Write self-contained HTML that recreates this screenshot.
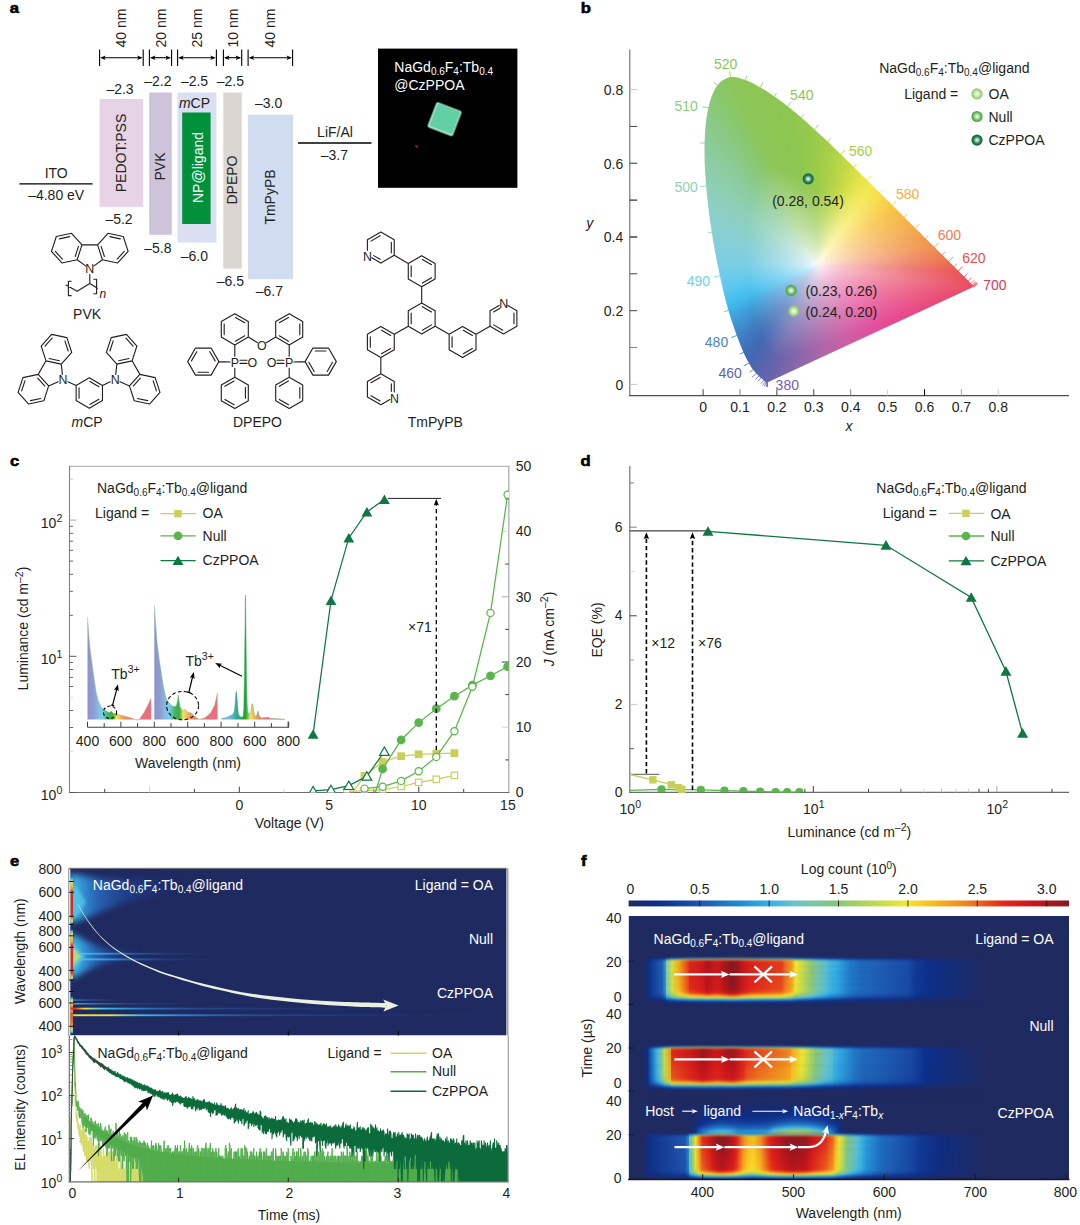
<!DOCTYPE html>
<html><head><meta charset="utf-8"><title>figure</title><style>
html,body{margin:0;padding:0;background:#fff}
body{width:1080px;height:1225px;position:relative;overflow:hidden;font-family:"Liberation Sans",sans-serif}
svg{position:absolute;left:0;top:0}
svg text{font-family:"Liberation Sans",sans-serif;font-size:14px;fill:#231F20}
</style></head><body>
<div style="position:absolute;left:696px;top:70px;width:284px;height:324px;background:conic-gradient(from 0deg at 121.8px 194.4px, #98CA4B -1.45deg, #ABD147 7.28deg, #C6DA45 16.77deg, #E4E449 26.15deg, #F4E74C 34.42deg, #F8DA47 42.99deg, #F8C742 51.44deg, #F4A846 69.58deg, #F08D49 81.58deg, #EC6C49 88.65deg, #E9514E 92.61deg, #E84755 96.25deg, #E8455B 98.09deg, #E8436C 104.38deg, #E74587 118.4deg, #E34C99 135.93deg, #CD5FA5 157.97deg, #B166A8 175.33deg, #9067AB 189.58deg, #7565AC 198.7deg, #6A62AC 203.12deg, #6463AD 204.98deg, #5466AF 209.45deg, #4468B2 214.92deg, #3F6FB8 220.15deg, #3F80C3 226.64deg, #3E9CD8 236.37deg, #42BCEE 246.36deg, #58C7EE 254.47deg, #78CEE6 268.15deg, #88CFD4 286.83deg, #8ECFB9 305.07deg, #8BCC9C 316.96deg, #89C980 324.99deg, #8AC768 330.76deg, #8CC65A 335.01deg, #8CC654 341.97deg, #8DC751 349.25deg, #98CA4B 358.55deg, #ABD147 367.28deg);clip-path:polygon(71.3px 312.6px, 71.2px 312.6px, 71px 312.6px, 70.8px 312.6px, 70.3px 312.5px, 69.4px 311.9px, 67.8px 310.4px, 67.5px 310.2px, 67.3px 310px, 67.1px 309.8px, 66.8px 309.6px, 66.5px 309.3px, 66.2px 309.1px, 65.9px 308.8px, 65.6px 308.5px, 65.3px 308.2px, 64.9px 307.9px, 64.5px 307.5px, 64.1px 307.2px, 63.7px 306.8px, 63.3px 306.5px, 62.8px 306px, 62.3px 305.6px, 61.8px 305.1px, 61.3px 304.6px, 60.8px 304.1px, 60.2px 303.5px, 59.7px 302.8px, 59.1px 302.2px, 58.5px 301.5px, 57.8px 300.6px, 57.1px 299.7px, 56.3px 298.6px, 55.5px 297.5px, 54.7px 296.2px, 53.8px 294.7px, 52.9px 293.1px, 51.9px 291.3px, 50.9px 289.4px, 49.8px 287.3px, 48.7px 285px, 47.5px 282.4px, 46.3px 279.6px, 45px 276.5px, 43.7px 273.2px, 42.3px 269.5px, 40.8px 265.5px, 39.2px 261.2px, 37.6px 256.5px, 35.9px 251.6px, 34.2px 246.2px, 32.5px 240.4px, 30.7px 234.3px, 29px 227.7px, 27.3px 220.7px, 25.5px 213.3px, 23.9px 205.7px, 22.2px 197.6px, 20.5px 189.1px, 18.8px 180.3px, 17.2px 171.3px, 15.8px 162.3px, 14.4px 153.2px, 13.1px 143.8px, 12px 134.4px, 11px 125.1px, 10.1px 116px, 9.5px 107.1px, 8.9px 98.2px, 8.6px 89.5px, 8.5px 81.1px, 8.5px 73.1px, 8.9px 65.4px, 9.4px 57.9px, 10.1px 50.8px, 11.1px 44.1px, 12.2px 38px, 13.7px 32.4px, 15.3px 27.2px, 17.2px 22.6px, 19.3px 18.6px, 21.5px 15.2px, 23.8px 12.5px, 26.3px 10.4px, 29px 8.9px, 31.7px 7.8px, 34.5px 7.1px, 37.4px 6.9px, 40.3px 7.3px, 43.3px 8px, 46.3px 8.9px, 49.2px 9.9px, 52.2px 11.1px, 55.2px 12.5px, 58.3px 14.1px, 61.2px 15.8px, 64.2px 17.4px, 67.1px 19.1px, 69.9px 20.8px, 72.7px 22.6px, 75.5px 24.5px, 78.3px 26.4px, 81px 28.3px, 83.7px 30.3px, 86.4px 32.3px, 89.1px 34.3px, 91.8px 36.4px, 94.5px 38.6px, 97.2px 40.8px, 99.9px 43px, 102.5px 45.2px, 105.2px 47.5px, 107.8px 49.8px, 110.5px 52.1px, 113.1px 54.5px, 115.8px 56.9px, 118.4px 59.3px, 121px 61.7px, 123.7px 64.2px, 126.3px 66.6px, 128.9px 69.1px, 131.6px 71.6px, 134.2px 74.1px, 136.8px 76.6px, 139.5px 79.2px, 142.1px 81.7px, 144.8px 84.3px, 147.4px 86.8px, 150px 89.4px, 152.7px 92px, 155.3px 94.6px, 157.9px 97.1px, 160.5px 99.7px, 163.2px 102.3px, 165.8px 104.9px, 168.4px 107.4px, 171px 110px, 173.6px 112.6px, 176.1px 115.1px, 178.7px 117.7px, 181.2px 120.2px, 183.8px 122.7px, 186.3px 125.2px, 188.8px 127.7px, 191.3px 130.2px, 193.8px 132.6px, 196.2px 135.1px, 198.6px 137.5px, 201.1px 139.9px, 203.4px 142.3px, 205.8px 144.6px, 208.1px 147px, 210.4px 149.2px, 212.7px 151.5px, 215px 153.7px, 217.2px 155.9px, 219.3px 158.1px, 221.5px 160.2px, 223.6px 162.3px, 225.6px 164.3px, 227.6px 166.4px, 229.6px 168.3px, 231.5px 170.2px, 233.3px 172px, 235px 173.7px, 236.8px 175.5px, 238.5px 177.1px, 240.1px 178.8px, 241.7px 180.4px, 243.3px 181.9px, 244.8px 183.5px, 246.3px 184.9px, 247.7px 186.3px, 249px 187.6px, 250.3px 188.9px, 251.6px 190.1px, 252.8px 191.3px, 253.9px 192.5px, 255px 193.6px, 256.1px 194.6px, 257.1px 195.6px, 258.1px 196.6px, 259px 197.5px, 259.9px 198.4px, 260.7px 199.2px, 261.5px 200px, 262.3px 200.8px, 263px 201.5px, 263.7px 202.2px, 264.4px 202.9px, 265px 203.5px, 265.6px 204.1px, 266.2px 204.7px, 266.8px 205.3px, 267.3px 205.8px, 267.8px 206.3px, 268.3px 206.8px, 268.8px 207.3px, 269.3px 207.7px, 269.7px 208.2px, 270.1px 208.6px, 270.6px 209px, 271px 209.4px, 271.4px 209.8px, 271.7px 210.2px, 272.1px 210.6px, 272.4px 210.9px, 275px 213.4px, 276.5px 214.9px, 277.2px 215.6px, 277.7px 216.2px, 278.1px 216.5px, 278.2px 216.6px)"></div>
<svg width="1080" height="1225" viewBox="0 0 1080 1225">
<defs><filter color-interpolation-filters="sRGB" id="bl07" x="-20%" y="-20%" width="140%" height="140%"><feGaussianBlur stdDeviation="0.7"/></filter><path id="cs" d="M-40.4 94.5L-43.2 92.8L-47.2 89.3L-49.3 87.2L-50.4 85.9L-51.8 84.2L-53.1 81.6L-54.7 78.3L-56.4 74.3L-58.4 69.2L-60.7 63L-63.2 55.5L-65.1 45.7L-67 34.5L-68.8 21.9L-70.5 8.1L-71 -6.7L-71 -21.5L-70.5 -35.6L-69.2 -48.6L-68.1 -60.6L-66.3 -71L-63.6 -79.5L-60.3 -86L-57.3 -92L-53.7 -95.9L-49.7 -97.5L-45.4 -97.4L-41.8 -97.6L-38.1 -96.8L-34.3 -95.5L-30.5 -93.8L-26.9 -91.9L-23.3 -89.9L-19.7 -87.7L-16.2 -85.3L-12.6 -82.8L-9.1 -80.1L-5.5 -77.2L-1.9 -74.3L1.9 -75.2L6 -75.6L10.6 -75.5L15.6 -75L21.1 -74L28.2 -76.1L36.7 -78.1L46.1 -79.2L55.6 -78L62 -71.7L68.3 -65.4L74.4 -59.3L80.6 -53.4L87.1 -47.8L93.5 -42.4L99.7 -37.1L105.8 -32L111.7 -27.1L117.2 -22.5L122.5 -18.1L126.9 -13.9L130.9 -10L134.6 -6.4L137.9 -3.2L141 -0.3L143.7 2.3L146.1 4.7L148.3 6.7L155.2 13.1L163.2 20.3L168.9 24L150.3 30.9L132.2 37.4L114.6 43.8L97.7 49.8L81 55.4L64.8 60.6L49.4 65.5L34.7 70.1L20.8 74.6L7.5 79.1L-5.2 83.3L-17.5 87.3L-29.2 91Z"/><clipPath id="cieclip"><path d="M767.3 382.6L767.2 382.6L767 382.6L766.8 382.6L766.3 382.5L765.4 381.9L763.8 380.4L763.5 380.2L763.3 380L763.1 379.8L762.8 379.6L762.5 379.3L762.2 379.1L761.9 378.8L761.6 378.5L761.3 378.2L760.9 377.9L760.5 377.5L760.1 377.2L759.7 376.8L759.3 376.5L758.8 376L758.3 375.6L757.8 375.1L757.3 374.6L756.8 374.1L756.2 373.5L755.7 372.8L755.1 372.2L754.5 371.5L753.8 370.6L753.1 369.7L752.3 368.6L751.5 367.5L750.7 366.2L749.8 364.7L748.9 363.1L747.9 361.3L746.9 359.4L745.8 357.3L744.7 355L743.5 352.4L742.3 349.6L741 346.5L739.7 343.2L738.3 339.5L736.8 335.5L735.2 331.2L733.6 326.5L731.9 321.6L730.2 316.2L728.5 310.4L726.7 304.3L725 297.7L723.3 290.7L721.5 283.3L719.9 275.7L718.2 267.6L716.5 259.1L714.8 250.3L713.2 241.3L711.8 232.3L710.4 223.2L709.1 213.8L708 204.4L707 195.1L706.1 186L705.5 177.1L704.9 168.2L704.6 159.5L704.5 151.1L704.5 143.1L704.9 135.4L705.4 127.9L706.1 120.8L707.1 114.1L708.2 108L709.7 102.4L711.3 97.2L713.2 92.6L715.3 88.6L717.5 85.2L719.8 82.5L722.3 80.4L725 78.9L727.7 77.8L730.5 77.1L733.4 76.9L736.3 77.3L739.3 78L742.3 78.9L745.2 79.9L748.2 81.1L751.2 82.5L754.3 84.1L757.2 85.8L760.2 87.4L763.1 89.1L765.9 90.8L768.7 92.6L771.5 94.5L774.3 96.4L777 98.3L779.7 100.3L782.4 102.3L785.1 104.3L787.8 106.4L790.5 108.6L793.2 110.8L795.9 113L798.5 115.2L801.2 117.5L803.8 119.8L806.5 122.1L809.1 124.5L811.8 126.9L814.4 129.3L817 131.7L819.7 134.2L822.3 136.6L824.9 139.1L827.6 141.6L830.2 144.1L832.8 146.6L835.5 149.2L838.1 151.7L840.8 154.3L843.4 156.8L846 159.4L848.7 162L851.3 164.6L853.9 167.1L856.5 169.7L859.2 172.3L861.8 174.9L864.4 177.4L867 180L869.6 182.6L872.1 185.1L874.7 187.7L877.2 190.2L879.8 192.7L882.3 195.2L884.8 197.7L887.3 200.2L889.8 202.6L892.2 205.1L894.6 207.5L897.1 209.9L899.4 212.3L901.8 214.6L904.1 217L906.4 219.2L908.7 221.5L911 223.7L913.2 225.9L915.3 228.1L917.5 230.2L919.6 232.3L921.6 234.3L923.6 236.4L925.6 238.3L927.5 240.2L929.3 242L931 243.7L932.8 245.5L934.5 247.1L936.1 248.8L937.7 250.4L939.3 251.9L940.8 253.5L942.3 254.9L943.7 256.3L945 257.6L946.3 258.9L947.6 260.1L948.8 261.3L949.9 262.5L951 263.6L952.1 264.6L953.1 265.6L954.1 266.6L955 267.5L955.9 268.4L956.7 269.2L957.5 270L958.3 270.8L959 271.5L959.7 272.2L960.4 272.9L961 273.5L961.6 274.1L962.2 274.7L962.8 275.3L963.3 275.8L963.8 276.3L964.3 276.8L964.8 277.3L965.3 277.7L965.7 278.2L966.1 278.6L966.6 279L967 279.4L967.4 279.8L967.7 280.2L968.1 280.6L968.4 280.9L971 283.4L972.5 284.9L973.2 285.6L973.7 286.2L974.1 286.5L974.2 286.6Z"/></clipPath><filter color-interpolation-filters="sRGB" id="cieblur" x="-10%" y="-10%" width="120%" height="120%"><feGaussianBlur stdDeviation="3"/></filter><radialGradient id="mCz"><stop offset="0" stop-color="#CFE3D4"/><stop offset="0.18" stop-color="#CFE3D4"/><stop offset="0.6" stop-color="#2E8558"/><stop offset="0.88" stop-color="#0B6B3A"/><stop offset="1" stop-color="#0B6B3A"/></radialGradient><radialGradient id="mNu"><stop offset="0" stop-color="#DFF0D8"/><stop offset="0.18" stop-color="#DFF0D8"/><stop offset="0.6" stop-color="#7CC26C"/><stop offset="0.88" stop-color="#4CA64B"/><stop offset="1" stop-color="#4CA64B"/></radialGradient><radialGradient id="mOA"><stop offset="0" stop-color="#EEF7E2"/><stop offset="0.18" stop-color="#EEF7E2"/><stop offset="0.6" stop-color="#B9DC9E"/><stop offset="0.88" stop-color="#92C96E"/><stop offset="1" stop-color="#92C96E"/></radialGradient>
<clipPath id="cclip"><rect x="69.5" y="466.3" width="439.3" height="326.2"/></clipPath><linearGradient id="sp0" gradientUnits="userSpaceOnUse" x1="87.5" y1="0" x2="154.3" y2="0"><stop offset="0" stop-color="#8C93C9"/><stop offset="0.09" stop-color="#8E9DD1"/><stop offset="0.16" stop-color="#88B9E4"/><stop offset="0.22" stop-color="#7CCFEA"/><stop offset="0.26" stop-color="#62C2B2"/><stop offset="0.3" stop-color="#4BB56C"/><stop offset="0.37" stop-color="#3AAB47"/><stop offset="0.41" stop-color="#9ACB4E"/><stop offset="0.43" stop-color="#F1EA5D"/><stop offset="0.47" stop-color="#F7C55E"/><stop offset="0.53" stop-color="#F39C5F"/><stop offset="0.6" stop-color="#F0806E"/><stop offset="0.7" stop-color="#EE6F80"/><stop offset="1" stop-color="#EE6C80"/></linearGradient><linearGradient id="sp1" gradientUnits="userSpaceOnUse" x1="154.3" y1="0" x2="221.1" y2="0"><stop offset="0" stop-color="#8C93C9"/><stop offset="0.09" stop-color="#8E9DD1"/><stop offset="0.16" stop-color="#88B9E4"/><stop offset="0.22" stop-color="#7CCFEA"/><stop offset="0.26" stop-color="#62C2B2"/><stop offset="0.3" stop-color="#4BB56C"/><stop offset="0.37" stop-color="#3AAB47"/><stop offset="0.41" stop-color="#9ACB4E"/><stop offset="0.43" stop-color="#F1EA5D"/><stop offset="0.47" stop-color="#F7C55E"/><stop offset="0.53" stop-color="#F39C5F"/><stop offset="0.6" stop-color="#F0806E"/><stop offset="0.7" stop-color="#EE6F80"/><stop offset="1" stop-color="#EE6C80"/></linearGradient><linearGradient id="sp2" gradientUnits="userSpaceOnUse" x1="221.3" y1="0" x2="288.1" y2="0"><stop offset="0" stop-color="#8C93C9"/><stop offset="0.09" stop-color="#8E9DD1"/><stop offset="0.16" stop-color="#88B9E4"/><stop offset="0.22" stop-color="#7CCFEA"/><stop offset="0.26" stop-color="#62C2B2"/><stop offset="0.3" stop-color="#4BB56C"/><stop offset="0.37" stop-color="#3AAB47"/><stop offset="0.41" stop-color="#9ACB4E"/><stop offset="0.43" stop-color="#F1EA5D"/><stop offset="0.47" stop-color="#F7C55E"/><stop offset="0.53" stop-color="#F39C5F"/><stop offset="0.6" stop-color="#F0806E"/><stop offset="0.7" stop-color="#EE6F80"/><stop offset="1" stop-color="#EE6C80"/></linearGradient><linearGradient id="sp3" gradientUnits="userSpaceOnUse" x1="221.3" y1="0" x2="288.1" y2="0"><stop offset="0" stop-color="#86B4E0"/><stop offset="0.12" stop-color="#7DB9E2"/><stop offset="0.18" stop-color="#55B0C8"/><stop offset="0.22" stop-color="#3AA99F"/><stop offset="0.25" stop-color="#36A882"/><stop offset="0.31" stop-color="#2BA653"/><stop offset="0.36" stop-color="#1BA23A"/><stop offset="0.4" stop-color="#7EC24A"/><stop offset="0.43" stop-color="#EFE85A"/><stop offset="0.47" stop-color="#F6C45C"/><stop offset="0.53" stop-color="#F1985D"/><stop offset="0.6" stop-color="#F0806E"/><stop offset="0.7" stop-color="#EE6F80"/><stop offset="1" stop-color="#EE6C80"/></linearGradient>
<clipPath id="dclip"><rect x="600" y="400" width="480" height="392.2"/></clipPath>
<filter color-interpolation-filters="sRGB" id="eb3" filterUnits="userSpaceOnUse" x="55" y="860" width="465" height="185"><feGaussianBlur stdDeviation="3"/></filter><filter color-interpolation-filters="sRGB" id="eb15" filterUnits="userSpaceOnUse" x="55" y="860" width="465" height="185"><feGaussianBlur stdDeviation="1.5"/></filter><filter color-interpolation-filters="sRGB" id="eb1" filterUnits="userSpaceOnUse" x="55" y="860" width="465" height="185"><feGaussianBlur stdDeviation="1"/></filter><filter color-interpolation-filters="sRGB" id="eb05" filterUnits="userSpaceOnUse" x="55" y="860" width="465" height="185"><feGaussianBlur stdDeviation="0.55"/></filter><clipPath id="eclip"><rect x="69.3" y="868.3" width="437.3" height="167.20000000000005"/></clipPath><linearGradient id="eg1" gradientUnits="userSpaceOnUse" x1="72" y1="0" x2="185" y2="0"><stop offset="0" stop-color="#45C6EE" stop-opacity="0.95"/><stop offset="0.07" stop-color="#38A6E4" stop-opacity="0.9"/><stop offset="0.21" stop-color="#2C78CE" stop-opacity="0.78"/><stop offset="0.47" stop-color="#2355B6" stop-opacity="0.5"/><stop offset="1" stop-color="#1F3A90" stop-opacity="0"/></linearGradient><linearGradient id="eg2" gradientUnits="userSpaceOnUse" x1="72" y1="0" x2="140" y2="0"><stop offset="0" stop-color="#45C6EE" stop-opacity="0.95"/><stop offset="0.15" stop-color="#35A6E4" stop-opacity="0.9"/><stop offset="0.38" stop-color="#2873CC" stop-opacity="0.7"/><stop offset="0.68" stop-color="#2251B2" stop-opacity="0.4"/><stop offset="1" stop-color="#1F3A90" stop-opacity="0"/></linearGradient><linearGradient id="es1" gradientUnits="userSpaceOnUse" x1="80" y1="0" x2="225" y2="0"><stop offset="0" stop-color="#4CC4EC" stop-opacity="0.9"/><stop offset="0.21" stop-color="#36A4E2" stop-opacity="0.8"/><stop offset="0.41" stop-color="#2B7ACE" stop-opacity="0.55"/><stop offset="0.66" stop-color="#2453B4" stop-opacity="0.3"/><stop offset="1" stop-color="#203C94" stop-opacity="0"/></linearGradient><linearGradient id="el1" gradientUnits="userSpaceOnUse" x1="72" y1="0" x2="508" y2="0"><stop offset="0" stop-color="#DD2A1E"/><stop offset="0.01" stop-color="#E8431E"/><stop offset="0.02" stop-color="#F2A524"/><stop offset="0.03" stop-color="#E6E24A"/><stop offset="0.05" stop-color="#86D29E"/><stop offset="0.08" stop-color="#41B8E8"/><stop offset="0.16" stop-color="#2F8AD6" stop-opacity="0.85"/><stop offset="0.29" stop-color="#2860BC" stop-opacity="0.55"/><stop offset="0.52" stop-color="#2248A4" stop-opacity="0.3"/><stop offset="0.75" stop-color="#21409A" stop-opacity="0.12"/><stop offset="1" stop-color="#21398C" stop-opacity="0.04"/></linearGradient><linearGradient id="el2" gradientUnits="userSpaceOnUse" x1="72" y1="0" x2="508" y2="0"><stop offset="0" stop-color="#F0B030"/><stop offset="0.01" stop-color="#E8E24C"/><stop offset="0.09" stop-color="#E2E250"/><stop offset="0.12" stop-color="#8AD2A0"/><stop offset="0.16" stop-color="#41B8E8"/><stop offset="0.27" stop-color="#2F8AD6" stop-opacity="0.85"/><stop offset="0.43" stop-color="#2860BC" stop-opacity="0.55"/><stop offset="0.66" stop-color="#2248A4" stop-opacity="0.3"/><stop offset="0.84" stop-color="#21409A" stop-opacity="0.12"/><stop offset="1" stop-color="#21398C" stop-opacity="0.05"/></linearGradient><linearGradient id="el3" gradientUnits="userSpaceOnUse" x1="72" y1="0" x2="220" y2="0"><stop offset="0" stop-color="#55C8EC" stop-opacity="0.85"/><stop offset="0.14" stop-color="#3DACE4" stop-opacity="0.6"/><stop offset="0.39" stop-color="#2B7ACE" stop-opacity="0.3"/><stop offset="1" stop-color="#203C94" stop-opacity="0"/></linearGradient><linearGradient id="el4" gradientUnits="userSpaceOnUse" x1="72" y1="0" x2="130" y2="0"><stop offset="0" stop-color="#45BCE8" stop-opacity="0.7"/><stop offset="0.28" stop-color="#3596DA" stop-opacity="0.4"/><stop offset="1" stop-color="#203C94" stop-opacity="0"/></linearGradient><linearGradient id="ev1" gradientUnits="userSpaceOnUse" x1="0" y1="877" x2="0" y2="924"><stop offset="0" stop-color="#2E9ADF" stop-opacity="0"/><stop offset="0.05" stop-color="#45C6EE"/><stop offset="0.11" stop-color="#E8E24C"/><stop offset="0.23" stop-color="#F2A524"/><stop offset="0.34" stop-color="#DD2A1E"/><stop offset="0.81" stop-color="#DD2A1E"/><stop offset="0.89" stop-color="#F2A524"/><stop offset="0.94" stop-color="#E8E24C"/><stop offset="0.97" stop-color="#45C6EE"/><stop offset="1" stop-color="#2E9ADF" stop-opacity="0"/></linearGradient><linearGradient id="ev2" gradientUnits="userSpaceOnUse" x1="0" y1="929" x2="0" y2="980"><stop offset="0" stop-color="#2E9ADF" stop-opacity="0"/><stop offset="0.05" stop-color="#45C6EE"/><stop offset="0.11" stop-color="#E8E24C"/><stop offset="0.25" stop-color="#F2A524"/><stop offset="0.33" stop-color="#DD2A1E"/><stop offset="0.86" stop-color="#DD2A1E"/><stop offset="0.92" stop-color="#F2A524"/><stop offset="0.96" stop-color="#E8E24C"/><stop offset="0.98" stop-color="#45C6EE"/><stop offset="1" stop-color="#2E9ADF" stop-opacity="0"/></linearGradient><linearGradient id="ev3" gradientUnits="userSpaceOnUse" x1="0" y1="996" x2="0" y2="1034"><stop offset="0" stop-color="#2E9ADF" stop-opacity="0"/><stop offset="0.07" stop-color="#45C6EE"/><stop offset="0.13" stop-color="#E8E24C"/><stop offset="0.26" stop-color="#F2A524"/><stop offset="0.33" stop-color="#DD2A1E"/><stop offset="0.39" stop-color="#F2A524"/><stop offset="0.47" stop-color="#E4501E"/><stop offset="0.68" stop-color="#E8711E"/><stop offset="0.82" stop-color="#F2A524"/><stop offset="0.89" stop-color="#E8E24C"/><stop offset="0.95" stop-color="#45C6EE"/><stop offset="1" stop-color="#2E9ADF" stop-opacity="0"/></linearGradient><clipPath id="e2clip"><rect x="69.89999999999999" y="1035.5" width="438.4" height="146.29999999999995"/></clipPath>
<filter color-interpolation-filters="sRGB" id="fb25" filterUnits="userSpaceOnUse" x="610" y="905" width="470" height="285"><feGaussianBlur stdDeviation="2.5"/></filter><filter color-interpolation-filters="sRGB" id="fb15" filterUnits="userSpaceOnUse" x="610" y="905" width="470" height="285"><feGaussianBlur stdDeviation="1.5"/></filter><filter color-interpolation-filters="sRGB" id="fb1" filterUnits="userSpaceOnUse" x="610" y="905" width="470" height="285"><feGaussianBlur stdDeviation="1.0"/></filter><filter color-interpolation-filters="sRGB" id="fb06" filterUnits="userSpaceOnUse" x="610" y="905" width="470" height="285"><feGaussianBlur stdDeviation="0.6"/></filter><filter color-interpolation-filters="sRGB" id="fb4" filterUnits="userSpaceOnUse" x="610" y="905" width="470" height="285"><feGaussianBlur stdDeviation="4.5"/></filter><filter color-interpolation-filters="sRGB" id="fvb" filterUnits="userSpaceOnUse" x="610" y="905" width="470" height="285"><feGaussianBlur stdDeviation="0 0.9"/></filter><clipPath id="fclip"><rect x="628.6" y="916" width="440.4" height="263.5999999999999"/></clipPath><linearGradient id="fcb" x1="0" y1="0" x2="1" y2="0"><stop offset="0" stop-color="#1F2A60"/><stop offset="0.03" stop-color="#162B78"/><stop offset="0.07" stop-color="#0B2F8C"/><stop offset="0.16" stop-color="#1F55AE"/><stop offset="0.25" stop-color="#1F8AD2"/><stop offset="0.32" stop-color="#35B0E6"/><stop offset="0.38" stop-color="#6CC5C6"/><stop offset="0.47" stop-color="#86C67A"/><stop offset="0.57" stop-color="#C5DB48"/><stop offset="0.63" stop-color="#F3E733"/><stop offset="0.69" stop-color="#F8BC1E"/><stop offset="0.76" stop-color="#F08A1E"/><stop offset="0.79" stop-color="#EC6A1E"/><stop offset="0.85" stop-color="#E3281B"/><stop offset="0.91" stop-color="#CE1719"/><stop offset="0.95" stop-color="#B5151B"/><stop offset="0.99" stop-color="#8C191E"/></linearGradient><linearGradient id="r0" gradientUnits="userSpaceOnUse" x1="645" x2="987"><stop offset="0" stop-color="#1F2A60"/><stop offset="0.01" stop-color="#1D2A66"/><stop offset="0.05" stop-color="#192B71"/><stop offset="0.06" stop-color="#152B7A"/><stop offset="0.06" stop-color="#112D81"/><stop offset="0.08" stop-color="#0C318E"/><stop offset="0.1" stop-color="#103894"/><stop offset="0.13" stop-color="#133F9A"/><stop offset="0.13" stop-color="#14409B"/><stop offset="0.17" stop-color="#15439E"/><stop offset="0.18" stop-color="#16459F"/><stop offset="0.21" stop-color="#15439E"/><stop offset="0.22" stop-color="#16439E"/><stop offset="0.23" stop-color="#1645A0"/><stop offset="0.25" stop-color="#1847A2"/><stop offset="0.26" stop-color="#1847A2"/><stop offset="0.27" stop-color="#1746A1"/><stop offset="0.29" stop-color="#15439E"/><stop offset="0.31" stop-color="#14409C"/><stop offset="0.32" stop-color="#14409B"/><stop offset="0.4" stop-color="#133E99"/><stop offset="0.41" stop-color="#123C97"/><stop offset="0.43" stop-color="#103995"/><stop offset="0.44" stop-color="#0D3390"/><stop offset="0.46" stop-color="#0C308D"/><stop offset="0.49" stop-color="#0E2E87"/><stop offset="0.5" stop-color="#0F2D84"/><stop offset="0.53" stop-color="#122C7F"/><stop offset="0.54" stop-color="#132C7D"/><stop offset="0.56" stop-color="#142C7C"/><stop offset="0.6" stop-color="#172B76"/><stop offset="0.63" stop-color="#182B73"/><stop offset="0.65" stop-color="#182B72"/><stop offset="0.77" stop-color="#1A2B6D"/><stop offset="0.79" stop-color="#1C2A69"/><stop offset="0.83" stop-color="#1D2A66"/><stop offset="1" stop-color="#1F2A60"/></linearGradient><linearGradient id="r1" gradientUnits="userSpaceOnUse" x1="645" x2="987"><stop offset="0" stop-color="#1F2A60"/><stop offset="0.01" stop-color="#182B73"/><stop offset="0.05" stop-color="#0C2F8A"/><stop offset="0.06" stop-color="#133E9A"/><stop offset="0.06" stop-color="#1D51AA"/><stop offset="0.08" stop-color="#1F7AC7"/><stop offset="0.1" stop-color="#2696D8"/><stop offset="0.13" stop-color="#38B1E4"/><stop offset="0.13" stop-color="#3EB3E1"/><stop offset="0.17" stop-color="#4FBAD7"/><stop offset="0.18" stop-color="#5CBFD0"/><stop offset="0.21" stop-color="#4EBAD7"/><stop offset="0.22" stop-color="#53BBD5"/><stop offset="0.23" stop-color="#5CBFCF"/><stop offset="0.25" stop-color="#6CC5C6"/><stop offset="0.26" stop-color="#6CC5C6"/><stop offset="0.27" stop-color="#64C2CB"/><stop offset="0.29" stop-color="#4FBAD7"/><stop offset="0.31" stop-color="#41B5DF"/><stop offset="0.32" stop-color="#3FB4E0"/><stop offset="0.4" stop-color="#34AFE5"/><stop offset="0.41" stop-color="#2FA5E0"/><stop offset="0.43" stop-color="#2798DA"/><stop offset="0.44" stop-color="#1F82CC"/><stop offset="0.46" stop-color="#1F75C4"/><stop offset="0.49" stop-color="#1F61B6"/><stop offset="0.5" stop-color="#1F57B0"/><stop offset="0.53" stop-color="#1A4BA5"/><stop offset="0.54" stop-color="#1847A2"/><stop offset="0.56" stop-color="#16439E"/><stop offset="0.6" stop-color="#0F3692"/><stop offset="0.63" stop-color="#0C318E"/><stop offset="0.65" stop-color="#0B308D"/><stop offset="0.77" stop-color="#102D82"/><stop offset="0.79" stop-color="#152B7A"/><stop offset="0.83" stop-color="#182B73"/><stop offset="1" stop-color="#1F2A60"/></linearGradient><linearGradient id="r2" gradientUnits="userSpaceOnUse" x1="645" x2="987"><stop offset="0" stop-color="#1F2A60"/><stop offset="0.01" stop-color="#132C7D"/><stop offset="0.05" stop-color="#14419C"/><stop offset="0.06" stop-color="#1F5FB5"/><stop offset="0.06" stop-color="#1F87D0"/><stop offset="0.08" stop-color="#68C3C9"/><stop offset="0.1" stop-color="#81C68A"/><stop offset="0.13" stop-color="#ADD35B"/><stop offset="0.13" stop-color="#B5D655"/><stop offset="0.17" stop-color="#CBDD45"/><stop offset="0.18" stop-color="#DCE13D"/><stop offset="0.21" stop-color="#CADC46"/><stop offset="0.22" stop-color="#D0DE43"/><stop offset="0.23" stop-color="#DDE13D"/><stop offset="0.25" stop-color="#F3E733"/><stop offset="0.26" stop-color="#F3E733"/><stop offset="0.27" stop-color="#E8E438"/><stop offset="0.29" stop-color="#CADC46"/><stop offset="0.31" stop-color="#B9D752"/><stop offset="0.32" stop-color="#B6D654"/><stop offset="0.4" stop-color="#A7D160"/><stop offset="0.41" stop-color="#95CB6E"/><stop offset="0.43" stop-color="#82C684"/><stop offset="0.44" stop-color="#71C5B8"/><stop offset="0.46" stop-color="#5BBFD0"/><stop offset="0.49" stop-color="#2FA6E0"/><stop offset="0.5" stop-color="#2595D8"/><stop offset="0.53" stop-color="#1F7BC8"/><stop offset="0.54" stop-color="#1F72C2"/><stop offset="0.56" stop-color="#1F69BC"/><stop offset="0.6" stop-color="#1B4EA8"/><stop offset="0.63" stop-color="#1746A0"/><stop offset="0.65" stop-color="#16449F"/><stop offset="0.77" stop-color="#0E3592"/><stop offset="0.79" stop-color="#0E2E87"/><stop offset="0.83" stop-color="#132C7D"/><stop offset="1" stop-color="#1F2A60"/></linearGradient><linearGradient id="r3" gradientUnits="userSpaceOnUse" x1="645" x2="987"><stop offset="0" stop-color="#1F2A60"/><stop offset="0.01" stop-color="#0E2E86"/><stop offset="0.05" stop-color="#1E54AD"/><stop offset="0.06" stop-color="#1F86CF"/><stop offset="0.06" stop-color="#4FBAD7"/><stop offset="0.08" stop-color="#A7D160"/><stop offset="0.1" stop-color="#F3E432"/><stop offset="0.13" stop-color="#F2951E"/><stop offset="0.13" stop-color="#F0871E"/><stop offset="0.17" stop-color="#EA581D"/><stop offset="0.18" stop-color="#E5351C"/><stop offset="0.21" stop-color="#EA5A1D"/><stop offset="0.22" stop-color="#E84E1D"/><stop offset="0.23" stop-color="#E5331C"/><stop offset="0.25" stop-color="#D81F1A"/><stop offset="0.26" stop-color="#D81F1A"/><stop offset="0.27" stop-color="#E0251B"/><stop offset="0.29" stop-color="#EA591D"/><stop offset="0.31" stop-color="#EE7E1E"/><stop offset="0.32" stop-color="#EF831E"/><stop offset="0.4" stop-color="#F39F1E"/><stop offset="0.41" stop-color="#F8BC1E"/><stop offset="0.43" stop-color="#F4DE2F"/><stop offset="0.44" stop-color="#BCD84F"/><stop offset="0.46" stop-color="#9ACD6A"/><stop offset="0.49" stop-color="#77C5A7"/><stop offset="0.5" stop-color="#6BC5C6"/><stop offset="0.53" stop-color="#36B0E6"/><stop offset="0.54" stop-color="#2DA2DF"/><stop offset="0.56" stop-color="#2595D8"/><stop offset="0.6" stop-color="#1F6CBE"/><stop offset="0.63" stop-color="#1F5DB3"/><stop offset="0.65" stop-color="#1F5AB1"/><stop offset="0.77" stop-color="#16449F"/><stop offset="0.79" stop-color="#0E3591"/><stop offset="0.83" stop-color="#0E2E86"/><stop offset="1" stop-color="#1F2A60"/></linearGradient><linearGradient id="r4" gradientUnits="userSpaceOnUse" x1="645" x2="987"><stop offset="0" stop-color="#1F2A60"/><stop offset="0.01" stop-color="#0C2F8A"/><stop offset="0.05" stop-color="#1F5FB5"/><stop offset="0.06" stop-color="#299BDB"/><stop offset="0.06" stop-color="#70C5BA"/><stop offset="0.08" stop-color="#DAE03F"/><stop offset="0.1" stop-color="#F4A41E"/><stop offset="0.13" stop-color="#E42C1B"/><stop offset="0.13" stop-color="#DE241B"/><stop offset="0.17" stop-color="#CB1719"/><stop offset="0.18" stop-color="#AC161C"/><stop offset="0.21" stop-color="#CC1719"/><stop offset="0.22" stop-color="#C3161A"/><stop offset="0.23" stop-color="#AA161C"/><stop offset="0.25" stop-color="#8C191E"/><stop offset="0.26" stop-color="#8C191E"/><stop offset="0.27" stop-color="#96181D"/><stop offset="0.29" stop-color="#CC1719"/><stop offset="0.31" stop-color="#DB211A"/><stop offset="0.32" stop-color="#DD231A"/><stop offset="0.4" stop-color="#E63B1C"/><stop offset="0.41" stop-color="#EC681E"/><stop offset="0.43" stop-color="#F39C1E"/><stop offset="0.44" stop-color="#F3E632"/><stop offset="0.46" stop-color="#C9DC46"/><stop offset="0.49" stop-color="#88C779"/><stop offset="0.5" stop-color="#7AC69C"/><stop offset="0.53" stop-color="#5CBFCF"/><stop offset="0.54" stop-color="#45B6DD"/><stop offset="0.56" stop-color="#33ACE4"/><stop offset="0.6" stop-color="#1F7CC8"/><stop offset="0.63" stop-color="#1F6ABC"/><stop offset="0.65" stop-color="#1F67BA"/><stop offset="0.77" stop-color="#1A4BA5"/><stop offset="0.79" stop-color="#113A96"/><stop offset="0.83" stop-color="#0C2F8B"/><stop offset="1" stop-color="#1F2A60"/></linearGradient><linearGradient id="r5" gradientUnits="userSpaceOnUse" x1="645" x2="987"><stop offset="0" stop-color="#1F2A60"/><stop offset="0.01" stop-color="#0C2F8A"/><stop offset="0.05" stop-color="#1F5FB5"/><stop offset="0.06" stop-color="#289ADA"/><stop offset="0.06" stop-color="#70C5BC"/><stop offset="0.08" stop-color="#D8E040"/><stop offset="0.1" stop-color="#F5A71E"/><stop offset="0.13" stop-color="#E4311B"/><stop offset="0.13" stop-color="#DF251B"/><stop offset="0.17" stop-color="#CE1719"/><stop offset="0.18" stop-color="#B0151B"/><stop offset="0.21" stop-color="#CF1819"/><stop offset="0.22" stop-color="#C6161A"/><stop offset="0.23" stop-color="#AE161B"/><stop offset="0.25" stop-color="#8C191E"/><stop offset="0.26" stop-color="#8C191E"/><stop offset="0.27" stop-color="#9B181D"/><stop offset="0.29" stop-color="#CF1819"/><stop offset="0.31" stop-color="#DC221A"/><stop offset="0.32" stop-color="#DE241B"/><stop offset="0.4" stop-color="#E63F1C"/><stop offset="0.41" stop-color="#EC6C1E"/><stop offset="0.43" stop-color="#F39F1E"/><stop offset="0.44" stop-color="#F2E733"/><stop offset="0.46" stop-color="#C7DC47"/><stop offset="0.49" stop-color="#86C67A"/><stop offset="0.5" stop-color="#7AC69E"/><stop offset="0.53" stop-color="#5BBED0"/><stop offset="0.54" stop-color="#44B6DE"/><stop offset="0.56" stop-color="#32ABE3"/><stop offset="0.6" stop-color="#1F7BC8"/><stop offset="0.63" stop-color="#1F6ABC"/><stop offset="0.65" stop-color="#1F66BA"/><stop offset="0.77" stop-color="#1A4BA5"/><stop offset="0.79" stop-color="#113A95"/><stop offset="0.83" stop-color="#0C2F8A"/><stop offset="1" stop-color="#1F2A60"/></linearGradient><linearGradient id="r6" gradientUnits="userSpaceOnUse" x1="645" x2="987"><stop offset="0" stop-color="#1F2A60"/><stop offset="0.01" stop-color="#0C2F8A"/><stop offset="0.05" stop-color="#1F5EB4"/><stop offset="0.06" stop-color="#2899DA"/><stop offset="0.06" stop-color="#6FC5BD"/><stop offset="0.08" stop-color="#D5DF41"/><stop offset="0.1" stop-color="#F5AA1E"/><stop offset="0.13" stop-color="#E5351C"/><stop offset="0.13" stop-color="#E1261B"/><stop offset="0.17" stop-color="#D01819"/><stop offset="0.18" stop-color="#B4151B"/><stop offset="0.21" stop-color="#D01919"/><stop offset="0.22" stop-color="#CA1719"/><stop offset="0.23" stop-color="#B3151B"/><stop offset="0.25" stop-color="#8C191E"/><stop offset="0.26" stop-color="#8C191E"/><stop offset="0.27" stop-color="#9F171D"/><stop offset="0.29" stop-color="#D01919"/><stop offset="0.31" stop-color="#DE241A"/><stop offset="0.32" stop-color="#E0251B"/><stop offset="0.4" stop-color="#E7441C"/><stop offset="0.41" stop-color="#ED701E"/><stop offset="0.43" stop-color="#F4A21E"/><stop offset="0.44" stop-color="#F0E635"/><stop offset="0.46" stop-color="#C5DB48"/><stop offset="0.49" stop-color="#85C67C"/><stop offset="0.5" stop-color="#79C6A0"/><stop offset="0.53" stop-color="#59BED1"/><stop offset="0.54" stop-color="#42B5DE"/><stop offset="0.56" stop-color="#31AAE3"/><stop offset="0.6" stop-color="#1F7BC8"/><stop offset="0.63" stop-color="#1F69BC"/><stop offset="0.65" stop-color="#1F66B9"/><stop offset="0.77" stop-color="#194AA5"/><stop offset="0.79" stop-color="#103995"/><stop offset="0.83" stop-color="#0C2F8A"/><stop offset="1" stop-color="#1F2A60"/></linearGradient><linearGradient id="r7" gradientUnits="userSpaceOnUse" x1="645" x2="987"><stop offset="0" stop-color="#1F2A60"/><stop offset="0.01" stop-color="#0C2E89"/><stop offset="0.05" stop-color="#1F5EB4"/><stop offset="0.06" stop-color="#2798D9"/><stop offset="0.06" stop-color="#6EC5BF"/><stop offset="0.08" stop-color="#D3DF42"/><stop offset="0.1" stop-color="#F6AD1E"/><stop offset="0.13" stop-color="#E53A1C"/><stop offset="0.13" stop-color="#E2271B"/><stop offset="0.17" stop-color="#D11A19"/><stop offset="0.18" stop-color="#B8151B"/><stop offset="0.21" stop-color="#D21A19"/><stop offset="0.22" stop-color="#CE1719"/><stop offset="0.23" stop-color="#B7151B"/><stop offset="0.25" stop-color="#8E191E"/><stop offset="0.26" stop-color="#8E191E"/><stop offset="0.27" stop-color="#A3171C"/><stop offset="0.29" stop-color="#D21A19"/><stop offset="0.31" stop-color="#DF251B"/><stop offset="0.32" stop-color="#E1261B"/><stop offset="0.4" stop-color="#E7481C"/><stop offset="0.41" stop-color="#ED741E"/><stop offset="0.43" stop-color="#F4A51E"/><stop offset="0.44" stop-color="#EDE636"/><stop offset="0.46" stop-color="#C3DA49"/><stop offset="0.49" stop-color="#85C67E"/><stop offset="0.5" stop-color="#79C5A1"/><stop offset="0.53" stop-color="#57BDD2"/><stop offset="0.54" stop-color="#41B4DF"/><stop offset="0.56" stop-color="#31A9E2"/><stop offset="0.6" stop-color="#1F7AC7"/><stop offset="0.63" stop-color="#1F69BB"/><stop offset="0.65" stop-color="#1F65B9"/><stop offset="0.77" stop-color="#194AA4"/><stop offset="0.79" stop-color="#103995"/><stop offset="0.83" stop-color="#0C2F8A"/><stop offset="1" stop-color="#1F2A60"/></linearGradient><linearGradient id="r8" gradientUnits="userSpaceOnUse" x1="645" x2="987"><stop offset="0" stop-color="#1F2A60"/><stop offset="0.01" stop-color="#0C2E89"/><stop offset="0.05" stop-color="#1F5DB4"/><stop offset="0.06" stop-color="#2797D9"/><stop offset="0.06" stop-color="#6EC5C0"/><stop offset="0.08" stop-color="#D1DE43"/><stop offset="0.1" stop-color="#F6B01E"/><stop offset="0.13" stop-color="#E63E1C"/><stop offset="0.13" stop-color="#E32A1B"/><stop offset="0.17" stop-color="#D31B19"/><stop offset="0.18" stop-color="#BC161A"/><stop offset="0.21" stop-color="#D31B1A"/><stop offset="0.22" stop-color="#CF1819"/><stop offset="0.23" stop-color="#BA151B"/><stop offset="0.25" stop-color="#92181E"/><stop offset="0.26" stop-color="#92181E"/><stop offset="0.27" stop-color="#A7161C"/><stop offset="0.29" stop-color="#D31B1A"/><stop offset="0.31" stop-color="#E1261B"/><stop offset="0.32" stop-color="#E2281B"/><stop offset="0.4" stop-color="#E84C1D"/><stop offset="0.41" stop-color="#EE781E"/><stop offset="0.43" stop-color="#F5A81E"/><stop offset="0.44" stop-color="#EBE537"/><stop offset="0.46" stop-color="#C1DA4B"/><stop offset="0.49" stop-color="#84C680"/><stop offset="0.5" stop-color="#78C5A3"/><stop offset="0.53" stop-color="#56BDD3"/><stop offset="0.54" stop-color="#3FB4E0"/><stop offset="0.56" stop-color="#30A8E2"/><stop offset="0.6" stop-color="#1F79C7"/><stop offset="0.63" stop-color="#1F68BB"/><stop offset="0.65" stop-color="#1F65B9"/><stop offset="0.77" stop-color="#194AA4"/><stop offset="0.79" stop-color="#103995"/><stop offset="0.83" stop-color="#0C2F8A"/><stop offset="1" stop-color="#1F2A60"/></linearGradient><linearGradient id="r9" gradientUnits="userSpaceOnUse" x1="645" x2="987"><stop offset="0" stop-color="#1F2A60"/><stop offset="0.01" stop-color="#0D2E89"/><stop offset="0.05" stop-color="#1F5CB3"/><stop offset="0.06" stop-color="#2696D8"/><stop offset="0.06" stop-color="#6DC5C3"/><stop offset="0.08" stop-color="#CDDD44"/><stop offset="0.1" stop-color="#F7B51E"/><stop offset="0.13" stop-color="#E7461C"/><stop offset="0.13" stop-color="#E4331B"/><stop offset="0.17" stop-color="#D61D1A"/><stop offset="0.18" stop-color="#C3161A"/><stop offset="0.21" stop-color="#D61E1A"/><stop offset="0.22" stop-color="#D21A19"/><stop offset="0.23" stop-color="#C2161A"/><stop offset="0.25" stop-color="#9A181D"/><stop offset="0.26" stop-color="#9A181D"/><stop offset="0.27" stop-color="#AF161B"/><stop offset="0.29" stop-color="#D61E1A"/><stop offset="0.31" stop-color="#E3291B"/><stop offset="0.32" stop-color="#E42F1B"/><stop offset="0.4" stop-color="#E9551D"/><stop offset="0.41" stop-color="#EF801E"/><stop offset="0.43" stop-color="#F6AD1E"/><stop offset="0.44" stop-color="#E7E439"/><stop offset="0.46" stop-color="#BED94E"/><stop offset="0.49" stop-color="#83C683"/><stop offset="0.5" stop-color="#77C5A6"/><stop offset="0.53" stop-color="#53BBD5"/><stop offset="0.54" stop-color="#3CB3E2"/><stop offset="0.56" stop-color="#2FA6E1"/><stop offset="0.6" stop-color="#1F78C6"/><stop offset="0.63" stop-color="#1F67BA"/><stop offset="0.65" stop-color="#1F64B8"/><stop offset="0.77" stop-color="#1949A4"/><stop offset="0.79" stop-color="#103995"/><stop offset="0.83" stop-color="#0C2E89"/><stop offset="1" stop-color="#1F2A60"/></linearGradient><linearGradient id="r10" gradientUnits="userSpaceOnUse" x1="645" x2="987"><stop offset="0" stop-color="#1F2A60"/><stop offset="0.01" stop-color="#0D2E88"/><stop offset="0.05" stop-color="#1F5BB2"/><stop offset="0.06" stop-color="#2493D7"/><stop offset="0.06" stop-color="#6AC4C7"/><stop offset="0.08" stop-color="#C7DC47"/><stop offset="0.1" stop-color="#F8BD1E"/><stop offset="0.13" stop-color="#E9521D"/><stop offset="0.13" stop-color="#E63F1C"/><stop offset="0.17" stop-color="#DA211A"/><stop offset="0.18" stop-color="#CE1719"/><stop offset="0.21" stop-color="#DB211A"/><stop offset="0.22" stop-color="#D61E1A"/><stop offset="0.23" stop-color="#CC1719"/><stop offset="0.25" stop-color="#A6161C"/><stop offset="0.26" stop-color="#A6161C"/><stop offset="0.27" stop-color="#BA151B"/><stop offset="0.29" stop-color="#DA211A"/><stop offset="0.31" stop-color="#E5351C"/><stop offset="0.32" stop-color="#E63B1C"/><stop offset="0.4" stop-color="#EB611E"/><stop offset="0.41" stop-color="#F08A1E"/><stop offset="0.43" stop-color="#F7B51E"/><stop offset="0.44" stop-color="#E0E23B"/><stop offset="0.46" stop-color="#B8D752"/><stop offset="0.49" stop-color="#81C688"/><stop offset="0.5" stop-color="#75C5AB"/><stop offset="0.53" stop-color="#4FBAD7"/><stop offset="0.54" stop-color="#38B1E4"/><stop offset="0.56" stop-color="#2EA4E0"/><stop offset="0.6" stop-color="#1F76C5"/><stop offset="0.63" stop-color="#1F66B9"/><stop offset="0.65" stop-color="#1F62B7"/><stop offset="0.77" stop-color="#1848A3"/><stop offset="0.79" stop-color="#103894"/><stop offset="0.83" stop-color="#0D2E89"/><stop offset="1" stop-color="#1F2A60"/></linearGradient><linearGradient id="r11" gradientUnits="userSpaceOnUse" x1="645" x2="987"><stop offset="0" stop-color="#1F2A60"/><stop offset="0.01" stop-color="#0D2E88"/><stop offset="0.05" stop-color="#1F5AB1"/><stop offset="0.06" stop-color="#2391D6"/><stop offset="0.06" stop-color="#65C2CA"/><stop offset="0.08" stop-color="#C1DA4B"/><stop offset="0.1" stop-color="#F7C422"/><stop offset="0.13" stop-color="#EA5F1D"/><stop offset="0.13" stop-color="#E84C1D"/><stop offset="0.17" stop-color="#DE241B"/><stop offset="0.18" stop-color="#D21A19"/><stop offset="0.21" stop-color="#DF241B"/><stop offset="0.22" stop-color="#DB211A"/><stop offset="0.23" stop-color="#D21A19"/><stop offset="0.25" stop-color="#B2151B"/><stop offset="0.26" stop-color="#B2151B"/><stop offset="0.27" stop-color="#C5161A"/><stop offset="0.29" stop-color="#DF241B"/><stop offset="0.31" stop-color="#E7421C"/><stop offset="0.32" stop-color="#E7481C"/><stop offset="0.4" stop-color="#EC6C1E"/><stop offset="0.41" stop-color="#F1931E"/><stop offset="0.43" stop-color="#F8BD1E"/><stop offset="0.44" stop-color="#DAE13E"/><stop offset="0.46" stop-color="#B3D556"/><stop offset="0.49" stop-color="#7FC68E"/><stop offset="0.5" stop-color="#74C5B0"/><stop offset="0.53" stop-color="#4AB8DA"/><stop offset="0.54" stop-color="#35B0E6"/><stop offset="0.56" stop-color="#2CA1DE"/><stop offset="0.6" stop-color="#1F75C3"/><stop offset="0.63" stop-color="#1F64B8"/><stop offset="0.65" stop-color="#1F61B6"/><stop offset="0.77" stop-color="#1848A2"/><stop offset="0.79" stop-color="#0F3794"/><stop offset="0.83" stop-color="#0D2E89"/><stop offset="1" stop-color="#1F2A60"/></linearGradient><linearGradient id="r12" gradientUnits="userSpaceOnUse" x1="645" x2="987"><stop offset="0" stop-color="#1F2A60"/><stop offset="0.01" stop-color="#0E2E87"/><stop offset="0.05" stop-color="#1F57B0"/><stop offset="0.06" stop-color="#218DD4"/><stop offset="0.06" stop-color="#5EBFCE"/><stop offset="0.08" stop-color="#B8D752"/><stop offset="0.1" stop-color="#F6CF27"/><stop offset="0.13" stop-color="#ED731E"/><stop offset="0.13" stop-color="#EB601E"/><stop offset="0.17" stop-color="#E42E1B"/><stop offset="0.18" stop-color="#D9201A"/><stop offset="0.21" stop-color="#E4301B"/><stop offset="0.22" stop-color="#E2271B"/><stop offset="0.23" stop-color="#D9201A"/><stop offset="0.25" stop-color="#C5161A"/><stop offset="0.26" stop-color="#C5161A"/><stop offset="0.27" stop-color="#D21A19"/><stop offset="0.29" stop-color="#E4301B"/><stop offset="0.31" stop-color="#E9571D"/><stop offset="0.32" stop-color="#EA5D1D"/><stop offset="0.4" stop-color="#EF801E"/><stop offset="0.41" stop-color="#F4A11E"/><stop offset="0.43" stop-color="#F7C824"/><stop offset="0.44" stop-color="#D0DE43"/><stop offset="0.46" stop-color="#AAD25D"/><stop offset="0.49" stop-color="#7CC696"/><stop offset="0.5" stop-color="#71C5B8"/><stop offset="0.53" stop-color="#43B5DE"/><stop offset="0.54" stop-color="#32ABE3"/><stop offset="0.56" stop-color="#2A9DDC"/><stop offset="0.6" stop-color="#1F72C1"/><stop offset="0.63" stop-color="#1F61B6"/><stop offset="0.65" stop-color="#1F5EB4"/><stop offset="0.77" stop-color="#1746A1"/><stop offset="0.79" stop-color="#0F3793"/><stop offset="0.83" stop-color="#0D2E88"/><stop offset="1" stop-color="#1F2A60"/></linearGradient><linearGradient id="r13" gradientUnits="userSpaceOnUse" x1="645" x2="987"><stop offset="0" stop-color="#1F2A60"/><stop offset="0.01" stop-color="#0F2E85"/><stop offset="0.05" stop-color="#1E52AC"/><stop offset="0.06" stop-color="#1F84CE"/><stop offset="0.06" stop-color="#49B8DA"/><stop offset="0.08" stop-color="#A0CF65"/><stop offset="0.1" stop-color="#EDE536"/><stop offset="0.13" stop-color="#F4A01E"/><stop offset="0.13" stop-color="#F1931E"/><stop offset="0.17" stop-color="#EC681E"/><stop offset="0.18" stop-color="#E7461C"/><stop offset="0.21" stop-color="#EC6A1E"/><stop offset="0.22" stop-color="#EA5F1D"/><stop offset="0.23" stop-color="#E7441C"/><stop offset="0.25" stop-color="#DE241B"/><stop offset="0.26" stop-color="#DE241B"/><stop offset="0.27" stop-color="#E4301B"/><stop offset="0.29" stop-color="#EC6A1E"/><stop offset="0.31" stop-color="#F08C1E"/><stop offset="0.32" stop-color="#F1901E"/><stop offset="0.4" stop-color="#F5AA1E"/><stop offset="0.41" stop-color="#F7C523"/><stop offset="0.43" stop-color="#F3E633"/><stop offset="0.44" stop-color="#B5D654"/><stop offset="0.46" stop-color="#93CA6F"/><stop offset="0.49" stop-color="#74C5AD"/><stop offset="0.5" stop-color="#65C2CA"/><stop offset="0.53" stop-color="#33ADE4"/><stop offset="0.54" stop-color="#2B9FDD"/><stop offset="0.56" stop-color="#2492D6"/><stop offset="0.6" stop-color="#1F6ABC"/><stop offset="0.63" stop-color="#1F5BB2"/><stop offset="0.65" stop-color="#1F58B0"/><stop offset="0.77" stop-color="#15439E"/><stop offset="0.79" stop-color="#0E3491"/><stop offset="0.83" stop-color="#0F2E86"/><stop offset="1" stop-color="#1F2A60"/></linearGradient><linearGradient id="r14" gradientUnits="userSpaceOnUse" x1="645" x2="987"><stop offset="0" stop-color="#1F2A60"/><stop offset="0.01" stop-color="#102D83"/><stop offset="0.05" stop-color="#1B4EA8"/><stop offset="0.06" stop-color="#1F7AC7"/><stop offset="0.06" stop-color="#35B0E6"/><stop offset="0.08" stop-color="#89C778"/><stop offset="0.1" stop-color="#CDDD44"/><stop offset="0.13" stop-color="#F7C723"/><stop offset="0.13" stop-color="#F8BC1E"/><stop offset="0.17" stop-color="#F39B1E"/><stop offset="0.18" stop-color="#EF821E"/><stop offset="0.21" stop-color="#F39D1E"/><stop offset="0.22" stop-color="#F2951E"/><stop offset="0.23" stop-color="#EF801E"/><stop offset="0.25" stop-color="#EA581D"/><stop offset="0.26" stop-color="#EA581D"/><stop offset="0.27" stop-color="#EC6D1E"/><stop offset="0.29" stop-color="#F39D1E"/><stop offset="0.31" stop-color="#F7B61E"/><stop offset="0.32" stop-color="#F8BA1E"/><stop offset="0.4" stop-color="#F6CE27"/><stop offset="0.41" stop-color="#F3E632"/><stop offset="0.43" stop-color="#D3DF41"/><stop offset="0.44" stop-color="#9CCD69"/><stop offset="0.46" stop-color="#82C685"/><stop offset="0.49" stop-color="#6DC5C4"/><stop offset="0.5" stop-color="#4EBAD7"/><stop offset="0.53" stop-color="#2CA0DD"/><stop offset="0.54" stop-color="#2493D7"/><stop offset="0.56" stop-color="#1F87D0"/><stop offset="0.6" stop-color="#1F62B7"/><stop offset="0.63" stop-color="#1F54AE"/><stop offset="0.65" stop-color="#1E52AC"/><stop offset="0.77" stop-color="#143F9B"/><stop offset="0.79" stop-color="#0C328E"/><stop offset="0.83" stop-color="#102D83"/><stop offset="1" stop-color="#1F2A60"/></linearGradient><linearGradient id="r15" gradientUnits="userSpaceOnUse" x1="645" x2="987"><stop offset="0" stop-color="#1F2A60"/><stop offset="0.01" stop-color="#112D81"/><stop offset="0.05" stop-color="#1949A3"/><stop offset="0.06" stop-color="#1F71C1"/><stop offset="0.06" stop-color="#2CA1DE"/><stop offset="0.08" stop-color="#7DC694"/><stop offset="0.1" stop-color="#AFD459"/><stop offset="0.13" stop-color="#F0E634"/><stop offset="0.13" stop-color="#F4E030"/><stop offset="0.17" stop-color="#F7C623"/><stop offset="0.18" stop-color="#F6B11E"/><stop offset="0.21" stop-color="#F7C723"/><stop offset="0.22" stop-color="#F7C020"/><stop offset="0.23" stop-color="#F6B01E"/><stop offset="0.25" stop-color="#F2941E"/><stop offset="0.26" stop-color="#F2941E"/><stop offset="0.27" stop-color="#F4A21E"/><stop offset="0.29" stop-color="#F7C723"/><stop offset="0.31" stop-color="#F4DB2D"/><stop offset="0.32" stop-color="#F4DE2F"/><stop offset="0.4" stop-color="#E9E438"/><stop offset="0.41" stop-color="#D2DE42"/><stop offset="0.43" stop-color="#B5D655"/><stop offset="0.44" stop-color="#85C67E"/><stop offset="0.46" stop-color="#79C5A1"/><stop offset="0.49" stop-color="#55BCD3"/><stop offset="0.5" stop-color="#38B1E4"/><stop offset="0.53" stop-color="#2493D6"/><stop offset="0.54" stop-color="#1F87D0"/><stop offset="0.56" stop-color="#1F7CC9"/><stop offset="0.6" stop-color="#1F5BB2"/><stop offset="0.63" stop-color="#1C4FA9"/><stop offset="0.65" stop-color="#1B4DA7"/><stop offset="0.77" stop-color="#123C98"/><stop offset="0.79" stop-color="#0B2F8C"/><stop offset="0.83" stop-color="#112D81"/><stop offset="1" stop-color="#1F2A60"/></linearGradient><linearGradient id="r16" gradientUnits="userSpaceOnUse" x1="645" x2="987"><stop offset="0" stop-color="#1F2A60"/><stop offset="0.01" stop-color="#132C7E"/><stop offset="0.05" stop-color="#16439E"/><stop offset="0.06" stop-color="#1F64B8"/><stop offset="0.06" stop-color="#218ED4"/><stop offset="0.08" stop-color="#70C5BB"/><stop offset="0.1" stop-color="#88C779"/><stop offset="0.13" stop-color="#BED94E"/><stop offset="0.13" stop-color="#C6DB47"/><stop offset="0.17" stop-color="#DFE23C"/><stop offset="0.18" stop-color="#F1E734"/><stop offset="0.21" stop-color="#DEE23C"/><stop offset="0.22" stop-color="#E4E33A"/><stop offset="0.23" stop-color="#F2E733"/><stop offset="0.25" stop-color="#F5D229"/><stop offset="0.26" stop-color="#F5D229"/><stop offset="0.27" stop-color="#F4DD2E"/><stop offset="0.29" stop-color="#DEE23C"/><stop offset="0.31" stop-color="#CBDD45"/><stop offset="0.32" stop-color="#C8DC47"/><stop offset="0.4" stop-color="#B8D753"/><stop offset="0.41" stop-color="#A5D061"/><stop offset="0.43" stop-color="#8CC875"/><stop offset="0.44" stop-color="#76C5A8"/><stop offset="0.46" stop-color="#6BC4C7"/><stop offset="0.49" stop-color="#34AEE5"/><stop offset="0.5" stop-color="#2A9DDC"/><stop offset="0.53" stop-color="#1F81CC"/><stop offset="0.54" stop-color="#1F78C5"/><stop offset="0.56" stop-color="#1F6EBF"/><stop offset="0.6" stop-color="#1D51AB"/><stop offset="0.63" stop-color="#1848A3"/><stop offset="0.65" stop-color="#1747A1"/><stop offset="0.77" stop-color="#0F3793"/><stop offset="0.79" stop-color="#0D2E88"/><stop offset="0.83" stop-color="#122C7E"/><stop offset="1" stop-color="#1F2A60"/></linearGradient><linearGradient id="r17" gradientUnits="userSpaceOnUse" x1="645" x2="987"><stop offset="0" stop-color="#1F2A60"/><stop offset="0.01" stop-color="#162B78"/><stop offset="0.05" stop-color="#0F3692"/><stop offset="0.06" stop-color="#1A4BA5"/><stop offset="0.06" stop-color="#1F67BA"/><stop offset="0.08" stop-color="#2CA0DE"/><stop offset="0.1" stop-color="#53BCD4"/><stop offset="0.13" stop-color="#75C5AC"/><stop offset="0.13" stop-color="#77C5A5"/><stop offset="0.17" stop-color="#7EC691"/><stop offset="0.18" stop-color="#83C682"/><stop offset="0.21" stop-color="#7EC692"/><stop offset="0.22" stop-color="#80C68D"/><stop offset="0.23" stop-color="#84C681"/><stop offset="0.25" stop-color="#90C972"/><stop offset="0.26" stop-color="#90C972"/><stop offset="0.27" stop-color="#87C679"/><stop offset="0.29" stop-color="#7EC691"/><stop offset="0.31" stop-color="#79C5A1"/><stop offset="0.32" stop-color="#78C5A3"/><stop offset="0.4" stop-color="#73C5B2"/><stop offset="0.41" stop-color="#6DC5C3"/><stop offset="0.43" stop-color="#58BDD2"/><stop offset="0.44" stop-color="#32ABE3"/><stop offset="0.46" stop-color="#2899DA"/><stop offset="0.49" stop-color="#1F7ECA"/><stop offset="0.5" stop-color="#1F71C1"/><stop offset="0.53" stop-color="#1F5EB4"/><stop offset="0.54" stop-color="#1F57AF"/><stop offset="0.56" stop-color="#1D51AB"/><stop offset="0.6" stop-color="#14409C"/><stop offset="0.63" stop-color="#113A96"/><stop offset="0.65" stop-color="#103995"/><stop offset="0.77" stop-color="#0C2F8A"/><stop offset="0.79" stop-color="#122C7F"/><stop offset="0.83" stop-color="#162B78"/><stop offset="1" stop-color="#1F2A60"/></linearGradient><linearGradient id="r18" gradientUnits="userSpaceOnUse" x1="645" x2="987"><stop offset="0" stop-color="#1F2A60"/><stop offset="0.01" stop-color="#192B70"/><stop offset="0.05" stop-color="#0F2E86"/><stop offset="0.06" stop-color="#103894"/><stop offset="0.06" stop-color="#1848A3"/><stop offset="0.08" stop-color="#1F69BC"/><stop offset="0.1" stop-color="#1F80CC"/><stop offset="0.13" stop-color="#2798D9"/><stop offset="0.13" stop-color="#299CDB"/><stop offset="0.17" stop-color="#2FA6E1"/><stop offset="0.18" stop-color="#33ADE5"/><stop offset="0.21" stop-color="#2FA6E1"/><stop offset="0.22" stop-color="#30A8E2"/><stop offset="0.23" stop-color="#34AEE5"/><stop offset="0.25" stop-color="#3FB4E0"/><stop offset="0.26" stop-color="#3FB4E0"/><stop offset="0.27" stop-color="#38B1E4"/><stop offset="0.29" stop-color="#2FA6E1"/><stop offset="0.31" stop-color="#2A9EDC"/><stop offset="0.32" stop-color="#2A9DDC"/><stop offset="0.4" stop-color="#2695D8"/><stop offset="0.41" stop-color="#218DD4"/><stop offset="0.43" stop-color="#1F82CD"/><stop offset="0.44" stop-color="#1F70C0"/><stop offset="0.46" stop-color="#1F65B9"/><stop offset="0.49" stop-color="#1E54AD"/><stop offset="0.5" stop-color="#1B4DA7"/><stop offset="0.53" stop-color="#16449E"/><stop offset="0.54" stop-color="#14409B"/><stop offset="0.56" stop-color="#123C98"/><stop offset="0.6" stop-color="#0C318E"/><stop offset="0.63" stop-color="#0D2E89"/><stop offset="0.65" stop-color="#0D2E88"/><stop offset="0.77" stop-color="#122C7E"/><stop offset="0.79" stop-color="#162B77"/><stop offset="0.83" stop-color="#192B70"/><stop offset="1" stop-color="#1F2A60"/></linearGradient><linearGradient id="r19" gradientUnits="userSpaceOnUse" x1="645" x2="987"><stop offset="0" stop-color="#1F2A60"/><stop offset="0.01" stop-color="#1B2A6B"/><stop offset="0.05" stop-color="#142C7C"/><stop offset="0.06" stop-color="#0D2E88"/><stop offset="0.06" stop-color="#0F3793"/><stop offset="0.08" stop-color="#194AA4"/><stop offset="0.1" stop-color="#1F57AF"/><stop offset="0.13" stop-color="#1F66BA"/><stop offset="0.13" stop-color="#1F68BB"/><stop offset="0.17" stop-color="#1F6FC0"/><stop offset="0.18" stop-color="#1F74C3"/><stop offset="0.21" stop-color="#1F6FBF"/><stop offset="0.22" stop-color="#1F70C0"/><stop offset="0.23" stop-color="#1F74C3"/><stop offset="0.25" stop-color="#1F7AC7"/><stop offset="0.26" stop-color="#1F7AC7"/><stop offset="0.27" stop-color="#1F77C5"/><stop offset="0.29" stop-color="#1F6FBF"/><stop offset="0.31" stop-color="#1F6ABC"/><stop offset="0.32" stop-color="#1F69BC"/><stop offset="0.4" stop-color="#1F64B8"/><stop offset="0.41" stop-color="#1F5FB5"/><stop offset="0.43" stop-color="#1F58B0"/><stop offset="0.44" stop-color="#1B4EA7"/><stop offset="0.46" stop-color="#1848A2"/><stop offset="0.49" stop-color="#133F9A"/><stop offset="0.5" stop-color="#113A96"/><stop offset="0.53" stop-color="#0D3490"/><stop offset="0.54" stop-color="#0C318E"/><stop offset="0.56" stop-color="#0B2F8C"/><stop offset="0.6" stop-color="#112D82"/><stop offset="0.63" stop-color="#132C7E"/><stop offset="0.65" stop-color="#132C7E"/><stop offset="0.77" stop-color="#162B77"/><stop offset="0.79" stop-color="#192B70"/><stop offset="0.83" stop-color="#1B2A6B"/><stop offset="1" stop-color="#1F2A60"/></linearGradient><linearGradient id="r20" gradientUnits="userSpaceOnUse" x1="645" x2="987"><stop offset="0" stop-color="#1F2A60"/><stop offset="0.01" stop-color="#1D2A66"/><stop offset="0.05" stop-color="#192B71"/><stop offset="0.06" stop-color="#152B7A"/><stop offset="0.06" stop-color="#112D82"/><stop offset="0.08" stop-color="#0D328F"/><stop offset="0.1" stop-color="#103995"/><stop offset="0.13" stop-color="#14409B"/><stop offset="0.13" stop-color="#14419C"/><stop offset="0.17" stop-color="#16449E"/><stop offset="0.18" stop-color="#1746A0"/><stop offset="0.21" stop-color="#16449E"/><stop offset="0.22" stop-color="#16449F"/><stop offset="0.23" stop-color="#1746A0"/><stop offset="0.25" stop-color="#1849A3"/><stop offset="0.26" stop-color="#1849A3"/><stop offset="0.27" stop-color="#1847A2"/><stop offset="0.29" stop-color="#16449E"/><stop offset="0.31" stop-color="#15419C"/><stop offset="0.32" stop-color="#14419C"/><stop offset="0.4" stop-color="#133F9A"/><stop offset="0.41" stop-color="#123D98"/><stop offset="0.43" stop-color="#113A95"/><stop offset="0.44" stop-color="#0E3490"/><stop offset="0.46" stop-color="#0C318E"/><stop offset="0.49" stop-color="#0D2E87"/><stop offset="0.5" stop-color="#0F2D84"/><stop offset="0.53" stop-color="#122D80"/><stop offset="0.54" stop-color="#132C7E"/><stop offset="0.56" stop-color="#142C7C"/><stop offset="0.6" stop-color="#172B76"/><stop offset="0.63" stop-color="#182B73"/><stop offset="0.65" stop-color="#182B72"/><stop offset="0.77" stop-color="#1A2B6D"/><stop offset="0.79" stop-color="#1C2A69"/><stop offset="0.83" stop-color="#1D2A66"/><stop offset="1" stop-color="#1F2A60"/></linearGradient><linearGradient id="r21" gradientUnits="userSpaceOnUse" x1="645" x2="987"><stop offset="0" stop-color="#1F2A60"/><stop offset="0.01" stop-color="#1E2A62"/><stop offset="0.05" stop-color="#1D2A66"/><stop offset="0.06" stop-color="#1C2A69"/><stop offset="0.06" stop-color="#1A2B6D"/><stop offset="0.08" stop-color="#182B73"/><stop offset="0.1" stop-color="#162B77"/><stop offset="0.13" stop-color="#152B7A"/><stop offset="0.13" stop-color="#142C7B"/><stop offset="0.17" stop-color="#142C7C"/><stop offset="0.18" stop-color="#132C7D"/><stop offset="0.21" stop-color="#142C7C"/><stop offset="0.22" stop-color="#142C7C"/><stop offset="0.23" stop-color="#132C7D"/><stop offset="0.25" stop-color="#132C7E"/><stop offset="0.26" stop-color="#132C7E"/><stop offset="0.27" stop-color="#132C7D"/><stop offset="0.29" stop-color="#142C7C"/><stop offset="0.31" stop-color="#142C7B"/><stop offset="0.32" stop-color="#142C7B"/><stop offset="0.4" stop-color="#152B7A"/><stop offset="0.41" stop-color="#152B79"/><stop offset="0.43" stop-color="#162B78"/><stop offset="0.44" stop-color="#172B75"/><stop offset="0.46" stop-color="#182B73"/><stop offset="0.49" stop-color="#192B6F"/><stop offset="0.5" stop-color="#1A2B6E"/><stop offset="0.53" stop-color="#1B2A6C"/><stop offset="0.54" stop-color="#1B2A6B"/><stop offset="0.56" stop-color="#1B2A6A"/><stop offset="0.6" stop-color="#1C2A67"/><stop offset="0.63" stop-color="#1D2A66"/><stop offset="0.65" stop-color="#1D2A66"/><stop offset="0.77" stop-color="#1D2A64"/><stop offset="0.79" stop-color="#1E2A63"/><stop offset="0.83" stop-color="#1E2A62"/><stop offset="1" stop-color="#1F2A60"/></linearGradient><linearGradient id="r22" gradientUnits="userSpaceOnUse" x1="644" x2="987"><stop offset="0" stop-color="#1F2A60"/><stop offset="0.01" stop-color="#1D2A67"/><stop offset="0.03" stop-color="#152B79"/><stop offset="0.04" stop-color="#122C7E"/><stop offset="0.05" stop-color="#102D83"/><stop offset="0.06" stop-color="#0C318D"/><stop offset="0.08" stop-color="#113A96"/><stop offset="0.08" stop-color="#143F9B"/><stop offset="0.09" stop-color="#14409B"/><stop offset="0.14" stop-color="#15439E"/><stop offset="0.17" stop-color="#1746A0"/><stop offset="0.18" stop-color="#1745A0"/><stop offset="0.21" stop-color="#15439E"/><stop offset="0.22" stop-color="#16439E"/><stop offset="0.24" stop-color="#1745A0"/><stop offset="0.26" stop-color="#1746A1"/><stop offset="0.29" stop-color="#15419C"/><stop offset="0.3" stop-color="#143F9B"/><stop offset="0.33" stop-color="#133E99"/><stop offset="0.41" stop-color="#113B97"/><stop offset="0.43" stop-color="#113A96"/><stop offset="0.43" stop-color="#103894"/><stop offset="0.46" stop-color="#0D3490"/><stop offset="0.47" stop-color="#0C328E"/><stop offset="0.5" stop-color="#0E2E87"/><stop offset="0.53" stop-color="#112D81"/><stop offset="0.55" stop-color="#122C7F"/><stop offset="0.55" stop-color="#132C7E"/><stop offset="0.57" stop-color="#142C7B"/><stop offset="0.62" stop-color="#172B75"/><stop offset="0.64" stop-color="#182B73"/><stop offset="0.67" stop-color="#182B72"/><stop offset="0.78" stop-color="#1A2B6C"/><stop offset="0.82" stop-color="#1C2A67"/><stop offset="0.84" stop-color="#1D2A66"/><stop offset="1" stop-color="#1F2A60"/></linearGradient><linearGradient id="r23" gradientUnits="userSpaceOnUse" x1="644" x2="987"><stop offset="0" stop-color="#1F2A60"/><stop offset="0.01" stop-color="#182B74"/><stop offset="0.03" stop-color="#123D99"/><stop offset="0.04" stop-color="#194AA4"/><stop offset="0.05" stop-color="#1F56AF"/><stop offset="0.06" stop-color="#1F77C5"/><stop offset="0.08" stop-color="#2A9DDC"/><stop offset="0.08" stop-color="#3BB2E3"/><stop offset="0.09" stop-color="#3EB3E1"/><stop offset="0.14" stop-color="#51BBD6"/><stop offset="0.17" stop-color="#62C1CC"/><stop offset="0.18" stop-color="#5FC0CD"/><stop offset="0.21" stop-color="#50BAD6"/><stop offset="0.22" stop-color="#52BBD5"/><stop offset="0.24" stop-color="#5DBFCF"/><stop offset="0.26" stop-color="#63C2CB"/><stop offset="0.29" stop-color="#47B7DC"/><stop offset="0.3" stop-color="#3BB2E2"/><stop offset="0.33" stop-color="#34AEE5"/><stop offset="0.41" stop-color="#2DA2DF"/><stop offset="0.43" stop-color="#2A9CDC"/><stop offset="0.43" stop-color="#2697D9"/><stop offset="0.46" stop-color="#1F83CD"/><stop offset="0.47" stop-color="#1F7BC8"/><stop offset="0.5" stop-color="#1F62B7"/><stop offset="0.53" stop-color="#1C50A9"/><stop offset="0.55" stop-color="#1A4BA5"/><stop offset="0.55" stop-color="#1848A3"/><stop offset="0.57" stop-color="#15429D"/><stop offset="0.62" stop-color="#0E3491"/><stop offset="0.64" stop-color="#0C318E"/><stop offset="0.67" stop-color="#0B2F8C"/><stop offset="0.78" stop-color="#112D81"/><stop offset="0.82" stop-color="#172B75"/><stop offset="0.84" stop-color="#182B71"/><stop offset="1" stop-color="#1F2A60"/></linearGradient><linearGradient id="r24" gradientUnits="userSpaceOnUse" x1="644" x2="987"><stop offset="0" stop-color="#1F2A60"/><stop offset="0.01" stop-color="#132C7E"/><stop offset="0.03" stop-color="#1F5CB3"/><stop offset="0.04" stop-color="#1F77C5"/><stop offset="0.05" stop-color="#2492D6"/><stop offset="0.06" stop-color="#60C0CD"/><stop offset="0.08" stop-color="#86C67A"/><stop offset="0.08" stop-color="#B0D458"/><stop offset="0.09" stop-color="#B4D555"/><stop offset="0.14" stop-color="#CDDD44"/><stop offset="0.17" stop-color="#E6E339"/><stop offset="0.18" stop-color="#E1E23B"/><stop offset="0.21" stop-color="#CCDD45"/><stop offset="0.22" stop-color="#CFDE43"/><stop offset="0.24" stop-color="#DEE23D"/><stop offset="0.26" stop-color="#E6E439"/><stop offset="0.29" stop-color="#BFD94C"/><stop offset="0.3" stop-color="#B1D458"/><stop offset="0.33" stop-color="#A4D062"/><stop offset="0.41" stop-color="#90C972"/><stop offset="0.43" stop-color="#86C67B"/><stop offset="0.43" stop-color="#81C688"/><stop offset="0.46" stop-color="#72C5B5"/><stop offset="0.47" stop-color="#6BC4C7"/><stop offset="0.5" stop-color="#30A7E1"/><stop offset="0.53" stop-color="#1F84CE"/><stop offset="0.55" stop-color="#1F7BC8"/><stop offset="0.55" stop-color="#1F74C3"/><stop offset="0.57" stop-color="#1F67BA"/><stop offset="0.62" stop-color="#1A4BA5"/><stop offset="0.64" stop-color="#1746A0"/><stop offset="0.67" stop-color="#16449E"/><stop offset="0.78" stop-color="#0E3490"/><stop offset="0.82" stop-color="#122D80"/><stop offset="0.84" stop-color="#142C7B"/><stop offset="1" stop-color="#1F2A60"/></linearGradient><linearGradient id="r25" gradientUnits="userSpaceOnUse" x1="644" x2="987"><stop offset="0" stop-color="#1F2A60"/><stop offset="0.01" stop-color="#0E2E87"/><stop offset="0.03" stop-color="#1F82CD"/><stop offset="0.04" stop-color="#32ABE3"/><stop offset="0.05" stop-color="#67C3C9"/><stop offset="0.06" stop-color="#9FCE66"/><stop offset="0.08" stop-color="#F6D128"/><stop offset="0.08" stop-color="#F18F1E"/><stop offset="0.09" stop-color="#F0871E"/><stop offset="0.14" stop-color="#E9541D"/><stop offset="0.17" stop-color="#E1261B"/><stop offset="0.18" stop-color="#E32A1B"/><stop offset="0.21" stop-color="#E9561D"/><stop offset="0.22" stop-color="#E84F1D"/><stop offset="0.24" stop-color="#E4311B"/><stop offset="0.26" stop-color="#E1261B"/><stop offset="0.29" stop-color="#ED701E"/><stop offset="0.3" stop-color="#F18D1E"/><stop offset="0.33" stop-color="#F4A21E"/><stop offset="0.41" stop-color="#F7C322"/><stop offset="0.43" stop-color="#F5D329"/><stop offset="0.43" stop-color="#F4E231"/><stop offset="0.46" stop-color="#C0D94C"/><stop offset="0.47" stop-color="#AAD25D"/><stop offset="0.5" stop-color="#78C5A4"/><stop offset="0.53" stop-color="#4AB8DA"/><stop offset="0.55" stop-color="#36B0E6"/><stop offset="0.55" stop-color="#2FA6E1"/><stop offset="0.57" stop-color="#2493D7"/><stop offset="0.62" stop-color="#1F67BA"/><stop offset="0.64" stop-color="#1F5DB3"/><stop offset="0.67" stop-color="#1F58B0"/><stop offset="0.78" stop-color="#15429D"/><stop offset="0.82" stop-color="#0C2F8A"/><stop offset="0.84" stop-color="#102D83"/><stop offset="1" stop-color="#1F2A60"/></linearGradient><linearGradient id="r26" gradientUnits="userSpaceOnUse" x1="644" x2="987"><stop offset="0" stop-color="#1F2A60"/><stop offset="0.01" stop-color="#0B2F8B"/><stop offset="0.03" stop-color="#2595D8"/><stop offset="0.04" stop-color="#51BBD5"/><stop offset="0.05" stop-color="#78C5A2"/><stop offset="0.06" stop-color="#CEDD44"/><stop offset="0.08" stop-color="#F18E1E"/><stop offset="0.08" stop-color="#E2281B"/><stop offset="0.09" stop-color="#DF251B"/><stop offset="0.14" stop-color="#CA1719"/><stop offset="0.17" stop-color="#9D171D"/><stop offset="0.18" stop-color="#A5171C"/><stop offset="0.21" stop-color="#CC1719"/><stop offset="0.22" stop-color="#C6161A"/><stop offset="0.24" stop-color="#AB161C"/><stop offset="0.26" stop-color="#9C171D"/><stop offset="0.29" stop-color="#D61E1A"/><stop offset="0.3" stop-color="#E2271B"/><stop offset="0.33" stop-color="#E7441C"/><stop offset="0.41" stop-color="#EE771E"/><stop offset="0.43" stop-color="#F18F1E"/><stop offset="0.43" stop-color="#F4A41E"/><stop offset="0.46" stop-color="#F3E431"/><stop offset="0.47" stop-color="#DCE13D"/><stop offset="0.5" stop-color="#89C777"/><stop offset="0.53" stop-color="#6EC5C0"/><stop offset="0.55" stop-color="#5BBFD0"/><stop offset="0.55" stop-color="#4AB8DA"/><stop offset="0.57" stop-color="#31A9E2"/><stop offset="0.62" stop-color="#1F75C4"/><stop offset="0.64" stop-color="#1F6ABC"/><stop offset="0.67" stop-color="#1F65B9"/><stop offset="0.78" stop-color="#1848A3"/><stop offset="0.82" stop-color="#0C318E"/><stop offset="0.84" stop-color="#0E2E87"/><stop offset="1" stop-color="#1F2A60"/></linearGradient><linearGradient id="r27" gradientUnits="userSpaceOnUse" x1="644" x2="987"><stop offset="0" stop-color="#1F2A60"/><stop offset="0.01" stop-color="#0C2F8B"/><stop offset="0.03" stop-color="#2493D7"/><stop offset="0.04" stop-color="#4EB9D8"/><stop offset="0.05" stop-color="#77C5A6"/><stop offset="0.06" stop-color="#C9DC46"/><stop offset="0.08" stop-color="#F2951E"/><stop offset="0.08" stop-color="#E4311B"/><stop offset="0.09" stop-color="#E3281B"/><stop offset="0.14" stop-color="#D01919"/><stop offset="0.17" stop-color="#A7161C"/><stop offset="0.18" stop-color="#AF161B"/><stop offset="0.21" stop-color="#D11919"/><stop offset="0.22" stop-color="#CE1719"/><stop offset="0.24" stop-color="#B5151B"/><stop offset="0.26" stop-color="#A6161C"/><stop offset="0.29" stop-color="#DA211A"/><stop offset="0.3" stop-color="#E42F1B"/><stop offset="0.33" stop-color="#E84E1D"/><stop offset="0.41" stop-color="#EF801E"/><stop offset="0.43" stop-color="#F2971E"/><stop offset="0.43" stop-color="#F5AB1E"/><stop offset="0.46" stop-color="#F1E634"/><stop offset="0.47" stop-color="#D7E040"/><stop offset="0.5" stop-color="#86C67B"/><stop offset="0.53" stop-color="#6DC5C4"/><stop offset="0.55" stop-color="#57BDD2"/><stop offset="0.55" stop-color="#47B7DC"/><stop offset="0.57" stop-color="#2FA6E1"/><stop offset="0.62" stop-color="#1F74C3"/><stop offset="0.64" stop-color="#1F68BB"/><stop offset="0.67" stop-color="#1F64B8"/><stop offset="0.78" stop-color="#1848A2"/><stop offset="0.82" stop-color="#0C318E"/><stop offset="0.84" stop-color="#0E2E87"/><stop offset="1" stop-color="#1F2A60"/></linearGradient><linearGradient id="r28" gradientUnits="userSpaceOnUse" x1="644" x2="987"><stop offset="0" stop-color="#1F2A60"/><stop offset="0.01" stop-color="#0C2F8A"/><stop offset="0.03" stop-color="#2391D6"/><stop offset="0.04" stop-color="#4AB8DA"/><stop offset="0.05" stop-color="#75C5AA"/><stop offset="0.06" stop-color="#C4DB49"/><stop offset="0.08" stop-color="#F39C1E"/><stop offset="0.08" stop-color="#E63C1C"/><stop offset="0.09" stop-color="#E4321B"/><stop offset="0.14" stop-color="#D41C1A"/><stop offset="0.17" stop-color="#B1151B"/><stop offset="0.18" stop-color="#B9151B"/><stop offset="0.21" stop-color="#D41C1A"/><stop offset="0.22" stop-color="#D21A19"/><stop offset="0.24" stop-color="#BE161A"/><stop offset="0.26" stop-color="#B0151B"/><stop offset="0.29" stop-color="#DE241A"/><stop offset="0.3" stop-color="#E53A1C"/><stop offset="0.33" stop-color="#EA581D"/><stop offset="0.41" stop-color="#F08A1E"/><stop offset="0.43" stop-color="#F39E1E"/><stop offset="0.43" stop-color="#F6B21E"/><stop offset="0.46" stop-color="#EBE536"/><stop offset="0.47" stop-color="#D1DE42"/><stop offset="0.5" stop-color="#84C67F"/><stop offset="0.53" stop-color="#6AC4C7"/><stop offset="0.55" stop-color="#54BCD4"/><stop offset="0.55" stop-color="#43B5DE"/><stop offset="0.57" stop-color="#2EA4E0"/><stop offset="0.62" stop-color="#1F72C2"/><stop offset="0.64" stop-color="#1F67BA"/><stop offset="0.67" stop-color="#1F62B7"/><stop offset="0.78" stop-color="#1847A1"/><stop offset="0.82" stop-color="#0C308D"/><stop offset="0.84" stop-color="#0E2E86"/><stop offset="1" stop-color="#1F2A60"/></linearGradient><linearGradient id="r29" gradientUnits="userSpaceOnUse" x1="644" x2="987"><stop offset="0" stop-color="#1F2A60"/><stop offset="0.01" stop-color="#0C2F8A"/><stop offset="0.03" stop-color="#228FD5"/><stop offset="0.04" stop-color="#46B7DC"/><stop offset="0.05" stop-color="#74C5AE"/><stop offset="0.06" stop-color="#BFD94D"/><stop offset="0.08" stop-color="#F4A31E"/><stop offset="0.08" stop-color="#E7461C"/><stop offset="0.09" stop-color="#E63D1C"/><stop offset="0.14" stop-color="#D71F1A"/><stop offset="0.17" stop-color="#BB151B"/><stop offset="0.18" stop-color="#C2161A"/><stop offset="0.21" stop-color="#D81F1A"/><stop offset="0.22" stop-color="#D61D1A"/><stop offset="0.24" stop-color="#C8161A"/><stop offset="0.26" stop-color="#BA151B"/><stop offset="0.29" stop-color="#E1261B"/><stop offset="0.3" stop-color="#E7451C"/><stop offset="0.33" stop-color="#EB631E"/><stop offset="0.41" stop-color="#F1911E"/><stop offset="0.43" stop-color="#F4A51E"/><stop offset="0.43" stop-color="#F7B91E"/><stop offset="0.46" stop-color="#E6E439"/><stop offset="0.47" stop-color="#CCDD45"/><stop offset="0.5" stop-color="#83C684"/><stop offset="0.53" stop-color="#66C3CA"/><stop offset="0.55" stop-color="#50BAD6"/><stop offset="0.55" stop-color="#3FB4E0"/><stop offset="0.57" stop-color="#2DA2DF"/><stop offset="0.62" stop-color="#1F71C1"/><stop offset="0.64" stop-color="#1F66B9"/><stop offset="0.67" stop-color="#1F61B6"/><stop offset="0.78" stop-color="#1746A1"/><stop offset="0.82" stop-color="#0B308D"/><stop offset="0.84" stop-color="#0E2E86"/><stop offset="1" stop-color="#1F2A60"/></linearGradient><linearGradient id="r30" gradientUnits="userSpaceOnUse" x1="644" x2="987"><stop offset="0" stop-color="#1F2A60"/><stop offset="0.01" stop-color="#0C2F8A"/><stop offset="0.03" stop-color="#218DD4"/><stop offset="0.04" stop-color="#43B5DE"/><stop offset="0.05" stop-color="#73C5B2"/><stop offset="0.06" stop-color="#BBD850"/><stop offset="0.08" stop-color="#F5AA1E"/><stop offset="0.08" stop-color="#E9511D"/><stop offset="0.09" stop-color="#E7471C"/><stop offset="0.14" stop-color="#DB221A"/><stop offset="0.17" stop-color="#C4161A"/><stop offset="0.18" stop-color="#CB1719"/><stop offset="0.21" stop-color="#DC221A"/><stop offset="0.22" stop-color="#DA201A"/><stop offset="0.24" stop-color="#CF1819"/><stop offset="0.26" stop-color="#C3161A"/><stop offset="0.29" stop-color="#E42D1B"/><stop offset="0.3" stop-color="#E84F1D"/><stop offset="0.33" stop-color="#EC6D1E"/><stop offset="0.41" stop-color="#F2991E"/><stop offset="0.43" stop-color="#F5AC1E"/><stop offset="0.43" stop-color="#F8BF20"/><stop offset="0.46" stop-color="#E0E23C"/><stop offset="0.47" stop-color="#C7DC47"/><stop offset="0.5" stop-color="#81C689"/><stop offset="0.53" stop-color="#62C1CC"/><stop offset="0.55" stop-color="#4CB9D9"/><stop offset="0.55" stop-color="#3CB3E2"/><stop offset="0.57" stop-color="#2CA0DD"/><stop offset="0.62" stop-color="#1F6FC0"/><stop offset="0.64" stop-color="#1F64B8"/><stop offset="0.67" stop-color="#1F60B5"/><stop offset="0.78" stop-color="#1746A0"/><stop offset="0.82" stop-color="#0B308C"/><stop offset="0.84" stop-color="#0E2E86"/><stop offset="1" stop-color="#1F2A60"/></linearGradient><linearGradient id="r31" gradientUnits="userSpaceOnUse" x1="644" x2="987"><stop offset="0" stop-color="#1F2A60"/><stop offset="0.01" stop-color="#0C2E89"/><stop offset="0.03" stop-color="#208CD3"/><stop offset="0.04" stop-color="#40B4DF"/><stop offset="0.05" stop-color="#72C5B5"/><stop offset="0.06" stop-color="#B8D753"/><stop offset="0.08" stop-color="#F6AF1E"/><stop offset="0.08" stop-color="#EA581D"/><stop offset="0.09" stop-color="#E84E1D"/><stop offset="0.14" stop-color="#DD231A"/><stop offset="0.17" stop-color="#CA1719"/><stop offset="0.18" stop-color="#CF1819"/><stop offset="0.21" stop-color="#DE241B"/><stop offset="0.22" stop-color="#DC221A"/><stop offset="0.24" stop-color="#D21A19"/><stop offset="0.26" stop-color="#C91719"/><stop offset="0.29" stop-color="#E5341C"/><stop offset="0.3" stop-color="#E9561D"/><stop offset="0.33" stop-color="#ED741E"/><stop offset="0.41" stop-color="#F39D1E"/><stop offset="0.43" stop-color="#F6B11E"/><stop offset="0.43" stop-color="#F7C321"/><stop offset="0.46" stop-color="#DDE13D"/><stop offset="0.47" stop-color="#C4DB49"/><stop offset="0.5" stop-color="#80C68B"/><stop offset="0.53" stop-color="#5FC0CD"/><stop offset="0.55" stop-color="#4AB8DA"/><stop offset="0.55" stop-color="#3AB2E3"/><stop offset="0.57" stop-color="#2B9EDD"/><stop offset="0.62" stop-color="#1F6FBF"/><stop offset="0.64" stop-color="#1F64B8"/><stop offset="0.67" stop-color="#1F5FB5"/><stop offset="0.78" stop-color="#1745A0"/><stop offset="0.82" stop-color="#0B2F8C"/><stop offset="0.84" stop-color="#0F2E85"/><stop offset="1" stop-color="#1F2A60"/></linearGradient><linearGradient id="r32" gradientUnits="userSpaceOnUse" x1="644" x2="987"><stop offset="0" stop-color="#1F2A60"/><stop offset="0.01" stop-color="#0D2E89"/><stop offset="0.03" stop-color="#208BD3"/><stop offset="0.04" stop-color="#40B4E0"/><stop offset="0.05" stop-color="#71C5B6"/><stop offset="0.06" stop-color="#B6D654"/><stop offset="0.08" stop-color="#F6B11E"/><stop offset="0.08" stop-color="#EA5B1D"/><stop offset="0.09" stop-color="#E9511D"/><stop offset="0.14" stop-color="#DE241B"/><stop offset="0.17" stop-color="#CD1719"/><stop offset="0.18" stop-color="#D01919"/><stop offset="0.21" stop-color="#DF251B"/><stop offset="0.22" stop-color="#DD231A"/><stop offset="0.24" stop-color="#D31B19"/><stop offset="0.26" stop-color="#CB1719"/><stop offset="0.29" stop-color="#E5371C"/><stop offset="0.3" stop-color="#EA591D"/><stop offset="0.33" stop-color="#EE761E"/><stop offset="0.41" stop-color="#F39F1E"/><stop offset="0.43" stop-color="#F6B21E"/><stop offset="0.43" stop-color="#F7C422"/><stop offset="0.46" stop-color="#DBE13E"/><stop offset="0.47" stop-color="#C3DA4A"/><stop offset="0.5" stop-color="#80C68D"/><stop offset="0.53" stop-color="#5EC0CE"/><stop offset="0.55" stop-color="#49B8DA"/><stop offset="0.55" stop-color="#39B1E4"/><stop offset="0.57" stop-color="#2A9EDC"/><stop offset="0.62" stop-color="#1F6EBF"/><stop offset="0.64" stop-color="#1F63B8"/><stop offset="0.67" stop-color="#1F5FB5"/><stop offset="0.78" stop-color="#1745A0"/><stop offset="0.82" stop-color="#0B2F8C"/><stop offset="0.84" stop-color="#0F2E85"/><stop offset="1" stop-color="#1F2A60"/></linearGradient><linearGradient id="r33" gradientUnits="userSpaceOnUse" x1="644" x2="987"><stop offset="0" stop-color="#1F2A60"/><stop offset="0.01" stop-color="#0D2E89"/><stop offset="0.03" stop-color="#208BD2"/><stop offset="0.04" stop-color="#3FB4E0"/><stop offset="0.05" stop-color="#71C5B7"/><stop offset="0.06" stop-color="#B5D655"/><stop offset="0.08" stop-color="#F6B31E"/><stop offset="0.08" stop-color="#EA5D1D"/><stop offset="0.09" stop-color="#E9541D"/><stop offset="0.14" stop-color="#DF251B"/><stop offset="0.17" stop-color="#CE1719"/><stop offset="0.18" stop-color="#D11A19"/><stop offset="0.21" stop-color="#E0251B"/><stop offset="0.22" stop-color="#DE241B"/><stop offset="0.24" stop-color="#D41B1A"/><stop offset="0.26" stop-color="#CE1719"/><stop offset="0.29" stop-color="#E53A1C"/><stop offset="0.3" stop-color="#EA5C1D"/><stop offset="0.33" stop-color="#EE791E"/><stop offset="0.41" stop-color="#F4A11E"/><stop offset="0.43" stop-color="#F7B41E"/><stop offset="0.43" stop-color="#F7C623"/><stop offset="0.46" stop-color="#DAE03E"/><stop offset="0.47" stop-color="#C1DA4B"/><stop offset="0.5" stop-color="#7FC68E"/><stop offset="0.53" stop-color="#5DBFCF"/><stop offset="0.55" stop-color="#48B7DB"/><stop offset="0.55" stop-color="#38B1E4"/><stop offset="0.57" stop-color="#2A9DDC"/><stop offset="0.62" stop-color="#1F6EBF"/><stop offset="0.64" stop-color="#1F63B7"/><stop offset="0.67" stop-color="#1F5EB4"/><stop offset="0.78" stop-color="#1745A0"/><stop offset="0.82" stop-color="#0B2F8C"/><stop offset="0.84" stop-color="#0F2E85"/><stop offset="1" stop-color="#1F2A60"/></linearGradient><linearGradient id="r34" gradientUnits="userSpaceOnUse" x1="644" x2="987"><stop offset="0" stop-color="#1F2A60"/><stop offset="0.01" stop-color="#0D2E89"/><stop offset="0.03" stop-color="#1F89D1"/><stop offset="0.04" stop-color="#3AB2E3"/><stop offset="0.05" stop-color="#6FC5BC"/><stop offset="0.06" stop-color="#B0D459"/><stop offset="0.08" stop-color="#F8BB1E"/><stop offset="0.08" stop-color="#EC6A1E"/><stop offset="0.09" stop-color="#EB611E"/><stop offset="0.14" stop-color="#E32A1B"/><stop offset="0.17" stop-color="#D31B19"/><stop offset="0.18" stop-color="#D61D1A"/><stop offset="0.21" stop-color="#E42C1B"/><stop offset="0.22" stop-color="#E2271B"/><stop offset="0.24" stop-color="#D81F1A"/><stop offset="0.26" stop-color="#D31B19"/><stop offset="0.29" stop-color="#E7481C"/><stop offset="0.3" stop-color="#EC691E"/><stop offset="0.33" stop-color="#EF851E"/><stop offset="0.41" stop-color="#F5AA1E"/><stop offset="0.43" stop-color="#F8BD1E"/><stop offset="0.43" stop-color="#F6CD26"/><stop offset="0.46" stop-color="#D3DF42"/><stop offset="0.47" stop-color="#BCD850"/><stop offset="0.5" stop-color="#7DC693"/><stop offset="0.53" stop-color="#58BDD1"/><stop offset="0.55" stop-color="#43B5DE"/><stop offset="0.55" stop-color="#34AFE5"/><stop offset="0.57" stop-color="#299BDB"/><stop offset="0.62" stop-color="#1F6CBE"/><stop offset="0.64" stop-color="#1F61B6"/><stop offset="0.67" stop-color="#1F5DB3"/><stop offset="0.78" stop-color="#16449F"/><stop offset="0.82" stop-color="#0B2F8C"/><stop offset="0.84" stop-color="#0F2E85"/><stop offset="1" stop-color="#1F2A60"/></linearGradient><linearGradient id="r35" gradientUnits="userSpaceOnUse" x1="644" x2="987"><stop offset="0" stop-color="#1F2A60"/><stop offset="0.01" stop-color="#0E2E86"/><stop offset="0.03" stop-color="#1F7FCB"/><stop offset="0.04" stop-color="#30A7E1"/><stop offset="0.05" stop-color="#61C1CD"/><stop offset="0.06" stop-color="#98CC6B"/><stop offset="0.08" stop-color="#F4DA2D"/><stop offset="0.08" stop-color="#F39A1E"/><stop offset="0.09" stop-color="#F2931E"/><stop offset="0.14" stop-color="#EB641E"/><stop offset="0.17" stop-color="#E5341C"/><stop offset="0.18" stop-color="#E63C1C"/><stop offset="0.21" stop-color="#EB661E"/><stop offset="0.22" stop-color="#EB601E"/><stop offset="0.24" stop-color="#E7421C"/><stop offset="0.26" stop-color="#E4321B"/><stop offset="0.29" stop-color="#EF7F1E"/><stop offset="0.3" stop-color="#F2991E"/><stop offset="0.33" stop-color="#F6AD1E"/><stop offset="0.41" stop-color="#F6CC26"/><stop offset="0.43" stop-color="#F4DC2D"/><stop offset="0.43" stop-color="#EFE635"/><stop offset="0.46" stop-color="#B8D752"/><stop offset="0.47" stop-color="#A3D063"/><stop offset="0.5" stop-color="#75C5AB"/><stop offset="0.53" stop-color="#44B6DD"/><stop offset="0.55" stop-color="#33ADE4"/><stop offset="0.55" stop-color="#2DA3DF"/><stop offset="0.57" stop-color="#2290D5"/><stop offset="0.62" stop-color="#1F65B9"/><stop offset="0.64" stop-color="#1F5BB2"/><stop offset="0.67" stop-color="#1F57AF"/><stop offset="0.78" stop-color="#14419C"/><stop offset="0.82" stop-color="#0D2E89"/><stop offset="0.84" stop-color="#102D83"/><stop offset="1" stop-color="#1F2A60"/></linearGradient><linearGradient id="r36" gradientUnits="userSpaceOnUse" x1="644" x2="987"><stop offset="0" stop-color="#1F2A60"/><stop offset="0.01" stop-color="#0F2D84"/><stop offset="0.03" stop-color="#1F76C5"/><stop offset="0.04" stop-color="#289ADB"/><stop offset="0.05" stop-color="#4AB8DA"/><stop offset="0.06" stop-color="#84C680"/><stop offset="0.08" stop-color="#DFE23C"/><stop offset="0.08" stop-color="#F7C221"/><stop offset="0.09" stop-color="#F8BD1E"/><stop offset="0.14" stop-color="#F2991E"/><stop offset="0.17" stop-color="#ED711E"/><stop offset="0.18" stop-color="#EE781E"/><stop offset="0.21" stop-color="#F39A1E"/><stop offset="0.22" stop-color="#F2961E"/><stop offset="0.24" stop-color="#EF7E1E"/><stop offset="0.26" stop-color="#ED6F1E"/><stop offset="0.29" stop-color="#F5AC1E"/><stop offset="0.3" stop-color="#F7C120"/><stop offset="0.33" stop-color="#F6D128"/><stop offset="0.41" stop-color="#EDE636"/><stop offset="0.43" stop-color="#DEE23D"/><stop offset="0.43" stop-color="#CFDE43"/><stop offset="0.46" stop-color="#9FCE66"/><stop offset="0.47" stop-color="#8BC876"/><stop offset="0.5" stop-color="#6DC5C2"/><stop offset="0.53" stop-color="#33ACE4"/><stop offset="0.55" stop-color="#2CA0DD"/><stop offset="0.55" stop-color="#2696D8"/><stop offset="0.57" stop-color="#1F85CF"/><stop offset="0.62" stop-color="#1F5DB4"/><stop offset="0.64" stop-color="#1F54AD"/><stop offset="0.67" stop-color="#1D51AB"/><stop offset="0.78" stop-color="#133D99"/><stop offset="0.82" stop-color="#0E2E87"/><stop offset="0.84" stop-color="#112D81"/><stop offset="1" stop-color="#1F2A60"/></linearGradient><linearGradient id="r37" gradientUnits="userSpaceOnUse" x1="644" x2="987"><stop offset="0" stop-color="#1F2A60"/><stop offset="0.01" stop-color="#102D82"/><stop offset="0.03" stop-color="#1F6DBE"/><stop offset="0.04" stop-color="#218ED4"/><stop offset="0.05" stop-color="#35AFE6"/><stop offset="0.06" stop-color="#7AC69C"/><stop offset="0.08" stop-color="#BFD94D"/><stop offset="0.08" stop-color="#F3E532"/><stop offset="0.09" stop-color="#F4E030"/><stop offset="0.14" stop-color="#F7C322"/><stop offset="0.17" stop-color="#F4A51E"/><stop offset="0.18" stop-color="#F5AA1E"/><stop offset="0.21" stop-color="#F7C522"/><stop offset="0.22" stop-color="#F7C120"/><stop offset="0.24" stop-color="#F6AF1E"/><stop offset="0.26" stop-color="#F4A41E"/><stop offset="0.29" stop-color="#F5D329"/><stop offset="0.3" stop-color="#F3E432"/><stop offset="0.33" stop-color="#E6E439"/><stop offset="0.41" stop-color="#CBDD45"/><stop offset="0.43" stop-color="#BED94E"/><stop offset="0.43" stop-color="#B1D458"/><stop offset="0.46" stop-color="#86C67B"/><stop offset="0.47" stop-color="#7EC691"/><stop offset="0.5" stop-color="#57BDD2"/><stop offset="0.53" stop-color="#2B9EDD"/><stop offset="0.55" stop-color="#2493D7"/><stop offset="0.55" stop-color="#1F8AD2"/><stop offset="0.57" stop-color="#1F7BC8"/><stop offset="0.62" stop-color="#1F56AF"/><stop offset="0.64" stop-color="#1C4FA9"/><stop offset="0.67" stop-color="#1B4DA6"/><stop offset="0.78" stop-color="#113A96"/><stop offset="0.82" stop-color="#0F2D84"/><stop offset="0.84" stop-color="#122C7F"/><stop offset="1" stop-color="#1F2A60"/></linearGradient><linearGradient id="r38" gradientUnits="userSpaceOnUse" x1="644" x2="987"><stop offset="0" stop-color="#1F2A60"/><stop offset="0.01" stop-color="#122C7F"/><stop offset="0.03" stop-color="#1F61B6"/><stop offset="0.04" stop-color="#1F7DC9"/><stop offset="0.05" stop-color="#289ADA"/><stop offset="0.06" stop-color="#6DC5C3"/><stop offset="0.08" stop-color="#95CB6E"/><stop offset="0.08" stop-color="#C2DA4B"/><stop offset="0.09" stop-color="#C6DB47"/><stop offset="0.14" stop-color="#E1E23B"/><stop offset="0.17" stop-color="#F4DF2F"/><stop offset="0.18" stop-color="#F3E331"/><stop offset="0.21" stop-color="#E0E23C"/><stop offset="0.22" stop-color="#E4E33A"/><stop offset="0.24" stop-color="#F3E733"/><stop offset="0.26" stop-color="#F4DE2F"/><stop offset="0.29" stop-color="#D3DF42"/><stop offset="0.3" stop-color="#C3DA4A"/><stop offset="0.33" stop-color="#B5D654"/><stop offset="0.41" stop-color="#A0CF66"/><stop offset="0.43" stop-color="#94CB6F"/><stop offset="0.43" stop-color="#89C778"/><stop offset="0.46" stop-color="#77C5A5"/><stop offset="0.47" stop-color="#71C5B9"/><stop offset="0.5" stop-color="#35B0E6"/><stop offset="0.53" stop-color="#208BD3"/><stop offset="0.55" stop-color="#1F81CC"/><stop offset="0.55" stop-color="#1F7AC7"/><stop offset="0.57" stop-color="#1F6DBE"/><stop offset="0.62" stop-color="#1B4EA8"/><stop offset="0.64" stop-color="#1848A3"/><stop offset="0.67" stop-color="#1746A1"/><stop offset="0.78" stop-color="#0E3692"/><stop offset="0.82" stop-color="#112D81"/><stop offset="0.84" stop-color="#142C7C"/><stop offset="1" stop-color="#1F2A60"/></linearGradient><linearGradient id="r39" gradientUnits="userSpaceOnUse" x1="644" x2="987"><stop offset="0" stop-color="#1F2A60"/><stop offset="0.01" stop-color="#162B79"/><stop offset="0.03" stop-color="#194AA4"/><stop offset="0.04" stop-color="#1F5BB2"/><stop offset="0.05" stop-color="#1F70C0"/><stop offset="0.06" stop-color="#299CDB"/><stop offset="0.08" stop-color="#61C1CD"/><stop offset="0.08" stop-color="#76C5A9"/><stop offset="0.09" stop-color="#77C5A5"/><stop offset="0.14" stop-color="#7FC68F"/><stop offset="0.17" stop-color="#86C67A"/><stop offset="0.18" stop-color="#85C67D"/><stop offset="0.21" stop-color="#7FC690"/><stop offset="0.22" stop-color="#7FC68D"/><stop offset="0.24" stop-color="#84C680"/><stop offset="0.26" stop-color="#87C67A"/><stop offset="0.29" stop-color="#7BC69B"/><stop offset="0.3" stop-color="#76C5A8"/><stop offset="0.33" stop-color="#72C5B4"/><stop offset="0.41" stop-color="#6BC5C7"/><stop offset="0.43" stop-color="#60C0CD"/><stop offset="0.43" stop-color="#55BCD3"/><stop offset="0.46" stop-color="#33ACE4"/><stop offset="0.47" stop-color="#2DA1DE"/><stop offset="0.5" stop-color="#1F7FCA"/><stop offset="0.53" stop-color="#1F66B9"/><stop offset="0.55" stop-color="#1F5EB4"/><stop offset="0.55" stop-color="#1F59B1"/><stop offset="0.57" stop-color="#1D51AA"/><stop offset="0.62" stop-color="#133E9A"/><stop offset="0.64" stop-color="#113A96"/><stop offset="0.67" stop-color="#103894"/><stop offset="0.78" stop-color="#0D2E88"/><stop offset="0.82" stop-color="#152B7A"/><stop offset="0.84" stop-color="#172B76"/><stop offset="1" stop-color="#1F2A60"/></linearGradient><linearGradient id="r40" gradientUnits="userSpaceOnUse" x1="644" x2="987"><stop offset="0" stop-color="#1F2A60"/><stop offset="0.01" stop-color="#192B71"/><stop offset="0.03" stop-color="#0F3793"/><stop offset="0.04" stop-color="#15429D"/><stop offset="0.05" stop-color="#1B4DA6"/><stop offset="0.06" stop-color="#1F67BA"/><stop offset="0.08" stop-color="#1F86CF"/><stop offset="0.08" stop-color="#289ADA"/><stop offset="0.09" stop-color="#299CDB"/><stop offset="0.14" stop-color="#30A7E1"/><stop offset="0.17" stop-color="#37B1E5"/><stop offset="0.18" stop-color="#35B0E6"/><stop offset="0.21" stop-color="#2FA6E1"/><stop offset="0.22" stop-color="#30A8E2"/><stop offset="0.24" stop-color="#34AEE5"/><stop offset="0.26" stop-color="#38B1E4"/><stop offset="0.29" stop-color="#2CA1DE"/><stop offset="0.3" stop-color="#289ADA"/><stop offset="0.33" stop-color="#2594D7"/><stop offset="0.41" stop-color="#1F8BD2"/><stop offset="0.43" stop-color="#1F86CF"/><stop offset="0.43" stop-color="#1F81CC"/><stop offset="0.46" stop-color="#1F71C1"/><stop offset="0.47" stop-color="#1F6ABC"/><stop offset="0.5" stop-color="#1F54AD"/><stop offset="0.53" stop-color="#1847A2"/><stop offset="0.55" stop-color="#16449E"/><stop offset="0.55" stop-color="#14419C"/><stop offset="0.57" stop-color="#123C97"/><stop offset="0.62" stop-color="#0B2F8C"/><stop offset="0.64" stop-color="#0D2E89"/><stop offset="0.67" stop-color="#0E2E87"/><stop offset="0.78" stop-color="#132C7D"/><stop offset="0.82" stop-color="#182B72"/><stop offset="0.84" stop-color="#192B6F"/><stop offset="1" stop-color="#1F2A60"/></linearGradient><linearGradient id="r41" gradientUnits="userSpaceOnUse" x1="644" x2="987"><stop offset="0" stop-color="#1F2A60"/><stop offset="0.01" stop-color="#1B2A6C"/><stop offset="0.03" stop-color="#0E2E87"/><stop offset="0.04" stop-color="#0D338F"/><stop offset="0.05" stop-color="#113A96"/><stop offset="0.06" stop-color="#1949A3"/><stop offset="0.08" stop-color="#1F5BB2"/><stop offset="0.08" stop-color="#1F67BA"/><stop offset="0.09" stop-color="#1F68BB"/><stop offset="0.14" stop-color="#1F6FC0"/><stop offset="0.17" stop-color="#1F76C5"/><stop offset="0.18" stop-color="#1F75C4"/><stop offset="0.21" stop-color="#1F6FC0"/><stop offset="0.22" stop-color="#1F70C0"/><stop offset="0.24" stop-color="#1F74C3"/><stop offset="0.26" stop-color="#1F76C5"/><stop offset="0.29" stop-color="#1F6CBD"/><stop offset="0.3" stop-color="#1F67BB"/><stop offset="0.33" stop-color="#1F64B8"/><stop offset="0.41" stop-color="#1F5EB4"/><stop offset="0.43" stop-color="#1F5AB2"/><stop offset="0.43" stop-color="#1F57AF"/><stop offset="0.46" stop-color="#1B4EA8"/><stop offset="0.47" stop-color="#1A4BA5"/><stop offset="0.5" stop-color="#133F9A"/><stop offset="0.53" stop-color="#0F3692"/><stop offset="0.55" stop-color="#0D3490"/><stop offset="0.55" stop-color="#0C328E"/><stop offset="0.57" stop-color="#0C2F8B"/><stop offset="0.62" stop-color="#112D81"/><stop offset="0.64" stop-color="#132C7E"/><stop offset="0.67" stop-color="#132C7D"/><stop offset="0.78" stop-color="#172B76"/><stop offset="0.82" stop-color="#1A2B6D"/><stop offset="0.84" stop-color="#1B2A6A"/><stop offset="1" stop-color="#1F2A60"/></linearGradient><linearGradient id="r42" gradientUnits="userSpaceOnUse" x1="644" x2="987"><stop offset="0" stop-color="#1F2A60"/><stop offset="0.01" stop-color="#1D2A67"/><stop offset="0.03" stop-color="#152B7A"/><stop offset="0.04" stop-color="#122C7F"/><stop offset="0.05" stop-color="#0F2D84"/><stop offset="0.06" stop-color="#0C318E"/><stop offset="0.08" stop-color="#113B96"/><stop offset="0.08" stop-color="#14409B"/><stop offset="0.09" stop-color="#14419C"/><stop offset="0.14" stop-color="#16449F"/><stop offset="0.17" stop-color="#1847A1"/><stop offset="0.18" stop-color="#1746A1"/><stop offset="0.21" stop-color="#16449F"/><stop offset="0.22" stop-color="#16449F"/><stop offset="0.24" stop-color="#1746A1"/><stop offset="0.26" stop-color="#1847A1"/><stop offset="0.29" stop-color="#15429D"/><stop offset="0.3" stop-color="#14409C"/><stop offset="0.33" stop-color="#133F9A"/><stop offset="0.41" stop-color="#123C98"/><stop offset="0.43" stop-color="#113B96"/><stop offset="0.43" stop-color="#103995"/><stop offset="0.46" stop-color="#0E3491"/><stop offset="0.47" stop-color="#0D328F"/><stop offset="0.5" stop-color="#0D2E88"/><stop offset="0.53" stop-color="#112D81"/><stop offset="0.55" stop-color="#122D80"/><stop offset="0.55" stop-color="#132C7E"/><stop offset="0.57" stop-color="#142C7C"/><stop offset="0.62" stop-color="#172B75"/><stop offset="0.64" stop-color="#182B73"/><stop offset="0.67" stop-color="#182B72"/><stop offset="0.78" stop-color="#1A2B6D"/><stop offset="0.82" stop-color="#1C2A67"/><stop offset="0.84" stop-color="#1D2A66"/><stop offset="1" stop-color="#1F2A60"/></linearGradient><linearGradient id="r43" gradientUnits="userSpaceOnUse" x1="644" x2="987"><stop offset="0" stop-color="#1F2A60"/><stop offset="0.01" stop-color="#1E2A62"/><stop offset="0.03" stop-color="#1C2A69"/><stop offset="0.04" stop-color="#1B2A6B"/><stop offset="0.05" stop-color="#1A2B6E"/><stop offset="0.06" stop-color="#182B73"/><stop offset="0.08" stop-color="#162B78"/><stop offset="0.08" stop-color="#152C7B"/><stop offset="0.09" stop-color="#142C7B"/><stop offset="0.14" stop-color="#142C7C"/><stop offset="0.17" stop-color="#132C7D"/><stop offset="0.18" stop-color="#132C7D"/><stop offset="0.21" stop-color="#142C7C"/><stop offset="0.22" stop-color="#142C7C"/><stop offset="0.24" stop-color="#132C7D"/><stop offset="0.26" stop-color="#132C7D"/><stop offset="0.29" stop-color="#142C7B"/><stop offset="0.3" stop-color="#152C7B"/><stop offset="0.33" stop-color="#152B7A"/><stop offset="0.41" stop-color="#162B79"/><stop offset="0.43" stop-color="#162B78"/><stop offset="0.43" stop-color="#162B78"/><stop offset="0.46" stop-color="#172B75"/><stop offset="0.47" stop-color="#182B73"/><stop offset="0.5" stop-color="#192B70"/><stop offset="0.53" stop-color="#1A2B6D"/><stop offset="0.55" stop-color="#1B2A6C"/><stop offset="0.55" stop-color="#1B2A6B"/><stop offset="0.57" stop-color="#1B2A6A"/><stop offset="0.62" stop-color="#1C2A67"/><stop offset="0.64" stop-color="#1D2A66"/><stop offset="0.67" stop-color="#1D2A66"/><stop offset="0.78" stop-color="#1D2A64"/><stop offset="0.82" stop-color="#1E2A62"/><stop offset="0.84" stop-color="#1E2A62"/><stop offset="1" stop-color="#1F2A60"/></linearGradient><linearGradient id="r44" gradientUnits="userSpaceOnUse" x1="644" x2="987"><stop offset="0" stop-color="#1F2A60"/><stop offset="1" stop-color="#1F2A60"/></linearGradient><linearGradient id="r45" gradientUnits="userSpaceOnUse" x1="644" x2="987"><stop offset="0" stop-color="#1F2A60"/><stop offset="0.53" stop-color="#1C2A67"/><stop offset="0.86" stop-color="#1F2A60"/><stop offset="1" stop-color="#1F2A60"/></linearGradient><linearGradient id="r46" gradientUnits="userSpaceOnUse" x1="644" x2="987"><stop offset="0" stop-color="#1F2A60"/><stop offset="0.17" stop-color="#1C2A67"/><stop offset="0.52" stop-color="#1B2A6C"/><stop offset="0.64" stop-color="#1F2A60"/><stop offset="1" stop-color="#1F2A60"/></linearGradient><linearGradient id="r47" gradientUnits="userSpaceOnUse" x1="644" x2="987"><stop offset="0" stop-color="#1F2A60"/><stop offset="0.16" stop-color="#1C2A67"/><stop offset="0.27" stop-color="#1B2A6C"/><stop offset="0.41" stop-color="#172B74"/><stop offset="0.55" stop-color="#1B2A6A"/><stop offset="0.63" stop-color="#1F2A60"/><stop offset="1" stop-color="#1F2A60"/></linearGradient><linearGradient id="r48" gradientUnits="userSpaceOnUse" x1="644" x2="987"><stop offset="0" stop-color="#1F2A60"/><stop offset="0.15" stop-color="#1D2A66"/><stop offset="0.25" stop-color="#192B71"/><stop offset="0.38" stop-color="#172B74"/><stop offset="0.51" stop-color="#172B74"/><stop offset="0.61" stop-color="#1F2A60"/><stop offset="1" stop-color="#1F2A60"/></linearGradient><linearGradient id="r49" gradientUnits="userSpaceOnUse" x1="644" x2="987"><stop offset="0" stop-color="#1F2A60"/><stop offset="0.15" stop-color="#1D2A66"/><stop offset="0.24" stop-color="#172B76"/><stop offset="0.37" stop-color="#172B76"/><stop offset="0.5" stop-color="#152B7A"/><stop offset="0.6" stop-color="#1F2A60"/><stop offset="1" stop-color="#1F2A60"/></linearGradient><linearGradient id="r50" gradientUnits="userSpaceOnUse" x1="644" x2="987"><stop offset="0" stop-color="#1F2A60"/><stop offset="0.15" stop-color="#1D2A65"/><stop offset="0.22" stop-color="#152B7A"/><stop offset="0.37" stop-color="#152B7A"/><stop offset="0.49" stop-color="#122D80"/><stop offset="0.58" stop-color="#1E2A62"/><stop offset="1" stop-color="#1F2A60"/></linearGradient><linearGradient id="r51" gradientUnits="userSpaceOnUse" x1="644" x2="987"><stop offset="0" stop-color="#1F2A60"/><stop offset="0.15" stop-color="#1D2A66"/><stop offset="0.21" stop-color="#132C7E"/><stop offset="0.37" stop-color="#122C7F"/><stop offset="0.48" stop-color="#0D2E88"/><stop offset="0.57" stop-color="#1B2A6A"/><stop offset="0.6" stop-color="#1F2A60"/><stop offset="1" stop-color="#1F2A60"/></linearGradient><linearGradient id="r52" gradientUnits="userSpaceOnUse" x1="644" x2="987"><stop offset="0" stop-color="#1F2A60"/><stop offset="0.15" stop-color="#1D2A65"/><stop offset="0.2" stop-color="#112D81"/><stop offset="0.37" stop-color="#102D83"/><stop offset="0.47" stop-color="#0C318E"/><stop offset="0.56" stop-color="#192B71"/><stop offset="0.59" stop-color="#1F2A60"/><stop offset="1" stop-color="#1F2A60"/></linearGradient><linearGradient id="r53" gradientUnits="userSpaceOnUse" x1="644" x2="987"><stop offset="0" stop-color="#1F2A60"/><stop offset="0.15" stop-color="#1D2A66"/><stop offset="0.2" stop-color="#0F2D84"/><stop offset="0.27" stop-color="#112D81"/><stop offset="0.36" stop-color="#0F2E85"/><stop offset="0.46" stop-color="#0F3794"/><stop offset="0.54" stop-color="#122C7E"/><stop offset="0.59" stop-color="#1F2A60"/><stop offset="1" stop-color="#1F2A60"/></linearGradient><linearGradient id="r54" gradientUnits="userSpaceOnUse" x1="644" x2="987"><stop offset="0" stop-color="#1F2A60"/><stop offset="0.14" stop-color="#1E2A64"/><stop offset="0.19" stop-color="#0F2E85"/><stop offset="0.25" stop-color="#0C2F8A"/><stop offset="0.36" stop-color="#0F2E85"/><stop offset="0.45" stop-color="#133D99"/><stop offset="0.54" stop-color="#0F2E85"/><stop offset="0.59" stop-color="#1F2A60"/><stop offset="1" stop-color="#1F2A60"/></linearGradient><linearGradient id="r55" gradientUnits="userSpaceOnUse" x1="644" x2="987"><stop offset="0" stop-color="#1F2A60"/><stop offset="0.14" stop-color="#1D2A64"/><stop offset="0.18" stop-color="#0D2E88"/><stop offset="0.25" stop-color="#0C318E"/><stop offset="0.36" stop-color="#0C318E"/><stop offset="0.45" stop-color="#16449F"/><stop offset="0.54" stop-color="#0D2E88"/><stop offset="0.59" stop-color="#1F2A60"/><stop offset="1" stop-color="#1F2A60"/></linearGradient><linearGradient id="r56" gradientUnits="userSpaceOnUse" x1="644" x2="987"><stop offset="0" stop-color="#1F2A60"/><stop offset="0.14" stop-color="#1D2A65"/><stop offset="0.18" stop-color="#0B2F8C"/><stop offset="0.24" stop-color="#123C98"/><stop offset="0.32" stop-color="#0D328F"/><stop offset="0.36" stop-color="#103995"/><stop offset="0.44" stop-color="#1C50AA"/><stop offset="0.52" stop-color="#113B96"/><stop offset="0.55" stop-color="#102D83"/><stop offset="0.58" stop-color="#1F2A60"/><stop offset="1" stop-color="#1F2A60"/></linearGradient><linearGradient id="r57" gradientUnits="userSpaceOnUse" x1="644" x2="987"><stop offset="0" stop-color="#1F2A60"/><stop offset="0.14" stop-color="#1D2A66"/><stop offset="0.17" stop-color="#0C308D"/><stop offset="0.22" stop-color="#1745A0"/><stop offset="0.3" stop-color="#103995"/><stop offset="0.36" stop-color="#133F9A"/><stop offset="0.44" stop-color="#1F5EB4"/><stop offset="0.51" stop-color="#1B4DA7"/><stop offset="0.56" stop-color="#0F2E85"/><stop offset="0.58" stop-color="#1F2A60"/><stop offset="1" stop-color="#1F2A60"/></linearGradient><linearGradient id="r58" gradientUnits="userSpaceOnUse" x1="644" x2="987"><stop offset="0" stop-color="#1F2A60"/><stop offset="0.14" stop-color="#1F2A60"/><stop offset="0.17" stop-color="#0C308D"/><stop offset="0.22" stop-color="#1B4DA7"/><stop offset="0.27" stop-color="#14419C"/><stop offset="0.36" stop-color="#16439E"/><stop offset="0.43" stop-color="#1F6DBE"/><stop offset="0.49" stop-color="#1F63B7"/><stop offset="0.55" stop-color="#0D3390"/><stop offset="0.58" stop-color="#1F2A60"/><stop offset="1" stop-color="#1F2A60"/></linearGradient><linearGradient id="r59" gradientUnits="userSpaceOnUse" x1="644" x2="987"><stop offset="0" stop-color="#1F2A60"/><stop offset="0.14" stop-color="#1F2A60"/><stop offset="0.16" stop-color="#0C2F8B"/><stop offset="0.21" stop-color="#1F56AF"/><stop offset="0.26" stop-color="#1B4EA8"/><stop offset="0.3" stop-color="#1747A1"/><stop offset="0.36" stop-color="#1C4EA8"/><stop offset="0.42" stop-color="#1F7CC8"/><stop offset="0.48" stop-color="#1F7BC8"/><stop offset="0.54" stop-color="#1746A0"/><stop offset="0.56" stop-color="#0E2E86"/><stop offset="0.58" stop-color="#1F2A60"/><stop offset="1" stop-color="#1F2A60"/></linearGradient><linearGradient id="r60" gradientUnits="userSpaceOnUse" x1="644" x2="987"><stop offset="0" stop-color="#1F2A60"/><stop offset="0.14" stop-color="#1F2A60"/><stop offset="0.16" stop-color="#0C318D"/><stop offset="0.2" stop-color="#1F62B6"/><stop offset="0.24" stop-color="#1F6DBE"/><stop offset="0.28" stop-color="#1E52AC"/><stop offset="0.36" stop-color="#1F56AF"/><stop offset="0.41" stop-color="#2594D7"/><stop offset="0.45" stop-color="#2CA1DE"/><stop offset="0.5" stop-color="#1F84CE"/><stop offset="0.55" stop-color="#1746A1"/><stop offset="0.57" stop-color="#0E2E87"/><stop offset="0.58" stop-color="#1F2A60"/><stop offset="1" stop-color="#1F2A60"/></linearGradient><linearGradient id="r61" gradientUnits="userSpaceOnUse" x1="644" x2="987"><stop offset="0" stop-color="#1F2A60"/><stop offset="0.14" stop-color="#1F2A60"/><stop offset="0.15" stop-color="#0C318E"/><stop offset="0.19" stop-color="#1F66BA"/><stop offset="0.22" stop-color="#1F83CD"/><stop offset="0.26" stop-color="#1F75C4"/><stop offset="0.28" stop-color="#1F61B6"/><stop offset="0.36" stop-color="#1F67BA"/><stop offset="0.38" stop-color="#2797D9"/><stop offset="0.41" stop-color="#3CB3E2"/><stop offset="0.45" stop-color="#51BBD6"/><stop offset="0.48" stop-color="#3CB3E2"/><stop offset="0.51" stop-color="#2797D9"/><stop offset="0.54" stop-color="#1F5BB2"/><stop offset="0.57" stop-color="#0E2E86"/><stop offset="0.58" stop-color="#1F2A60"/><stop offset="1" stop-color="#1F2A60"/></linearGradient><linearGradient id="r62" gradientUnits="userSpaceOnUse" x1="644" x2="987"><stop offset="0" stop-color="#1F2A60"/><stop offset="0.14" stop-color="#1F2A60"/><stop offset="0.15" stop-color="#0B308D"/><stop offset="0.17" stop-color="#1F63B8"/><stop offset="0.21" stop-color="#2595D8"/><stop offset="0.24" stop-color="#299BDB"/><stop offset="0.28" stop-color="#1F74C3"/><stop offset="0.36" stop-color="#1F7BC7"/><stop offset="0.38" stop-color="#37B1E5"/><stop offset="0.41" stop-color="#6CC5C6"/><stop offset="0.44" stop-color="#75C5AC"/><stop offset="0.48" stop-color="#70C5BB"/><stop offset="0.49" stop-color="#5DBFCE"/><stop offset="0.51" stop-color="#33ACE4"/><stop offset="0.54" stop-color="#1F7BC7"/><stop offset="0.56" stop-color="#1949A4"/><stop offset="0.57" stop-color="#0B2F8C"/><stop offset="0.58" stop-color="#1F2A60"/><stop offset="1" stop-color="#1F2A60"/></linearGradient><linearGradient id="r63" gradientUnits="userSpaceOnUse" x1="644" x2="987"><stop offset="0" stop-color="#1F2A60"/><stop offset="0.14" stop-color="#1F2A60"/><stop offset="0.15" stop-color="#0E3592"/><stop offset="0.17" stop-color="#1F66B9"/><stop offset="0.19" stop-color="#2697D9"/><stop offset="0.21" stop-color="#3CB3E2"/><stop offset="0.23" stop-color="#47B7DC"/><stop offset="0.26" stop-color="#30A7E1"/><stop offset="0.27" stop-color="#1F89D1"/><stop offset="0.36" stop-color="#2392D6"/><stop offset="0.37" stop-color="#37B1E5"/><stop offset="0.38" stop-color="#6EC5C1"/><stop offset="0.42" stop-color="#83C683"/><stop offset="0.45" stop-color="#8EC974"/><stop offset="0.48" stop-color="#82C686"/><stop offset="0.51" stop-color="#68C4C8"/><stop offset="0.52" stop-color="#37B1E5"/><stop offset="0.54" stop-color="#1F81CC"/><stop offset="0.56" stop-color="#16449F"/><stop offset="0.57" stop-color="#0D2E88"/><stop offset="0.58" stop-color="#1F2A60"/><stop offset="1" stop-color="#1F2A60"/></linearGradient><linearGradient id="r64" gradientUnits="userSpaceOnUse" x1="644" x2="987"><stop offset="0" stop-color="#1F2A60"/><stop offset="0.14" stop-color="#1F2A60"/><stop offset="0.15" stop-color="#0C318E"/><stop offset="0.16" stop-color="#1F61B6"/><stop offset="0.18" stop-color="#2799DA"/><stop offset="0.19" stop-color="#3DB3E1"/><stop offset="0.21" stop-color="#6AC4C7"/><stop offset="0.24" stop-color="#6DC5C3"/><stop offset="0.25" stop-color="#55BCD4"/><stop offset="0.27" stop-color="#30A8E2"/><stop offset="0.28" stop-color="#2CA0DE"/><stop offset="0.36" stop-color="#31A9E2"/><stop offset="0.36" stop-color="#46B7DC"/><stop offset="0.37" stop-color="#6CC5C6"/><stop offset="0.4" stop-color="#8BC876"/><stop offset="0.43" stop-color="#B7D653"/><stop offset="0.46" stop-color="#B7D653"/><stop offset="0.5" stop-color="#8BC876"/><stop offset="0.52" stop-color="#6CC5C6"/><stop offset="0.53" stop-color="#39B1E4"/><stop offset="0.55" stop-color="#1F80CB"/><stop offset="0.56" stop-color="#1A4CA6"/><stop offset="0.57" stop-color="#0B2F8C"/><stop offset="0.58" stop-color="#1F2A60"/><stop offset="1" stop-color="#1F2A60"/></linearGradient><linearGradient id="r65" gradientUnits="userSpaceOnUse" x1="644" x2="987"><stop offset="0" stop-color="#1F2A60"/><stop offset="0.14" stop-color="#1F2A60"/><stop offset="0.15" stop-color="#0E3591"/><stop offset="0.16" stop-color="#1F61B6"/><stop offset="0.17" stop-color="#2899DA"/><stop offset="0.18" stop-color="#3EB3E1"/><stop offset="0.2" stop-color="#6EC5C0"/><stop offset="0.22" stop-color="#7BC69B"/><stop offset="0.24" stop-color="#78C5A3"/><stop offset="0.26" stop-color="#69C4C8"/><stop offset="0.27" stop-color="#3EB3E1"/><stop offset="0.35" stop-color="#41B5DF"/><stop offset="0.36" stop-color="#70C5BA"/><stop offset="0.38" stop-color="#8CC875"/><stop offset="0.41" stop-color="#CFDE43"/><stop offset="0.44" stop-color="#EEE635"/><stop offset="0.47" stop-color="#E1E23B"/><stop offset="0.5" stop-color="#B2D557"/><stop offset="0.52" stop-color="#81C689"/><stop offset="0.53" stop-color="#6AC4C7"/><stop offset="0.54" stop-color="#3BB2E3"/><stop offset="0.55" stop-color="#1F84CE"/><stop offset="0.57" stop-color="#1848A3"/><stop offset="0.57" stop-color="#102D83"/><stop offset="0.58" stop-color="#1F2A60"/><stop offset="1" stop-color="#1F2A60"/></linearGradient><linearGradient id="r66" gradientUnits="userSpaceOnUse" x1="644" x2="987"><stop offset="0" stop-color="#1F2A60"/><stop offset="0.01" stop-color="#1D2A65"/><stop offset="0.12" stop-color="#192B70"/><stop offset="0.13" stop-color="#162B78"/><stop offset="0.13" stop-color="#122D80"/><stop offset="0.14" stop-color="#0D2E88"/><stop offset="0.15" stop-color="#0D3390"/><stop offset="0.16" stop-color="#113A96"/><stop offset="0.17" stop-color="#133F9A"/><stop offset="0.2" stop-color="#16449F"/><stop offset="0.21" stop-color="#1746A1"/><stop offset="0.23" stop-color="#1847A2"/><stop offset="0.24" stop-color="#1746A1"/><stop offset="0.26" stop-color="#16449F"/><stop offset="0.27" stop-color="#14419C"/><stop offset="0.29" stop-color="#113A96"/><stop offset="0.3" stop-color="#103894"/><stop offset="0.31" stop-color="#0F3793"/><stop offset="0.32" stop-color="#0F3793"/><stop offset="0.34" stop-color="#113A96"/><stop offset="0.36" stop-color="#133F9A"/><stop offset="0.37" stop-color="#15419C"/><stop offset="0.38" stop-color="#15439E"/><stop offset="0.41" stop-color="#1746A0"/><stop offset="0.43" stop-color="#1847A2"/><stop offset="0.47" stop-color="#1746A1"/><stop offset="0.49" stop-color="#16439E"/><stop offset="0.53" stop-color="#133F9A"/><stop offset="0.55" stop-color="#123C98"/><stop offset="0.56" stop-color="#0F3793"/><stop offset="0.57" stop-color="#0D328F"/><stop offset="0.58" stop-color="#0B308C"/><stop offset="0.59" stop-color="#0E2E87"/><stop offset="0.62" stop-color="#122D80"/><stop offset="0.63" stop-color="#132C7E"/><stop offset="0.64" stop-color="#142C7C"/><stop offset="0.65" stop-color="#152B7A"/><stop offset="0.68" stop-color="#172B76"/><stop offset="0.69" stop-color="#182B73"/><stop offset="0.78" stop-color="#1A2B6C"/><stop offset="0.8" stop-color="#1B2A69"/><stop offset="0.86" stop-color="#1D2A65"/><stop offset="1" stop-color="#1F2A60"/></linearGradient><linearGradient id="r67" gradientUnits="userSpaceOnUse" x1="644" x2="987"><stop offset="0" stop-color="#1F2A60"/><stop offset="0.01" stop-color="#192B70"/><stop offset="0.12" stop-color="#0D2E88"/><stop offset="0.13" stop-color="#113B96"/><stop offset="0.13" stop-color="#1B4DA7"/><stop offset="0.14" stop-color="#1F65B9"/><stop offset="0.15" stop-color="#1F81CC"/><stop offset="0.16" stop-color="#2A9DDC"/><stop offset="0.17" stop-color="#38B1E4"/><stop offset="0.2" stop-color="#56BDD3"/><stop offset="0.21" stop-color="#64C2CB"/><stop offset="0.23" stop-color="#6CC5C6"/><stop offset="0.24" stop-color="#65C2CA"/><stop offset="0.26" stop-color="#57BDD2"/><stop offset="0.27" stop-color="#44B6DD"/><stop offset="0.29" stop-color="#2B9EDD"/><stop offset="0.3" stop-color="#2696D8"/><stop offset="0.31" stop-color="#2290D5"/><stop offset="0.32" stop-color="#228FD5"/><stop offset="0.34" stop-color="#2A9DDC"/><stop offset="0.36" stop-color="#37B1E5"/><stop offset="0.37" stop-color="#46B6DC"/><stop offset="0.38" stop-color="#4FBAD7"/><stop offset="0.41" stop-color="#63C1CB"/><stop offset="0.43" stop-color="#6CC5C6"/><stop offset="0.47" stop-color="#66C3CA"/><stop offset="0.49" stop-color="#52BBD5"/><stop offset="0.53" stop-color="#3AB2E3"/><stop offset="0.55" stop-color="#2FA6E1"/><stop offset="0.56" stop-color="#2392D6"/><stop offset="0.57" stop-color="#1F7FCA"/><stop offset="0.58" stop-color="#1F73C3"/><stop offset="0.59" stop-color="#1F61B6"/><stop offset="0.62" stop-color="#1B4DA7"/><stop offset="0.63" stop-color="#1848A3"/><stop offset="0.64" stop-color="#15439E"/><stop offset="0.65" stop-color="#133E9A"/><stop offset="0.68" stop-color="#0F3692"/><stop offset="0.69" stop-color="#0D328F"/><stop offset="0.78" stop-color="#112D81"/><stop offset="0.8" stop-color="#142C7B"/><stop offset="0.86" stop-color="#192B6F"/><stop offset="1" stop-color="#1F2A60"/></linearGradient><linearGradient id="r68" gradientUnits="userSpaceOnUse" x1="644" x2="987"><stop offset="0" stop-color="#1F2A60"/><stop offset="0.01" stop-color="#152B7A"/><stop offset="0.12" stop-color="#123D99"/><stop offset="0.13" stop-color="#1F57AF"/><stop offset="0.13" stop-color="#1F7ECA"/><stop offset="0.14" stop-color="#33ADE4"/><stop offset="0.15" stop-color="#70C5B9"/><stop offset="0.16" stop-color="#86C67A"/><stop offset="0.17" stop-color="#ADD35B"/><stop offset="0.2" stop-color="#D5DF41"/><stop offset="0.21" stop-color="#E8E438"/><stop offset="0.23" stop-color="#F3E733"/><stop offset="0.24" stop-color="#E9E437"/><stop offset="0.26" stop-color="#D5DF40"/><stop offset="0.27" stop-color="#BDD84F"/><stop offset="0.29" stop-color="#89C778"/><stop offset="0.3" stop-color="#80C68A"/><stop offset="0.31" stop-color="#7CC698"/><stop offset="0.32" stop-color="#7BC699"/><stop offset="0.34" stop-color="#86C67B"/><stop offset="0.36" stop-color="#ACD35C"/><stop offset="0.37" stop-color="#BED94D"/><stop offset="0.38" stop-color="#CADC46"/><stop offset="0.41" stop-color="#E6E439"/><stop offset="0.43" stop-color="#F3E733"/><stop offset="0.47" stop-color="#EAE537"/><stop offset="0.49" stop-color="#CFDE44"/><stop offset="0.53" stop-color="#AFD45A"/><stop offset="0.55" stop-color="#97CC6D"/><stop offset="0.56" stop-color="#7DC693"/><stop offset="0.57" stop-color="#6EC5C0"/><stop offset="0.58" stop-color="#56BDD3"/><stop offset="0.59" stop-color="#2FA5E0"/><stop offset="0.62" stop-color="#1F7ECA"/><stop offset="0.63" stop-color="#1F75C3"/><stop offset="0.64" stop-color="#1F69BB"/><stop offset="0.65" stop-color="#1F5FB5"/><stop offset="0.68" stop-color="#1C4FA8"/><stop offset="0.69" stop-color="#1848A3"/><stop offset="0.78" stop-color="#0E3490"/><stop offset="0.8" stop-color="#0D2E88"/><stop offset="0.86" stop-color="#152B79"/><stop offset="1" stop-color="#1F2A60"/></linearGradient><linearGradient id="r69" gradientUnits="userSpaceOnUse" x1="644" x2="987"><stop offset="0" stop-color="#1F2A60"/><stop offset="0.01" stop-color="#112D82"/><stop offset="0.12" stop-color="#1C4FA8"/><stop offset="0.13" stop-color="#1F7BC8"/><stop offset="0.13" stop-color="#3CB3E2"/><stop offset="0.14" stop-color="#7BC69A"/><stop offset="0.15" stop-color="#BBD850"/><stop offset="0.16" stop-color="#F6D128"/><stop offset="0.17" stop-color="#F1931E"/><stop offset="0.2" stop-color="#E7441C"/><stop offset="0.21" stop-color="#E0251B"/><stop offset="0.23" stop-color="#D81F1A"/><stop offset="0.24" stop-color="#DF251B"/><stop offset="0.26" stop-color="#E7421C"/><stop offset="0.27" stop-color="#ED761E"/><stop offset="0.29" stop-color="#F6CE27"/><stop offset="0.3" stop-color="#F3E532"/><stop offset="0.31" stop-color="#E4E33A"/><stop offset="0.32" stop-color="#E2E33B"/><stop offset="0.34" stop-color="#F5D329"/><stop offset="0.36" stop-color="#F2961E"/><stop offset="0.37" stop-color="#ED721E"/><stop offset="0.38" stop-color="#EA591D"/><stop offset="0.41" stop-color="#E1261B"/><stop offset="0.43" stop-color="#D81F1A"/><stop offset="0.47" stop-color="#DE241B"/><stop offset="0.49" stop-color="#E8501D"/><stop offset="0.53" stop-color="#F1911E"/><stop offset="0.55" stop-color="#F8B91E"/><stop offset="0.56" stop-color="#EAE537"/><stop offset="0.57" stop-color="#B3D556"/><stop offset="0.58" stop-color="#94CB6F"/><stop offset="0.59" stop-color="#77C5A7"/><stop offset="0.62" stop-color="#3CB3E2"/><stop offset="0.63" stop-color="#30A7E1"/><stop offset="0.64" stop-color="#2595D8"/><stop offset="0.65" stop-color="#1F86CF"/><stop offset="0.68" stop-color="#1F6DBE"/><stop offset="0.69" stop-color="#1F61B6"/><stop offset="0.78" stop-color="#15429D"/><stop offset="0.8" stop-color="#0F3693"/><stop offset="0.86" stop-color="#122D80"/><stop offset="1" stop-color="#1F2A60"/></linearGradient><linearGradient id="r70" gradientUnits="userSpaceOnUse" x1="644" x2="987"><stop offset="0" stop-color="#1F2A60"/><stop offset="0.01" stop-color="#0F2E86"/><stop offset="0.12" stop-color="#1F58B0"/><stop offset="0.13" stop-color="#208CD3"/><stop offset="0.13" stop-color="#62C1CC"/><stop offset="0.14" stop-color="#93CA70"/><stop offset="0.15" stop-color="#F0E634"/><stop offset="0.16" stop-color="#F18E1E"/><stop offset="0.17" stop-color="#E42D1B"/><stop offset="0.2" stop-color="#BC161A"/><stop offset="0.21" stop-color="#99181D"/><stop offset="0.23" stop-color="#8C191E"/><stop offset="0.24" stop-color="#96181D"/><stop offset="0.26" stop-color="#BB151B"/><stop offset="0.27" stop-color="#D9201A"/><stop offset="0.29" stop-color="#F0881E"/><stop offset="0.3" stop-color="#F5A71E"/><stop offset="0.31" stop-color="#F8BC1E"/><stop offset="0.32" stop-color="#F8BE1F"/><stop offset="0.34" stop-color="#F18F1E"/><stop offset="0.36" stop-color="#E4311B"/><stop offset="0.37" stop-color="#D71E1A"/><stop offset="0.38" stop-color="#CE1719"/><stop offset="0.41" stop-color="#9C171D"/><stop offset="0.43" stop-color="#8C191E"/><stop offset="0.47" stop-color="#94181D"/><stop offset="0.49" stop-color="#C6161A"/><stop offset="0.53" stop-color="#E32A1B"/><stop offset="0.55" stop-color="#EB661E"/><stop offset="0.56" stop-color="#F7B51E"/><stop offset="0.57" stop-color="#E7E438"/><stop offset="0.58" stop-color="#C1DA4B"/><stop offset="0.59" stop-color="#86C67A"/><stop offset="0.62" stop-color="#62C1CC"/><stop offset="0.63" stop-color="#4BB8D9"/><stop offset="0.64" stop-color="#32ABE3"/><stop offset="0.65" stop-color="#289ADA"/><stop offset="0.68" stop-color="#1F7CC8"/><stop offset="0.69" stop-color="#1F6FBF"/><stop offset="0.78" stop-color="#1849A3"/><stop offset="0.8" stop-color="#113B97"/><stop offset="0.86" stop-color="#102D83"/><stop offset="1" stop-color="#1F2A60"/></linearGradient><linearGradient id="r71" gradientUnits="userSpaceOnUse" x1="644" x2="987"><stop offset="0" stop-color="#1F2A60"/><stop offset="0.01" stop-color="#0F2E85"/><stop offset="0.12" stop-color="#1F57AF"/><stop offset="0.13" stop-color="#1F8AD2"/><stop offset="0.13" stop-color="#5EC0CE"/><stop offset="0.14" stop-color="#8FC973"/><stop offset="0.15" stop-color="#EBE537"/><stop offset="0.16" stop-color="#F2951E"/><stop offset="0.17" stop-color="#E5381C"/><stop offset="0.2" stop-color="#C5161A"/><stop offset="0.21" stop-color="#A4171C"/><stop offset="0.23" stop-color="#8E191E"/><stop offset="0.24" stop-color="#A0171D"/><stop offset="0.26" stop-color="#C4161A"/><stop offset="0.27" stop-color="#DC221A"/><stop offset="0.29" stop-color="#F1901E"/><stop offset="0.3" stop-color="#F6AE1E"/><stop offset="0.31" stop-color="#F7C221"/><stop offset="0.32" stop-color="#F7C422"/><stop offset="0.34" stop-color="#F2961E"/><stop offset="0.36" stop-color="#E63C1C"/><stop offset="0.37" stop-color="#DB211A"/><stop offset="0.38" stop-color="#D21A19"/><stop offset="0.41" stop-color="#A6161C"/><stop offset="0.43" stop-color="#8E191E"/><stop offset="0.47" stop-color="#9E171D"/><stop offset="0.49" stop-color="#CF1719"/><stop offset="0.53" stop-color="#E5341C"/><stop offset="0.55" stop-color="#ED701E"/><stop offset="0.56" stop-color="#F8BC1E"/><stop offset="0.57" stop-color="#E2E33B"/><stop offset="0.58" stop-color="#BDD84F"/><stop offset="0.59" stop-color="#85C67E"/><stop offset="0.62" stop-color="#5EC0CE"/><stop offset="0.63" stop-color="#47B7DB"/><stop offset="0.64" stop-color="#31A8E2"/><stop offset="0.65" stop-color="#2798D9"/><stop offset="0.68" stop-color="#1F7AC7"/><stop offset="0.69" stop-color="#1F6DBE"/><stop offset="0.78" stop-color="#1848A2"/><stop offset="0.8" stop-color="#113B97"/><stop offset="0.86" stop-color="#102D83"/><stop offset="1" stop-color="#1F2A60"/></linearGradient><linearGradient id="r72" gradientUnits="userSpaceOnUse" x1="644" x2="987"><stop offset="0" stop-color="#1F2A60"/><stop offset="0.01" stop-color="#0F2E85"/><stop offset="0.12" stop-color="#1F56AE"/><stop offset="0.13" stop-color="#1F88D1"/><stop offset="0.13" stop-color="#5ABED0"/><stop offset="0.14" stop-color="#8BC876"/><stop offset="0.15" stop-color="#E5E339"/><stop offset="0.16" stop-color="#F39C1E"/><stop offset="0.17" stop-color="#E7431C"/><stop offset="0.2" stop-color="#CE1719"/><stop offset="0.21" stop-color="#AE161C"/><stop offset="0.23" stop-color="#99181D"/><stop offset="0.24" stop-color="#AB161C"/><stop offset="0.26" stop-color="#CD1719"/><stop offset="0.27" stop-color="#E0251B"/><stop offset="0.29" stop-color="#F2971E"/><stop offset="0.3" stop-color="#F7B51E"/><stop offset="0.31" stop-color="#F7C824"/><stop offset="0.32" stop-color="#F6C925"/><stop offset="0.34" stop-color="#F39E1E"/><stop offset="0.36" stop-color="#E7461C"/><stop offset="0.37" stop-color="#DE241B"/><stop offset="0.38" stop-color="#D61D1A"/><stop offset="0.41" stop-color="#B0151B"/><stop offset="0.43" stop-color="#99181D"/><stop offset="0.47" stop-color="#A8161C"/><stop offset="0.49" stop-color="#D21A19"/><stop offset="0.53" stop-color="#E63F1C"/><stop offset="0.55" stop-color="#EE7A1E"/><stop offset="0.56" stop-color="#F7C221"/><stop offset="0.57" stop-color="#DCE13D"/><stop offset="0.58" stop-color="#B8D752"/><stop offset="0.59" stop-color="#83C683"/><stop offset="0.62" stop-color="#5ABED0"/><stop offset="0.63" stop-color="#44B6DD"/><stop offset="0.64" stop-color="#2FA6E1"/><stop offset="0.65" stop-color="#2696D8"/><stop offset="0.68" stop-color="#1F79C6"/><stop offset="0.69" stop-color="#1F6CBE"/><stop offset="0.78" stop-color="#1847A2"/><stop offset="0.8" stop-color="#113A96"/><stop offset="0.86" stop-color="#102D83"/><stop offset="1" stop-color="#1F2A60"/></linearGradient><linearGradient id="r73" gradientUnits="userSpaceOnUse" x1="644" x2="987"><stop offset="0" stop-color="#1F2A60"/><stop offset="0.01" stop-color="#0F2D84"/><stop offset="0.12" stop-color="#1F55AE"/><stop offset="0.13" stop-color="#1F87D0"/><stop offset="0.13" stop-color="#57BDD3"/><stop offset="0.14" stop-color="#87C679"/><stop offset="0.15" stop-color="#E0E23C"/><stop offset="0.16" stop-color="#F4A31E"/><stop offset="0.17" stop-color="#E84D1D"/><stop offset="0.2" stop-color="#D21A19"/><stop offset="0.21" stop-color="#B8151B"/><stop offset="0.23" stop-color="#A3171C"/><stop offset="0.24" stop-color="#B5151B"/><stop offset="0.26" stop-color="#D11A19"/><stop offset="0.27" stop-color="#E3291B"/><stop offset="0.29" stop-color="#F39E1E"/><stop offset="0.3" stop-color="#F8BC1E"/><stop offset="0.31" stop-color="#F6CD26"/><stop offset="0.32" stop-color="#F6CF27"/><stop offset="0.34" stop-color="#F4A51E"/><stop offset="0.36" stop-color="#E9511D"/><stop offset="0.37" stop-color="#E2271B"/><stop offset="0.38" stop-color="#D9201A"/><stop offset="0.41" stop-color="#BA151B"/><stop offset="0.43" stop-color="#A3171C"/><stop offset="0.47" stop-color="#B3151B"/><stop offset="0.49" stop-color="#D61D1A"/><stop offset="0.53" stop-color="#E84A1D"/><stop offset="0.55" stop-color="#EF831E"/><stop offset="0.56" stop-color="#F7C724"/><stop offset="0.57" stop-color="#D7E040"/><stop offset="0.58" stop-color="#B4D556"/><stop offset="0.59" stop-color="#81C687"/><stop offset="0.62" stop-color="#57BDD2"/><stop offset="0.63" stop-color="#40B4E0"/><stop offset="0.64" stop-color="#2EA4E0"/><stop offset="0.65" stop-color="#2594D7"/><stop offset="0.68" stop-color="#1F77C5"/><stop offset="0.69" stop-color="#1F6ABD"/><stop offset="0.78" stop-color="#1747A1"/><stop offset="0.8" stop-color="#113A96"/><stop offset="0.86" stop-color="#102D82"/><stop offset="1" stop-color="#1F2A60"/></linearGradient><linearGradient id="r74" gradientUnits="userSpaceOnUse" x1="644" x2="987"><stop offset="0" stop-color="#1F2A60"/><stop offset="0.01" stop-color="#0F2D84"/><stop offset="0.12" stop-color="#1E54AD"/><stop offset="0.13" stop-color="#1F85CE"/><stop offset="0.13" stop-color="#53BBD5"/><stop offset="0.14" stop-color="#85C67D"/><stop offset="0.15" stop-color="#DAE13E"/><stop offset="0.16" stop-color="#F5AA1E"/><stop offset="0.17" stop-color="#EA581D"/><stop offset="0.2" stop-color="#D61D1A"/><stop offset="0.21" stop-color="#C1161A"/><stop offset="0.23" stop-color="#AE161C"/><stop offset="0.24" stop-color="#BE161A"/><stop offset="0.26" stop-color="#D51D1A"/><stop offset="0.27" stop-color="#E5341C"/><stop offset="0.29" stop-color="#F4A61E"/><stop offset="0.3" stop-color="#F7C221"/><stop offset="0.31" stop-color="#F5D329"/><stop offset="0.32" stop-color="#F5D52A"/><stop offset="0.34" stop-color="#F5AC1E"/><stop offset="0.36" stop-color="#EA5C1D"/><stop offset="0.37" stop-color="#E4301B"/><stop offset="0.38" stop-color="#DD231A"/><stop offset="0.41" stop-color="#C3161A"/><stop offset="0.43" stop-color="#AE161C"/><stop offset="0.47" stop-color="#BC161A"/><stop offset="0.49" stop-color="#DA201A"/><stop offset="0.53" stop-color="#E9551D"/><stop offset="0.55" stop-color="#F08C1E"/><stop offset="0.56" stop-color="#F6CD26"/><stop offset="0.57" stop-color="#D2DE42"/><stop offset="0.58" stop-color="#AFD459"/><stop offset="0.59" stop-color="#80C68C"/><stop offset="0.62" stop-color="#53BBD5"/><stop offset="0.63" stop-color="#3CB3E2"/><stop offset="0.64" stop-color="#2DA2DE"/><stop offset="0.65" stop-color="#2392D6"/><stop offset="0.68" stop-color="#1F76C4"/><stop offset="0.69" stop-color="#1F69BC"/><stop offset="0.78" stop-color="#1746A0"/><stop offset="0.8" stop-color="#103995"/><stop offset="0.86" stop-color="#102D82"/><stop offset="1" stop-color="#1F2A60"/></linearGradient><linearGradient id="r75" gradientUnits="userSpaceOnUse" x1="644" x2="987"><stop offset="0" stop-color="#1F2A60"/><stop offset="0.01" stop-color="#0F2D84"/><stop offset="0.12" stop-color="#1E53AC"/><stop offset="0.13" stop-color="#1F84CE"/><stop offset="0.13" stop-color="#50BAD6"/><stop offset="0.14" stop-color="#84C680"/><stop offset="0.15" stop-color="#D7E040"/><stop offset="0.16" stop-color="#F6AF1E"/><stop offset="0.17" stop-color="#EA5F1D"/><stop offset="0.2" stop-color="#D81F1A"/><stop offset="0.21" stop-color="#C7161A"/><stop offset="0.23" stop-color="#B4151B"/><stop offset="0.24" stop-color="#C4161A"/><stop offset="0.26" stop-color="#D71F1A"/><stop offset="0.27" stop-color="#E63B1C"/><stop offset="0.29" stop-color="#F5AA1E"/><stop offset="0.3" stop-color="#F7C523"/><stop offset="0.31" stop-color="#F5D72B"/><stop offset="0.32" stop-color="#F5D82C"/><stop offset="0.34" stop-color="#F6B01E"/><stop offset="0.36" stop-color="#EB621E"/><stop offset="0.37" stop-color="#E5371C"/><stop offset="0.38" stop-color="#DF251B"/><stop offset="0.41" stop-color="#C91719"/><stop offset="0.43" stop-color="#B4151B"/><stop offset="0.47" stop-color="#C2161A"/><stop offset="0.49" stop-color="#DC221A"/><stop offset="0.53" stop-color="#EA5B1D"/><stop offset="0.55" stop-color="#F1911E"/><stop offset="0.56" stop-color="#F6D128"/><stop offset="0.57" stop-color="#CEDD44"/><stop offset="0.58" stop-color="#ACD35C"/><stop offset="0.59" stop-color="#7FC68F"/><stop offset="0.62" stop-color="#50BAD6"/><stop offset="0.63" stop-color="#3AB2E3"/><stop offset="0.64" stop-color="#2CA0DE"/><stop offset="0.65" stop-color="#2390D5"/><stop offset="0.68" stop-color="#1F75C4"/><stop offset="0.69" stop-color="#1F68BB"/><stop offset="0.78" stop-color="#1745A0"/><stop offset="0.8" stop-color="#103995"/><stop offset="0.86" stop-color="#112D82"/><stop offset="1" stop-color="#1F2A60"/></linearGradient><linearGradient id="r76" gradientUnits="userSpaceOnUse" x1="644" x2="987"><stop offset="0" stop-color="#1F2A60"/><stop offset="0.01" stop-color="#102D84"/><stop offset="0.12" stop-color="#1E53AC"/><stop offset="0.13" stop-color="#1F83CD"/><stop offset="0.13" stop-color="#4FBAD7"/><stop offset="0.14" stop-color="#83C682"/><stop offset="0.15" stop-color="#D5DF41"/><stop offset="0.16" stop-color="#F6B11E"/><stop offset="0.17" stop-color="#EB621E"/><stop offset="0.2" stop-color="#D9201A"/><stop offset="0.21" stop-color="#C91719"/><stop offset="0.23" stop-color="#B7151B"/><stop offset="0.24" stop-color="#C7161A"/><stop offset="0.26" stop-color="#D81F1A"/><stop offset="0.27" stop-color="#E63E1C"/><stop offset="0.29" stop-color="#F5AC1E"/><stop offset="0.3" stop-color="#F7C723"/><stop offset="0.31" stop-color="#F5D82C"/><stop offset="0.32" stop-color="#F5DA2D"/><stop offset="0.34" stop-color="#F6B21E"/><stop offset="0.36" stop-color="#EB651E"/><stop offset="0.37" stop-color="#E53A1C"/><stop offset="0.38" stop-color="#E0261B"/><stop offset="0.41" stop-color="#CC1719"/><stop offset="0.43" stop-color="#B7151B"/><stop offset="0.47" stop-color="#C5161A"/><stop offset="0.49" stop-color="#DD231A"/><stop offset="0.53" stop-color="#EA5E1D"/><stop offset="0.55" stop-color="#F1931E"/><stop offset="0.56" stop-color="#F5D229"/><stop offset="0.57" stop-color="#CDDD44"/><stop offset="0.58" stop-color="#ABD25D"/><stop offset="0.59" stop-color="#7FC690"/><stop offset="0.62" stop-color="#4FBAD7"/><stop offset="0.63" stop-color="#39B2E3"/><stop offset="0.64" stop-color="#2CA0DD"/><stop offset="0.65" stop-color="#2290D5"/><stop offset="0.68" stop-color="#1F74C3"/><stop offset="0.69" stop-color="#1F68BB"/><stop offset="0.78" stop-color="#1745A0"/><stop offset="0.8" stop-color="#103995"/><stop offset="0.86" stop-color="#112D82"/><stop offset="1" stop-color="#1F2A60"/></linearGradient><linearGradient id="r77" gradientUnits="userSpaceOnUse" x1="644" x2="987"><stop offset="0" stop-color="#1F2A60"/><stop offset="0.01" stop-color="#102D84"/><stop offset="0.12" stop-color="#1E53AC"/><stop offset="0.13" stop-color="#1F83CD"/><stop offset="0.13" stop-color="#4EBAD7"/><stop offset="0.14" stop-color="#83C683"/><stop offset="0.15" stop-color="#D4DF41"/><stop offset="0.16" stop-color="#F6B31E"/><stop offset="0.17" stop-color="#EB641E"/><stop offset="0.2" stop-color="#DA211A"/><stop offset="0.21" stop-color="#CC1719"/><stop offset="0.23" stop-color="#B9151B"/><stop offset="0.24" stop-color="#C91719"/><stop offset="0.26" stop-color="#D9201A"/><stop offset="0.27" stop-color="#E6411C"/><stop offset="0.29" stop-color="#F6AE1E"/><stop offset="0.3" stop-color="#F7C824"/><stop offset="0.31" stop-color="#F5D92C"/><stop offset="0.32" stop-color="#F4DB2D"/><stop offset="0.34" stop-color="#F7B41E"/><stop offset="0.36" stop-color="#EC681E"/><stop offset="0.37" stop-color="#E63D1C"/><stop offset="0.38" stop-color="#E1261B"/><stop offset="0.41" stop-color="#CE1719"/><stop offset="0.43" stop-color="#B9151B"/><stop offset="0.47" stop-color="#C7161A"/><stop offset="0.49" stop-color="#DE241B"/><stop offset="0.53" stop-color="#EB611E"/><stop offset="0.55" stop-color="#F2951E"/><stop offset="0.56" stop-color="#F5D42A"/><stop offset="0.57" stop-color="#CBDD45"/><stop offset="0.58" stop-color="#AAD25D"/><stop offset="0.59" stop-color="#7EC691"/><stop offset="0.62" stop-color="#4EBAD7"/><stop offset="0.63" stop-color="#38B1E4"/><stop offset="0.64" stop-color="#2B9FDD"/><stop offset="0.65" stop-color="#228FD5"/><stop offset="0.68" stop-color="#1F74C3"/><stop offset="0.69" stop-color="#1F68BB"/><stop offset="0.78" stop-color="#1745A0"/><stop offset="0.8" stop-color="#103995"/><stop offset="0.86" stop-color="#112D82"/><stop offset="1" stop-color="#1F2A60"/></linearGradient><linearGradient id="r78" gradientUnits="userSpaceOnUse" x1="644" x2="987"><stop offset="0" stop-color="#1F2A60"/><stop offset="0.01" stop-color="#102D83"/><stop offset="0.12" stop-color="#1D52AB"/><stop offset="0.13" stop-color="#1F81CC"/><stop offset="0.13" stop-color="#4AB8DA"/><stop offset="0.14" stop-color="#81C689"/><stop offset="0.15" stop-color="#CDDD44"/><stop offset="0.16" stop-color="#F8BB1E"/><stop offset="0.17" stop-color="#ED711E"/><stop offset="0.2" stop-color="#DE241B"/><stop offset="0.21" stop-color="#D21A19"/><stop offset="0.23" stop-color="#C5161A"/><stop offset="0.24" stop-color="#D11919"/><stop offset="0.26" stop-color="#DE241B"/><stop offset="0.27" stop-color="#E84E1D"/><stop offset="0.29" stop-color="#F7B71E"/><stop offset="0.3" stop-color="#F6D028"/><stop offset="0.31" stop-color="#F4E030"/><stop offset="0.32" stop-color="#F4E231"/><stop offset="0.34" stop-color="#F8BD1E"/><stop offset="0.36" stop-color="#ED741E"/><stop offset="0.37" stop-color="#E84A1D"/><stop offset="0.38" stop-color="#E4301B"/><stop offset="0.41" stop-color="#D31B19"/><stop offset="0.43" stop-color="#C5161A"/><stop offset="0.47" stop-color="#D01819"/><stop offset="0.49" stop-color="#E2271B"/><stop offset="0.53" stop-color="#EC6E1E"/><stop offset="0.55" stop-color="#F39E1E"/><stop offset="0.56" stop-color="#F4DB2D"/><stop offset="0.57" stop-color="#C5DB48"/><stop offset="0.58" stop-color="#A4D062"/><stop offset="0.59" stop-color="#7CC697"/><stop offset="0.62" stop-color="#4AB8DA"/><stop offset="0.63" stop-color="#35AFE6"/><stop offset="0.64" stop-color="#2A9CDC"/><stop offset="0.65" stop-color="#218DD3"/><stop offset="0.68" stop-color="#1F72C2"/><stop offset="0.69" stop-color="#1F66B9"/><stop offset="0.78" stop-color="#16449F"/><stop offset="0.8" stop-color="#103894"/><stop offset="0.86" stop-color="#112D81"/><stop offset="1" stop-color="#1F2A60"/></linearGradient><linearGradient id="r79" gradientUnits="userSpaceOnUse" x1="644" x2="987"><stop offset="0" stop-color="#1F2A60"/><stop offset="0.01" stop-color="#112D81"/><stop offset="0.12" stop-color="#1B4EA7"/><stop offset="0.13" stop-color="#1F78C6"/><stop offset="0.13" stop-color="#36B1E5"/><stop offset="0.14" stop-color="#79C5A0"/><stop offset="0.15" stop-color="#B3D556"/><stop offset="0.16" stop-color="#F4DA2D"/><stop offset="0.17" stop-color="#F39F1E"/><stop offset="0.2" stop-color="#E9541D"/><stop offset="0.21" stop-color="#E4301B"/><stop offset="0.23" stop-color="#DE241B"/><stop offset="0.24" stop-color="#E42C1B"/><stop offset="0.26" stop-color="#E9531D"/><stop offset="0.27" stop-color="#EF851E"/><stop offset="0.29" stop-color="#F5D72B"/><stop offset="0.3" stop-color="#ECE536"/><stop offset="0.31" stop-color="#DCE13E"/><stop offset="0.32" stop-color="#DAE03E"/><stop offset="0.34" stop-color="#F4DC2D"/><stop offset="0.36" stop-color="#F4A11E"/><stop offset="0.37" stop-color="#EF811E"/><stop offset="0.38" stop-color="#EC691E"/><stop offset="0.41" stop-color="#E4321B"/><stop offset="0.43" stop-color="#DE241B"/><stop offset="0.47" stop-color="#E32A1B"/><stop offset="0.49" stop-color="#EB601E"/><stop offset="0.53" stop-color="#F39C1E"/><stop offset="0.55" stop-color="#F7C321"/><stop offset="0.56" stop-color="#E1E23B"/><stop offset="0.57" stop-color="#ACD35C"/><stop offset="0.58" stop-color="#8EC974"/><stop offset="0.59" stop-color="#74C5AE"/><stop offset="0.62" stop-color="#36B1E5"/><stop offset="0.63" stop-color="#2DA3DF"/><stop offset="0.64" stop-color="#2391D6"/><stop offset="0.65" stop-color="#1F83CD"/><stop offset="0.68" stop-color="#1F6ABD"/><stop offset="0.69" stop-color="#1F5FB5"/><stop offset="0.78" stop-color="#14419C"/><stop offset="0.8" stop-color="#0E3692"/><stop offset="0.86" stop-color="#122D80"/><stop offset="1" stop-color="#1F2A60"/></linearGradient><linearGradient id="r80" gradientUnits="userSpaceOnUse" x1="644" x2="987"><stop offset="0" stop-color="#1F2A60"/><stop offset="0.01" stop-color="#122D80"/><stop offset="0.12" stop-color="#1949A4"/><stop offset="0.13" stop-color="#1F70C0"/><stop offset="0.13" stop-color="#2EA4DF"/><stop offset="0.14" stop-color="#71C5B8"/><stop offset="0.15" stop-color="#9ACD6A"/><stop offset="0.16" stop-color="#DFE23C"/><stop offset="0.17" stop-color="#F7C623"/><stop offset="0.2" stop-color="#F18D1E"/><stop offset="0.21" stop-color="#EC6D1E"/><stop offset="0.23" stop-color="#EA581D"/><stop offset="0.24" stop-color="#EC6A1E"/><stop offset="0.26" stop-color="#F08D1E"/><stop offset="0.27" stop-color="#F6B01E"/><stop offset="0.29" stop-color="#E3E33A"/><stop offset="0.3" stop-color="#CDDD45"/><stop offset="0.31" stop-color="#BED94E"/><stop offset="0.32" stop-color="#BCD84F"/><stop offset="0.34" stop-color="#DEE23C"/><stop offset="0.36" stop-color="#F7C824"/><stop offset="0.37" stop-color="#F6AE1E"/><stop offset="0.38" stop-color="#F39C1E"/><stop offset="0.41" stop-color="#ED701E"/><stop offset="0.43" stop-color="#EA581D"/><stop offset="0.47" stop-color="#EC681E"/><stop offset="0.49" stop-color="#F2961E"/><stop offset="0.53" stop-color="#F7C422"/><stop offset="0.55" stop-color="#F3E331"/><stop offset="0.56" stop-color="#C2DA4A"/><stop offset="0.57" stop-color="#94CB6F"/><stop offset="0.58" stop-color="#80C68C"/><stop offset="0.59" stop-color="#6DC5C4"/><stop offset="0.62" stop-color="#2EA4DF"/><stop offset="0.63" stop-color="#2697D9"/><stop offset="0.64" stop-color="#1F86D0"/><stop offset="0.65" stop-color="#1F7AC7"/><stop offset="0.68" stop-color="#1F63B7"/><stop offset="0.69" stop-color="#1F58B0"/><stop offset="0.78" stop-color="#133E99"/><stop offset="0.8" stop-color="#0D3390"/><stop offset="0.86" stop-color="#132C7E"/><stop offset="1" stop-color="#1F2A60"/></linearGradient><linearGradient id="r81" gradientUnits="userSpaceOnUse" x1="644" x2="987"><stop offset="0" stop-color="#1F2A60"/><stop offset="0.01" stop-color="#132C7E"/><stop offset="0.12" stop-color="#1745A0"/><stop offset="0.13" stop-color="#1F67BA"/><stop offset="0.13" stop-color="#2696D8"/><stop offset="0.14" stop-color="#61C1CC"/><stop offset="0.15" stop-color="#84C680"/><stop offset="0.16" stop-color="#BFD94D"/><stop offset="0.17" stop-color="#F1E734"/><stop offset="0.2" stop-color="#F8BA1E"/><stop offset="0.21" stop-color="#F4A21E"/><stop offset="0.23" stop-color="#F2941E"/><stop offset="0.24" stop-color="#F4A01E"/><stop offset="0.26" stop-color="#F8BA1E"/><stop offset="0.27" stop-color="#F5D62B"/><stop offset="0.29" stop-color="#C2DA4A"/><stop offset="0.3" stop-color="#AFD459"/><stop offset="0.31" stop-color="#A2CF64"/><stop offset="0.32" stop-color="#A0CF65"/><stop offset="0.34" stop-color="#BED94E"/><stop offset="0.36" stop-color="#EFE635"/><stop offset="0.37" stop-color="#F5D42A"/><stop offset="0.38" stop-color="#F7C623"/><stop offset="0.41" stop-color="#F4A41E"/><stop offset="0.43" stop-color="#F2941E"/><stop offset="0.47" stop-color="#F39F1E"/><stop offset="0.49" stop-color="#F7C121"/><stop offset="0.53" stop-color="#F3E733"/><stop offset="0.55" stop-color="#D4DF41"/><stop offset="0.56" stop-color="#A6D160"/><stop offset="0.57" stop-color="#81C687"/><stop offset="0.58" stop-color="#77C5A7"/><stop offset="0.59" stop-color="#55BCD4"/><stop offset="0.62" stop-color="#2696D8"/><stop offset="0.63" stop-color="#1F8AD2"/><stop offset="0.64" stop-color="#1F7CC9"/><stop offset="0.65" stop-color="#1F70C1"/><stop offset="0.68" stop-color="#1F5BB2"/><stop offset="0.69" stop-color="#1D52AB"/><stop offset="0.78" stop-color="#113A96"/><stop offset="0.8" stop-color="#0C308D"/><stop offset="0.86" stop-color="#142C7C"/><stop offset="1" stop-color="#1F2A60"/></linearGradient><linearGradient id="r82" gradientUnits="userSpaceOnUse" x1="644" x2="987"><stop offset="0" stop-color="#1F2A60"/><stop offset="0.01" stop-color="#142C7B"/><stop offset="0.12" stop-color="#143F9B"/><stop offset="0.13" stop-color="#1F5BB2"/><stop offset="0.13" stop-color="#1F84CE"/><stop offset="0.14" stop-color="#3DB3E1"/><stop offset="0.15" stop-color="#76C5AA"/><stop offset="0.16" stop-color="#95CB6E"/><stop offset="0.17" stop-color="#BFD94D"/><stop offset="0.2" stop-color="#EAE537"/><stop offset="0.21" stop-color="#F4DD2E"/><stop offset="0.23" stop-color="#F5D229"/><stop offset="0.24" stop-color="#F4DC2D"/><stop offset="0.26" stop-color="#EAE537"/><stop offset="0.27" stop-color="#D0DE43"/><stop offset="0.29" stop-color="#98CC6C"/><stop offset="0.3" stop-color="#87C679"/><stop offset="0.31" stop-color="#82C687"/><stop offset="0.32" stop-color="#81C688"/><stop offset="0.34" stop-color="#94CB6F"/><stop offset="0.36" stop-color="#BDD84E"/><stop offset="0.37" stop-color="#D1DE42"/><stop offset="0.38" stop-color="#DFE23C"/><stop offset="0.41" stop-color="#F4DF2F"/><stop offset="0.43" stop-color="#F5D229"/><stop offset="0.47" stop-color="#F4DA2D"/><stop offset="0.49" stop-color="#E3E33A"/><stop offset="0.53" stop-color="#C0D94C"/><stop offset="0.55" stop-color="#A7D160"/><stop offset="0.56" stop-color="#83C682"/><stop offset="0.57" stop-color="#73C5B0"/><stop offset="0.58" stop-color="#65C2CA"/><stop offset="0.59" stop-color="#34AEE5"/><stop offset="0.62" stop-color="#1F84CE"/><stop offset="0.63" stop-color="#1F7AC7"/><stop offset="0.64" stop-color="#1F6EBF"/><stop offset="0.65" stop-color="#1F63B8"/><stop offset="0.68" stop-color="#1D52AB"/><stop offset="0.69" stop-color="#1A4BA5"/><stop offset="0.78" stop-color="#0F3692"/><stop offset="0.8" stop-color="#0C2E89"/><stop offset="0.86" stop-color="#152B7A"/><stop offset="1" stop-color="#1F2A60"/></linearGradient><linearGradient id="r83" gradientUnits="userSpaceOnUse" x1="644" x2="987"><stop offset="0" stop-color="#1F2A60"/><stop offset="0.01" stop-color="#172B75"/><stop offset="0.12" stop-color="#0D3390"/><stop offset="0.13" stop-color="#1747A1"/><stop offset="0.13" stop-color="#1F61B6"/><stop offset="0.14" stop-color="#1F83CD"/><stop offset="0.15" stop-color="#31AAE3"/><stop offset="0.16" stop-color="#61C1CD"/><stop offset="0.17" stop-color="#75C5AC"/><stop offset="0.2" stop-color="#81C688"/><stop offset="0.21" stop-color="#87C679"/><stop offset="0.23" stop-color="#90C972"/><stop offset="0.24" stop-color="#89C778"/><stop offset="0.26" stop-color="#81C688"/><stop offset="0.27" stop-color="#7AC69D"/><stop offset="0.29" stop-color="#63C2CB"/><stop offset="0.3" stop-color="#53BBD4"/><stop offset="0.31" stop-color="#48B7DB"/><stop offset="0.32" stop-color="#47B7DC"/><stop offset="0.34" stop-color="#60C0CD"/><stop offset="0.36" stop-color="#75C5AD"/><stop offset="0.37" stop-color="#7AC69C"/><stop offset="0.38" stop-color="#7EC691"/><stop offset="0.41" stop-color="#86C67A"/><stop offset="0.43" stop-color="#90C972"/><stop offset="0.47" stop-color="#89C777"/><stop offset="0.49" stop-color="#7FC68D"/><stop offset="0.53" stop-color="#75C5AA"/><stop offset="0.55" stop-color="#6EC5C1"/><stop offset="0.56" stop-color="#4CB9D9"/><stop offset="0.57" stop-color="#2FA6E1"/><stop offset="0.58" stop-color="#2696D9"/><stop offset="0.59" stop-color="#1F7ECA"/><stop offset="0.62" stop-color="#1F61B6"/><stop offset="0.63" stop-color="#1F59B1"/><stop offset="0.64" stop-color="#1D51AB"/><stop offset="0.65" stop-color="#1A4BA5"/><stop offset="0.68" stop-color="#14419C"/><stop offset="0.69" stop-color="#123C97"/><stop offset="0.78" stop-color="#0D2E88"/><stop offset="0.8" stop-color="#112D81"/><stop offset="0.86" stop-color="#182B74"/><stop offset="1" stop-color="#1F2A60"/></linearGradient><linearGradient id="r84" gradientUnits="userSpaceOnUse" x1="644" x2="987"><stop offset="0" stop-color="#1F2A60"/><stop offset="0.01" stop-color="#1A2B6E"/><stop offset="0.12" stop-color="#102D83"/><stop offset="0.13" stop-color="#0E3591"/><stop offset="0.13" stop-color="#16459F"/><stop offset="0.14" stop-color="#1F57AF"/><stop offset="0.15" stop-color="#1F6FC0"/><stop offset="0.16" stop-color="#1F86CF"/><stop offset="0.17" stop-color="#2798DA"/><stop offset="0.2" stop-color="#32AAE3"/><stop offset="0.21" stop-color="#38B1E4"/><stop offset="0.23" stop-color="#3FB4E0"/><stop offset="0.24" stop-color="#39B2E3"/><stop offset="0.26" stop-color="#32ABE3"/><stop offset="0.27" stop-color="#2BA0DD"/><stop offset="0.29" stop-color="#1F87D0"/><stop offset="0.3" stop-color="#1F80CB"/><stop offset="0.31" stop-color="#1F7BC8"/><stop offset="0.32" stop-color="#1F7BC8"/><stop offset="0.34" stop-color="#1F86CF"/><stop offset="0.36" stop-color="#2798D9"/><stop offset="0.37" stop-color="#2CA0DE"/><stop offset="0.38" stop-color="#2FA6E1"/><stop offset="0.41" stop-color="#37B1E5"/><stop offset="0.43" stop-color="#3FB4E0"/><stop offset="0.47" stop-color="#3AB2E3"/><stop offset="0.49" stop-color="#30A8E2"/><stop offset="0.53" stop-color="#2899DA"/><stop offset="0.55" stop-color="#218ED4"/><stop offset="0.56" stop-color="#1F7DC9"/><stop offset="0.57" stop-color="#1F6DBE"/><stop offset="0.58" stop-color="#1F63B8"/><stop offset="0.59" stop-color="#1E54AD"/><stop offset="0.62" stop-color="#16459F"/><stop offset="0.63" stop-color="#14419C"/><stop offset="0.64" stop-color="#123C98"/><stop offset="0.65" stop-color="#103894"/><stop offset="0.68" stop-color="#0C318E"/><stop offset="0.69" stop-color="#0C2F8A"/><stop offset="0.78" stop-color="#132C7E"/><stop offset="0.8" stop-color="#162B78"/><stop offset="0.86" stop-color="#1A2B6D"/><stop offset="1" stop-color="#1F2A60"/></linearGradient><linearGradient id="r85" gradientUnits="userSpaceOnUse" x1="644" x2="987"><stop offset="0" stop-color="#1F2A60"/><stop offset="0.01" stop-color="#1B2A6A"/><stop offset="0.12" stop-color="#152B7A"/><stop offset="0.13" stop-color="#0F2E85"/><stop offset="0.13" stop-color="#0E3491"/><stop offset="0.14" stop-color="#14409C"/><stop offset="0.15" stop-color="#1B4DA7"/><stop offset="0.16" stop-color="#1F5BB2"/><stop offset="0.17" stop-color="#1F66BA"/><stop offset="0.2" stop-color="#1F72C1"/><stop offset="0.21" stop-color="#1F77C5"/><stop offset="0.23" stop-color="#1F7AC7"/><stop offset="0.24" stop-color="#1F77C5"/><stop offset="0.26" stop-color="#1F72C2"/><stop offset="0.27" stop-color="#1F6BBD"/><stop offset="0.29" stop-color="#1F5BB2"/><stop offset="0.3" stop-color="#1F57AF"/><stop offset="0.31" stop-color="#1E54AD"/><stop offset="0.32" stop-color="#1E53AD"/><stop offset="0.34" stop-color="#1F5AB2"/><stop offset="0.36" stop-color="#1F66B9"/><stop offset="0.37" stop-color="#1F6BBD"/><stop offset="0.38" stop-color="#1F6FBF"/><stop offset="0.41" stop-color="#1F76C5"/><stop offset="0.43" stop-color="#1F7AC7"/><stop offset="0.47" stop-color="#1F78C5"/><stop offset="0.49" stop-color="#1F70C0"/><stop offset="0.53" stop-color="#1F67BA"/><stop offset="0.55" stop-color="#1F60B5"/><stop offset="0.56" stop-color="#1F54AE"/><stop offset="0.57" stop-color="#1A4CA6"/><stop offset="0.58" stop-color="#1847A1"/><stop offset="0.59" stop-color="#133F9A"/><stop offset="0.62" stop-color="#0E3491"/><stop offset="0.63" stop-color="#0C328E"/><stop offset="0.64" stop-color="#0B2F8B"/><stop offset="0.65" stop-color="#0D2E88"/><stop offset="0.68" stop-color="#102D82"/><stop offset="0.69" stop-color="#122C7F"/><stop offset="0.78" stop-color="#172B76"/><stop offset="0.8" stop-color="#192B71"/><stop offset="0.86" stop-color="#1C2A69"/><stop offset="1" stop-color="#1F2A60"/></linearGradient><linearGradient id="r86" gradientUnits="userSpaceOnUse" x1="644" x2="987"><stop offset="0" stop-color="#1F2A60"/><stop offset="0.01" stop-color="#1D2A66"/><stop offset="0.12" stop-color="#192B70"/><stop offset="0.13" stop-color="#162B79"/><stop offset="0.13" stop-color="#112D80"/><stop offset="0.14" stop-color="#0D2E89"/><stop offset="0.15" stop-color="#0E3490"/><stop offset="0.16" stop-color="#113B96"/><stop offset="0.17" stop-color="#14409B"/><stop offset="0.2" stop-color="#1745A0"/><stop offset="0.21" stop-color="#1847A2"/><stop offset="0.23" stop-color="#1849A3"/><stop offset="0.24" stop-color="#1847A2"/><stop offset="0.26" stop-color="#1745A0"/><stop offset="0.27" stop-color="#15429D"/><stop offset="0.29" stop-color="#113B97"/><stop offset="0.3" stop-color="#103995"/><stop offset="0.31" stop-color="#0F3794"/><stop offset="0.32" stop-color="#0F3793"/><stop offset="0.34" stop-color="#113B96"/><stop offset="0.36" stop-color="#14409B"/><stop offset="0.37" stop-color="#15429D"/><stop offset="0.38" stop-color="#16449E"/><stop offset="0.41" stop-color="#1847A1"/><stop offset="0.43" stop-color="#1849A3"/><stop offset="0.47" stop-color="#1847A2"/><stop offset="0.49" stop-color="#16449F"/><stop offset="0.53" stop-color="#14409B"/><stop offset="0.55" stop-color="#123D98"/><stop offset="0.56" stop-color="#103894"/><stop offset="0.57" stop-color="#0D3390"/><stop offset="0.58" stop-color="#0C308D"/><stop offset="0.59" stop-color="#0E2E87"/><stop offset="0.62" stop-color="#112D80"/><stop offset="0.63" stop-color="#122C7E"/><stop offset="0.64" stop-color="#142C7C"/><stop offset="0.65" stop-color="#152B7A"/><stop offset="0.68" stop-color="#172B76"/><stop offset="0.69" stop-color="#182B74"/><stop offset="0.78" stop-color="#1A2B6D"/><stop offset="0.8" stop-color="#1B2A6A"/><stop offset="0.86" stop-color="#1D2A65"/><stop offset="1" stop-color="#1F2A60"/></linearGradient><linearGradient id="r87" gradientUnits="userSpaceOnUse" x1="644" x2="987"><stop offset="0" stop-color="#1F2A60"/><stop offset="0.01" stop-color="#1E2A62"/><stop offset="0.12" stop-color="#1D2A65"/><stop offset="0.13" stop-color="#1C2A68"/><stop offset="0.13" stop-color="#1B2A6C"/><stop offset="0.14" stop-color="#192B70"/><stop offset="0.15" stop-color="#172B74"/><stop offset="0.16" stop-color="#162B78"/><stop offset="0.17" stop-color="#152B7A"/><stop offset="0.2" stop-color="#142C7D"/><stop offset="0.21" stop-color="#132C7D"/><stop offset="0.23" stop-color="#132C7E"/><stop offset="0.24" stop-color="#132C7E"/><stop offset="0.26" stop-color="#142C7D"/><stop offset="0.27" stop-color="#142C7B"/><stop offset="0.29" stop-color="#162B78"/><stop offset="0.3" stop-color="#162B77"/><stop offset="0.31" stop-color="#172B77"/><stop offset="0.32" stop-color="#172B76"/><stop offset="0.34" stop-color="#162B78"/><stop offset="0.36" stop-color="#152B7A"/><stop offset="0.37" stop-color="#142C7B"/><stop offset="0.38" stop-color="#142C7C"/><stop offset="0.41" stop-color="#132C7D"/><stop offset="0.43" stop-color="#132C7E"/><stop offset="0.47" stop-color="#132C7E"/><stop offset="0.49" stop-color="#142C7C"/><stop offset="0.53" stop-color="#152C7B"/><stop offset="0.55" stop-color="#152B79"/><stop offset="0.56" stop-color="#162B77"/><stop offset="0.57" stop-color="#182B74"/><stop offset="0.58" stop-color="#182B72"/><stop offset="0.59" stop-color="#192B6F"/><stop offset="0.62" stop-color="#1B2A6C"/><stop offset="0.63" stop-color="#1B2A6B"/><stop offset="0.64" stop-color="#1B2A6A"/><stop offset="0.65" stop-color="#1C2A69"/><stop offset="0.68" stop-color="#1C2A67"/><stop offset="0.69" stop-color="#1D2A67"/><stop offset="0.78" stop-color="#1D2A64"/><stop offset="0.8" stop-color="#1E2A63"/><stop offset="0.86" stop-color="#1E2A62"/><stop offset="1" stop-color="#1F2A60"/></linearGradient></defs>
<text transform="translate(9.7,12.8) scale(1.14,1)" style="font-size:14.6px;font-weight:bold;fill:#000;stroke:#000;stroke-width:0.55px;stroke-linejoin:round">a</text>
<rect x="99.6" y="99" width="43.6" height="107.8" fill="#E6D3E6"/>
<rect x="149.2" y="92.5" width="22.6" height="142.3" fill="#CDC4DA"/>
<rect x="177.5" y="92.5" width="38.9" height="150.1" fill="#DADFF2"/>
<rect x="182.2" y="112.5" width="28.4" height="111.5" fill="#00913A"/>
<rect x="223.3" y="92.5" width="18.5" height="176.1" fill="#DBD6D1"/>
<rect x="248" y="114.7" width="45" height="164.5" fill="#D0DCF0"/>
<line x1="99.6" y1="49.5" x2="99.6" y2="66" stroke="#000" stroke-width="1.1"/>
<line x1="143.2" y1="49.5" x2="143.2" y2="66" stroke="#000" stroke-width="1.1"/>
<line x1="101.6" y1="57.7" x2="141.2" y2="57.7" stroke="#000" stroke-width="1.1"/>
<path d="M100.2 57.7L105.7 55.4L104.32 57.7L105.7 60Z" fill="#000"/>
<path d="M142.6 57.7L137.1 60L138.47 57.7L137.1 55.4Z" fill="#000"/>
<text transform="translate(126.4,47.5) rotate(-90)">40 nm</text>
<line x1="149.4" y1="49.5" x2="149.4" y2="66" stroke="#000" stroke-width="1.1"/>
<line x1="171.6" y1="49.5" x2="171.6" y2="66" stroke="#000" stroke-width="1.1"/>
<line x1="151.4" y1="57.7" x2="169.6" y2="57.7" stroke="#000" stroke-width="1.1"/>
<path d="M150 57.7L155.5 55.4L154.12 57.7L155.5 60Z" fill="#000"/>
<path d="M171 57.7L165.5 60L166.88 57.7L165.5 55.4Z" fill="#000"/>
<text transform="translate(165.5,47.5) rotate(-90)">20 nm</text>
<line x1="177.6" y1="49.5" x2="177.6" y2="66" stroke="#000" stroke-width="1.1"/>
<line x1="216.4" y1="49.5" x2="216.4" y2="66" stroke="#000" stroke-width="1.1"/>
<line x1="179.6" y1="57.7" x2="214.4" y2="57.7" stroke="#000" stroke-width="1.1"/>
<path d="M178.2 57.7L183.7 55.4L182.32 57.7L183.7 60Z" fill="#000"/>
<path d="M215.8 57.7L210.3 60L211.68 57.7L210.3 55.4Z" fill="#000"/>
<text transform="translate(202,47.5) rotate(-90)">25 nm</text>
<line x1="223.4" y1="49.5" x2="223.4" y2="66" stroke="#000" stroke-width="1.1"/>
<line x1="241.7" y1="49.5" x2="241.7" y2="66" stroke="#000" stroke-width="1.1"/>
<line x1="225.4" y1="57.7" x2="239.7" y2="57.7" stroke="#000" stroke-width="1.1"/>
<path d="M224 57.7L229.5 55.4L228.12 57.7L229.5 60Z" fill="#000"/>
<path d="M241.1 57.7L235.6 60L236.97 57.7L235.6 55.4Z" fill="#000"/>
<text transform="translate(237.6,47.5) rotate(-90)">10 nm</text>
<line x1="248.1" y1="49.5" x2="248.1" y2="66" stroke="#000" stroke-width="1.1"/>
<line x1="292.6" y1="49.5" x2="292.6" y2="66" stroke="#000" stroke-width="1.1"/>
<line x1="250.1" y1="57.7" x2="290.6" y2="57.7" stroke="#000" stroke-width="1.1"/>
<path d="M248.7 57.7L254.2 55.4L252.82 57.7L254.2 60Z" fill="#000"/>
<path d="M292 57.7L286.5 60L287.88 57.7L286.5 55.4Z" fill="#000"/>
<text transform="translate(275.4,47.5) rotate(-90)">40 nm</text>
<text x="120" y="93.8" text-anchor="middle">–2.3</text>
<text x="157.8" y="86" text-anchor="middle">–2.2</text>
<text x="194.5" y="86" text-anchor="middle">–2.5</text>
<text x="230.3" y="86" text-anchor="middle">–2.5</text>
<text x="268.6" y="108.3" text-anchor="middle">–3.0</text>
<text x="119" y="223.9" text-anchor="middle">–5.2</text>
<text x="157.8" y="253.3" text-anchor="middle">–5.8</text>
<text x="194.4" y="260.6" text-anchor="middle">–6.0</text>
<text x="230.3" y="286" text-anchor="middle">–6.5</text>
<text x="269.4" y="295.8" text-anchor="middle">–6.7</text>
<text x="56.2" y="177.8" text-anchor="middle">ITO</text>
<text x="56.2" y="200" text-anchor="middle">–4.80 eV</text>
<text x="335" y="136.6" text-anchor="middle">LiF/Al</text>
<text x="334.4" y="160.3" text-anchor="middle">–3.7</text>
<text x="194.5" y="107.8" text-anchor="middle"><tspan font-style="italic">m</tspan>CP</text>
<line x1="19.4" y1="183.9" x2="92.6" y2="183.9" stroke="#000" stroke-width="1.3"/>
<line x1="298" y1="143" x2="371.5" y2="143" stroke="#000" stroke-width="1.3"/>
<text text-anchor="middle" transform="translate(126,153) rotate(-90)">PEDOT:PSS</text>
<text text-anchor="middle" transform="translate(165,166.5) rotate(-90)">PVK</text>
<text text-anchor="middle" style="fill:#fff;" transform="translate(203,167.5) rotate(-90)">NP@ligand</text>
<text text-anchor="middle" transform="translate(237,180) rotate(-90)">DPEPO</text>
<text text-anchor="middle" transform="translate(275,197) rotate(-90)">TmPyPB</text>
<rect x="378" y="48.6" width="139.4" height="139.2" fill="#000"/>
<text x="394.3" y="71.8" style="fill:#fff">NaGd<tspan font-size="10" dy="3.2">0.6</tspan><tspan dy="-3.2">F</tspan><tspan font-size="10" dy="3.2">4</tspan><tspan dy="-3.2">:Tb</tspan><tspan font-size="10" dy="3.2">0.4</tspan></text>
<text x="394.3" y="89.8" style="fill:#fff;">@CzPPOA</text>
<g transform="translate(444.6,119.2) rotate(21)" filter="url(#bl07)"><rect x="-13.6" y="-13.6" width="27.2" height="27.2" rx="2" fill="#A5E6CB"/><rect x="-11.8" y="-12.4" width="24.2" height="24" rx="1.5" fill="#62CFA4"/></g>
<ellipse cx="416.6" cy="146.4" rx="1.8" ry="1" fill="#8A2A22" transform="rotate(25 416.6 146.4)"/>
<path d="M85.59 265.84L77.18 259.73M94.01 265.84L102.42 259.73M82 244.89L97.6 244.89M77.18 259.73L82 244.89M82 244.89L71.56 233.3M71.56 233.3L56.3 236.54M56.3 236.54L51.48 251.38M51.48 251.38L61.92 262.97M61.92 262.97L77.18 259.73M75.19 256.46L78.47 246.37M69.72 236.66L59.35 238.86M55.31 251.3L62.41 259.18M102.42 259.73L97.6 244.89M97.6 244.89L108.04 233.3M108.04 233.3L123.3 236.54M123.3 236.54L128.12 251.38M128.12 251.38L117.68 262.97M117.68 262.97L102.42 259.73M104.41 256.46L101.13 246.37M109.88 236.66L120.25 238.86M124.29 251.3L117.19 259.18M89.8 274.6L89.8 283.5M89.8 283.5L77.2 291.2M89.8 283.5L97.5 288.2M77.2 291.2L66 285M71.2 281.2L68.4 281.2L68.4 295.6L71.2 295.6M93.8 279.2L96.6 279.2L96.6 293.8L93.8 293.8M89.3 377.8L102.46 385.4M102.46 385.4L102.46 400.6M102.46 400.6L89.3 408.2M89.3 408.2L76.14 400.6M76.14 400.6L76.14 385.4M76.14 385.4L89.3 377.8M89.96 381.53L98.91 386.7M98.91 399.3L89.96 404.47M79.04 398.17L79.04 387.83M58.15 381.72L48.65 385.95M62.36 374.43L61.27 364.09M38.21 374.35L46.01 360.84M48.65 385.95L38.21 374.35M38.21 374.35L22.95 377.6M22.95 377.6L18.13 392.43M18.13 392.43L28.57 404.02M28.57 404.02L43.83 400.78M43.83 400.78L48.65 385.95M44.82 386.03L37.73 378.15M24.94 380.87L21.66 390.95M30.41 400.67L40.78 398.46M61.27 364.09L46.01 360.84M46.01 360.84L41.19 346.01M41.19 346.01L51.63 334.41M51.63 334.41L66.89 337.66M66.89 337.66L71.71 352.49M71.71 352.49L61.27 364.09M59.43 360.73L49.05 358.52M45.01 346.09L52.11 338.21M64.9 340.93L68.18 351.01M115.74 374.43L116.83 364.09M119.95 381.72L129.45 385.95M132.09 360.84L139.89 374.35M116.83 364.09L132.09 360.84M132.09 360.84L136.91 346.01M136.91 346.01L126.47 334.41M126.47 334.41L111.21 337.66M111.21 337.66L106.39 352.49M106.39 352.49L116.83 364.09M118.67 360.73L129.05 358.52M133.09 346.09L125.99 338.21M113.2 340.93L109.92 351.01M129.45 385.95L139.89 374.35M139.89 374.35L155.15 377.6M155.15 377.6L159.97 392.43M159.97 392.43L149.53 404.02M149.53 404.02L134.27 400.78M134.27 400.78L129.45 385.95M133.28 386.03L140.37 378.15M153.16 380.87L156.44 390.95M147.69 400.67L137.32 398.46M67.85 381.77L76.14 385.4M110.29 381.84L102.46 385.4M234.8 313.7L248.31 321.5M248.31 321.5L248.31 337.1M248.31 337.1L234.8 344.9M234.8 344.9L221.29 337.1M221.29 337.1L221.29 321.5M221.29 321.5L234.8 313.7M235.51 317.46L244.7 322.76M244.7 335.84L235.51 341.14M224.19 334.6L224.19 324M289.2 313.7L302.71 321.5M302.71 321.5L302.71 337.1M302.71 337.1L289.2 344.9M289.2 344.9L275.69 337.1M275.69 337.1L275.69 321.5M275.69 321.5L289.2 313.7M299.81 324L299.81 334.6M288.49 341.14L279.3 335.84M279.3 322.76L288.49 317.46M248.31 337.1L257.36 342.6M275.69 337.1L266.28 342.66M234.8 344.9L234.8 356.2M289.2 344.9L289.2 356.2M234.8 377.3L248.31 385.1M248.31 385.1L248.31 400.7M248.31 400.7L234.8 408.5M234.8 408.5L221.29 400.7M221.29 400.7L221.29 385.1M221.29 385.1L234.8 377.3M245.41 387.6L245.41 398.2M234.09 404.74L224.9 399.44M224.9 386.36L234.09 381.06M289.2 377.3L302.71 385.1M302.71 385.1L302.71 400.7M302.71 400.7L289.2 408.5M289.2 408.5L275.69 400.7M275.69 400.7L275.69 385.1M275.69 385.1L289.2 377.3M299.81 387.6L299.81 398.2M288.49 404.74L279.3 399.44M279.3 386.36L288.49 381.06M234.8 368.4L234.8 377.3M289.2 368.4L289.2 377.3M211.1 348.09L218.9 361.6M218.9 361.6L211.1 375.11M211.1 375.11L195.5 375.11M195.5 375.11L187.7 361.6M187.7 361.6L195.5 348.09M195.5 348.09L211.1 348.09M209.84 351.7L215.14 360.89M208.6 372.21L198 372.21M191.46 360.89L196.76 351.7M328.5 348.09L336.3 361.6M336.3 361.6L328.5 375.11M328.5 375.11L312.9 375.11M312.9 375.11L305.1 361.6M305.1 361.6L312.9 348.09M312.9 348.09L328.5 348.09M315.4 350.99L326 350.99M332.54 362.31L327.24 371.5M314.16 371.5L308.86 362.31M218.9 361.6L230.2 362.03M305.1 361.6L293.8 362.03M240 360.2L247 360.2M240 363.4L247 363.4M277 360.2L284 360.2M277 363.4L284 363.4M421.7 302.9L435.12 310.65M435.12 310.65L435.12 326.15M435.12 326.15L421.7 333.9M421.7 333.9L408.28 326.15M408.28 326.15L408.28 310.65M408.28 310.65L421.7 302.9M422.4 306.65L431.53 311.92M431.53 324.88L422.4 330.15M411.18 323.67L411.18 313.13M421.7 255.7L435.12 263.45M435.12 263.45L435.12 278.95M435.12 278.95L421.7 286.7M421.7 286.7L408.28 278.95M408.28 278.95L408.28 263.45M408.28 263.45L421.7 255.7M422.4 259.45L431.53 264.72M431.53 277.68L422.4 282.95M411.18 276.47L411.18 265.93M421.7 302.9L421.7 286.7M462.58 326.5L476 334.25M476 334.25L476 349.75M476 349.75L462.58 357.5M462.58 357.5L449.15 349.75M449.15 349.75L449.15 334.25M449.15 334.25L462.58 326.5M463.27 330.25L472.4 335.52M472.4 348.48L463.27 353.75M452.05 347.27L452.05 336.73M435.12 326.15L449.15 334.25M380.82 326.5L394.25 334.25M394.25 334.25L394.25 349.75M394.25 349.75L380.82 357.5M380.82 357.5L367.4 349.75M367.4 349.75L367.4 334.25M367.4 334.25L380.82 326.5M381.52 330.25L390.65 335.52M390.65 348.48L381.52 353.75M370.3 347.27L370.3 336.73M408.28 326.15L394.25 334.25M408.28 263.45L394.25 255.35M476 334.25L490.03 326.15M380.82 357.5L380.82 373.7M380.82 232.1L394.25 239.85M394.25 239.85L394.25 255.35M394.25 255.35L380.82 263.1M380.82 263.1L371.73 257.85M367.4 250.35L367.4 239.85M367.4 239.85L380.82 232.1M391.35 242.33L391.35 252.87M380.13 259.35L373.68 255.63M371 241.12L380.13 235.85M507.78 305.4L516.88 310.65M516.88 310.65L516.88 326.15M516.88 326.15L503.45 333.9M503.45 333.9L490.03 326.15M490.03 326.15L490.03 310.65M490.03 310.65L499.12 305.4M513.98 313.13L513.98 323.67M502.76 330.15L493.63 324.88M493.63 311.92L500.07 308.2M380.82 373.7L394.25 381.45M394.25 381.45L394.25 391.95M389.92 399.45L380.82 404.7M380.82 404.7L367.4 396.95M367.4 396.95L367.4 381.45M367.4 381.45L380.82 373.7M391.35 383.93L391.35 391.37M380.13 400.95L371 395.68M371 382.72L380.13 377.45" fill="none" stroke="#231F20" stroke-width="1.12" stroke-linecap="round" stroke-linejoin="round"/>
<text x="89.8" y="273.4" text-anchor="middle" style="font-size:12.4px;">N</text>
<text x="62.9" y="384.1" text-anchor="middle" style="font-size:12.4px;">N</text>
<text x="115.2" y="384.1" text-anchor="middle" style="font-size:12.4px;">N</text>
<text x="261.8" y="349.8" text-anchor="middle" style="font-size:12.4px;">O</text>
<text x="234.8" y="366.6" text-anchor="middle" style="font-size:12.4px;">P</text>
<text x="289.2" y="366.6" text-anchor="middle" style="font-size:12.4px;">P</text>
<text x="252.4" y="366.5" text-anchor="middle" style="font-size:12.4px;">O</text>
<text x="271.6" y="366.5" text-anchor="middle" style="font-size:12.4px;">O</text>
<text x="367.6" y="261.1" text-anchor="middle" style="font-size:12.4px;">N</text>
<text x="503.8" y="307.5" text-anchor="middle" style="font-size:12.4px;">N</text>
<text x="394.5" y="402.6" text-anchor="middle" style="font-size:12.4px;">N</text>
<text x="99.5" y="298" style="font-size:12px;font-style:italic;">n</text>
<text x="87.1" y="319.2" text-anchor="middle">PVK</text>
<text x="257.5" y="427.4" text-anchor="middle">DPEPO</text>
<text x="435.3" y="427.4" text-anchor="middle">TmPyPB</text>
<text x="87.1" y="427.2" text-anchor="middle"><tspan font-style="italic">m</tspan>CP</text>
<g clip-path="url(#cieclip)"><g filter="url(#cieblur)"><use href="#cs" transform="translate(817.8,264.4) scale(0.97)" fill="#fff" fill-opacity="0.04"/><use href="#cs" transform="translate(817.8,264.4) scale(0.92)" fill="#fff" fill-opacity="0.04"/><use href="#cs" transform="translate(817.8,264.4) scale(0.86)" fill="#fff" fill-opacity="0.04"/><use href="#cs" transform="translate(817.8,264.4) scale(0.81)" fill="#fff" fill-opacity="0.04"/><use href="#cs" transform="translate(817.8,264.4) scale(0.75)" fill="#fff" fill-opacity="0.05"/><use href="#cs" transform="translate(817.8,264.4) scale(0.69)" fill="#fff" fill-opacity="0.05"/><use href="#cs" transform="translate(817.8,264.4) scale(0.64)" fill="#fff" fill-opacity="0.05"/><use href="#cs" transform="translate(817.8,264.4) scale(0.58)" fill="#fff" fill-opacity="0.06"/><use href="#cs" transform="translate(817.8,264.4) scale(0.53)" fill="#fff" fill-opacity="0.07"/><use href="#cs" transform="translate(817.8,264.4) scale(0.47)" fill="#fff" fill-opacity="0.07"/><use href="#cs" transform="translate(817.8,264.4) scale(0.42)" fill="#fff" fill-opacity="0.08"/><use href="#cs" transform="translate(817.8,264.4) scale(0.36)" fill="#fff" fill-opacity="0.1"/><use href="#cs" transform="translate(817.8,264.4) scale(0.31)" fill="#fff" fill-opacity="0.11"/><use href="#cs" transform="translate(817.8,264.4) scale(0.25)" fill="#fff" fill-opacity="0.14"/><use href="#cs" transform="translate(817.8,264.4) scale(0.19)" fill="#fff" fill-opacity="0.18"/><use href="#cs" transform="translate(817.8,264.4) scale(0.14)" fill="#fff" fill-opacity="0.26"/><use href="#cs" transform="translate(817.8,264.4) scale(0.08)" fill="#fff" fill-opacity="0.44"/><use href="#cs" transform="translate(817.8,264.4) scale(0.03)" fill="#fff" fill-opacity="1"/></g></g>
<text transform="translate(580.7,12.6) scale(1.14,1)" style="font-size:14.6px;font-weight:bold;fill:#000;stroke:#000;stroke-width:0.55px;stroke-linejoin:round">b</text>
<line x1="629.8" y1="49.5" x2="629.8" y2="396.2" stroke="#77787B" stroke-width="1.2"/>
<line x1="629.2" y1="395.6" x2="1069" y2="395.6" stroke="#4D4D4F" stroke-width="1.2"/>
<line x1="629.8" y1="384.4" x2="637.2" y2="384.4" stroke="#C7C8CA" stroke-width="1"/>
<text x="623.2" y="389.6" text-anchor="end">0</text>
<line x1="703.1" y1="395.6" x2="703.1" y2="389.2" stroke="#414042" stroke-width="1"/>
<text x="703.1" y="412.3" text-anchor="middle">0</text>
<line x1="629.8" y1="347.5" x2="637.2" y2="347.5" stroke="#808285" stroke-width="1"/>
<line x1="740" y1="395.6" x2="740" y2="389.2" stroke="#808285" stroke-width="1"/>
<text x="740" y="412.3" text-anchor="middle">0.1</text>
<line x1="629.8" y1="310.7" x2="637.2" y2="310.7" stroke="#414042" stroke-width="1"/>
<text x="623.2" y="315.9" text-anchor="end">0.2</text>
<line x1="776.9" y1="395.6" x2="776.9" y2="389.2" stroke="#414042" stroke-width="1"/>
<text x="776.9" y="412.3" text-anchor="middle">0.2</text>
<line x1="629.8" y1="273.8" x2="637.2" y2="273.8" stroke="#414042" stroke-width="1"/>
<line x1="813.8" y1="395.6" x2="813.8" y2="389.2" stroke="#414042" stroke-width="1"/>
<text x="813.8" y="412.3" text-anchor="middle">0.3</text>
<line x1="629.8" y1="237" x2="637.2" y2="237" stroke="#414042" stroke-width="1.5"/>
<text x="623.2" y="242.2" text-anchor="end">0.4</text>
<line x1="850.7" y1="395.6" x2="850.7" y2="389.2" stroke="#808285" stroke-width="1"/>
<text x="850.7" y="412.3" text-anchor="middle">0.4</text>
<line x1="629.8" y1="200.1" x2="637.2" y2="200.1" stroke="#000" stroke-width="1"/>
<line x1="887.6" y1="395.6" x2="887.6" y2="389.2" stroke="#D1D3D4" stroke-width="1"/>
<text x="887.6" y="412.3" text-anchor="middle">0.5</text>
<line x1="629.8" y1="163.3" x2="637.2" y2="163.3" stroke="#6D6E71" stroke-width="1.5"/>
<text x="623.2" y="168.5" text-anchor="end">0.6</text>
<line x1="924.5" y1="395.6" x2="924.5" y2="389.2" stroke="#000" stroke-width="1"/>
<text x="924.5" y="412.3" text-anchor="middle">0.6</text>
<line x1="629.8" y1="126.4" x2="637.2" y2="126.4" stroke="#414042" stroke-width="1"/>
<line x1="961.4" y1="395.6" x2="961.4" y2="389.2" stroke="#A7A9AC" stroke-width="1"/>
<text x="961.4" y="412.3" text-anchor="middle">0.7</text>
<line x1="629.8" y1="89.6" x2="637.2" y2="89.6" stroke="#C7C8CA" stroke-width="1"/>
<text x="623.2" y="94.8" text-anchor="end">0.8</text>
<line x1="998.3" y1="395.6" x2="998.3" y2="389.2" stroke="#D1D3D4" stroke-width="1"/>
<text x="998.3" y="412.3" text-anchor="middle">0.8</text>
<text x="586.3" y="227.6" style="font-style:italic;">y</text>
<text x="845.6" y="431" style="font-style:italic;">x</text>
<line x1="756.6" y1="373.1" x2="751.8" y2="377.5" stroke="#5466AF" stroke-width="0.8"/>
<line x1="753.5" y1="369.4" x2="749.7" y2="372.2" stroke="#4C67B0" stroke-width="0.8"/>
<line x1="749.3" y1="362.9" x2="743.7" y2="366" stroke="#4468B2" stroke-width="0.8"/>
<line x1="744" y1="352.2" x2="739.7" y2="354.1" stroke="#3F6FB8" stroke-width="0.8"/>
<line x1="737.3" y1="335.3" x2="731.2" y2="337.6" stroke="#3F87C8" stroke-width="0.8"/>
<line x1="728.9" y1="310.3" x2="724.4" y2="311.6" stroke="#41B1E7" stroke-width="0.8"/>
<line x1="720.3" y1="275.6" x2="714" y2="277" stroke="#6DCCE9" stroke-width="0.8"/>
<line x1="712.3" y1="232.2" x2="707.6" y2="233" stroke="#88CFD4" stroke-width="0.8"/>
<line x1="706.6" y1="186" x2="700.1" y2="186.5" stroke="#8ECFB9" stroke-width="0.8"/>
<line x1="705" y1="143.1" x2="700.3" y2="143" stroke="#8BCC9C" stroke-width="0.8"/>
<line x1="708.7" y1="108.1" x2="702.4" y2="106.6" stroke="#89C980" stroke-width="0.8"/>
<line x1="717.9" y1="85.5" x2="714.1" y2="82.7" stroke="#8AC768" stroke-width="0.8"/>
<line x1="730.6" y1="77.6" x2="729.6" y2="71.2" stroke="#8CC65A" stroke-width="0.8"/>
<line x1="745.1" y1="80.4" x2="746.7" y2="76" stroke="#8CC657" stroke-width="0.8"/>
<line x1="759.9" y1="87.9" x2="763.2" y2="82.2" stroke="#8CC654" stroke-width="0.8"/>
<line x1="774" y1="96.8" x2="776.7" y2="92.9" stroke="#8CC652" stroke-width="0.8"/>
<line x1="787.5" y1="106.8" x2="791.5" y2="101.7" stroke="#8DC751" stroke-width="0.8"/>
<line x1="800.9" y1="117.9" x2="803.9" y2="114.3" stroke="#92C84E" stroke-width="0.8"/>
<line x1="814.1" y1="129.7" x2="818.4" y2="124.9" stroke="#98CA4B" stroke-width="0.8"/>
<line x1="827.2" y1="142" x2="830.5" y2="138.5" stroke="#A6CF48" stroke-width="0.8"/>
<line x1="840.4" y1="154.6" x2="845" y2="150" stroke="#B8D646" stroke-width="0.8"/>
<line x1="853.6" y1="167.5" x2="856.9" y2="164.1" stroke="#D2DE47" stroke-width="0.8"/>
<line x1="866.6" y1="180.3" x2="871.2" y2="175.7" stroke="#ECE64A" stroke-width="0.8"/>
<line x1="879.4" y1="193.1" x2="882.7" y2="189.7" stroke="#F7DD48" stroke-width="0.8"/>
<line x1="891.9" y1="205.4" x2="896.4" y2="200.8" stroke="#F8C742" stroke-width="0.8"/>
<line x1="903.8" y1="217.3" x2="907.1" y2="214" stroke="#F6B844" stroke-width="0.8"/>
<line x1="915" y1="228.4" x2="919.6" y2="223.8" stroke="#F4A846" stroke-width="0.8"/>
<line x1="925.2" y1="238.6" x2="928.5" y2="235.3" stroke="#F29A48" stroke-width="0.8"/>
<line x1="934.1" y1="247.5" x2="938.7" y2="242.9" stroke="#F08D49" stroke-width="0.8"/>
<line x1="941.9" y1="255.3" x2="945.2" y2="251.9" stroke="#EE7C49" stroke-width="0.8"/>
<line x1="948.4" y1="261.7" x2="953" y2="257.1" stroke="#EC6C49" stroke-width="0.8"/>
<line x1="953.7" y1="266.9" x2="957" y2="263.6" stroke="#EA5E4C" stroke-width="0.8"/>
<line x1="957.9" y1="271.1" x2="962.5" y2="266.5" stroke="#E9514E" stroke-width="0.8"/>
<line x1="767.4" y1="382.1" x2="766.7" y2="387" stroke="#6A62AC" stroke-width="0.8"/>
<line x1="767" y1="382.1" x2="767.8" y2="387.1" stroke="#6862AC" stroke-width="0.8"/>
<line x1="766.8" y1="382.1" x2="766.9" y2="387.1" stroke="#6762AC" stroke-width="0.8"/>
<line x1="766.6" y1="382.1" x2="764.2" y2="386.5" stroke="#6663AD" stroke-width="0.8"/>
<line x1="765.7" y1="381.5" x2="762.6" y2="385.3" stroke="#6563AD" stroke-width="0.8"/>
<line x1="764.1" y1="380" x2="760.8" y2="383.7" stroke="#6463AD" stroke-width="0.8"/>
<line x1="761.2" y1="377.5" x2="757.9" y2="381.3" stroke="#5C64AE" stroke-width="0.8"/>
<line x1="759.2" y1="375.7" x2="755.7" y2="379.3" stroke="#5865AE" stroke-width="0.8"/>
<line x1="964" y1="277.2" x2="967.5" y2="273.6" stroke="#E84C52" stroke-width="0.8"/>
<line x1="968.1" y1="281.2" x2="971.6" y2="277.7" stroke="#E84755" stroke-width="0.8"/>
<line x1="970.6" y1="283.8" x2="974.2" y2="280.2" stroke="#E84756" stroke-width="0.8"/>
<line x1="972.1" y1="285.3" x2="975.6" y2="281.7" stroke="#E84657" stroke-width="0.8"/>
<line x1="972.9" y1="286" x2="976.4" y2="282.5" stroke="#E84658" stroke-width="0.8"/>
<line x1="973.4" y1="286.5" x2="976.9" y2="283" stroke="#E84659" stroke-width="0.8"/>
<line x1="973.9" y1="287" x2="977.4" y2="283.5" stroke="#E8455B" stroke-width="0.8"/>
<text x="725.6" y="68.9" text-anchor="middle" style="fill:#8CC653;">520</text>
<text x="801.8" y="100.4" text-anchor="middle" style="fill:#8DC751;">540</text>
<text x="697.8" y="110.5" text-anchor="end" style="fill:#8CCB80;">510</text>
<text x="697.8" y="191.6" text-anchor="end" style="fill:#8FD0B4;">500</text>
<text x="848.9" y="156" text-anchor="start" style="fill:#A6CF45;">560</text>
<text x="896" y="198.9" text-anchor="start" style="fill:#F9AE3C;">580</text>
<text x="937.8" y="240" text-anchor="start" style="fill:#F27B50;">600</text>
<text x="962.2" y="263.3" text-anchor="start" style="fill:#EE4A50;">620</text>
<text x="983.3" y="290.2" text-anchor="start" style="fill:#D93A55;">700</text>
<text x="710" y="285.6" text-anchor="end" style="fill:#74CFEA;">490</text>
<text x="728.2" y="347.3" text-anchor="end" style="fill:#4B86C6;">480</text>
<text x="741.8" y="378.2" text-anchor="end" style="fill:#5D62AA;">460</text>
<text x="775.6" y="390" text-anchor="start" style="fill:#7460AA;">380</text>
<circle cx="808.2" cy="178.9" r="5.6" fill="url(#mCz)"/>
<circle cx="791.1" cy="290.4" r="5.6" fill="url(#mNu)"/>
<circle cx="793.8" cy="311.1" r="5.6" fill="url(#mOA)"/>
<text x="772.2" y="205.6">(0.28, 0.54)</text>
<text x="805.6" y="295.6">(0.23, 0.26)</text>
<text x="805.6" y="316.7">(0.24, 0.20)</text>
<text x="879.2" y="72.6">NaGd<tspan font-size="10" dy="3.2">0.6</tspan><tspan dy="-3.2">F</tspan><tspan font-size="10" dy="3.2">4</tspan><tspan dy="-3.2">:Tb</tspan><tspan font-size="10" dy="3.2">0.4</tspan><tspan dy="-3.2">@ligand</tspan></text>
<text x="904.2" y="98.7">Ligand =</text>
<circle cx="977" cy="93.9" r="5.6" fill="url(#mOA)"/>
<circle cx="977" cy="116.5" r="5.6" fill="url(#mNu)"/>
<circle cx="977" cy="140.1" r="5.6" fill="url(#mCz)"/>
<text x="988.5" y="98.7">OA</text>
<text x="988.5" y="121.5">Null</text>
<text x="988.5" y="145">CzPPOA</text>
<text transform="translate(10,465.7) scale(1.14,1)" style="font-size:14.6px;font-weight:bold;fill:#000;stroke:#000;stroke-width:0.55px;stroke-linejoin:round">c</text>
<line x1="69.5" y1="466.3" x2="508.8" y2="466.3" stroke="#A7A9AC" stroke-width="1"/>
<line x1="508.8" y1="465.8" x2="508.8" y2="792.5" stroke="#B1B3B6" stroke-width="1.4"/>
<line x1="69.5" y1="465.8" x2="69.5" y2="793" stroke="#808285" stroke-width="1.1"/>
<line x1="69" y1="792.5" x2="509.5" y2="792.5" stroke="#6D6E71" stroke-width="1.2"/>
<line x1="69.5" y1="792.5" x2="76.5" y2="792.5" stroke="#58595B" stroke-width="1"/>
<line x1="69.5" y1="751.5" x2="73.1" y2="751.5" stroke="#D1D3D4" stroke-width="0.9"/>
<line x1="69.5" y1="727.5" x2="73.1" y2="727.5" stroke="#58595B" stroke-width="0.9"/>
<line x1="69.5" y1="710.5" x2="73.1" y2="710.5" stroke="#58595B" stroke-width="0.9"/>
<line x1="69.5" y1="697.3" x2="73.1" y2="697.3" stroke="#D1D3D4" stroke-width="0.9"/>
<line x1="69.5" y1="686.5" x2="73.1" y2="686.5" stroke="#58595B" stroke-width="0.9"/>
<line x1="69.5" y1="677.4" x2="73.1" y2="677.4" stroke="#58595B" stroke-width="0.9"/>
<line x1="69.5" y1="669.5" x2="73.1" y2="669.5" stroke="#58595B" stroke-width="0.9"/>
<line x1="69.5" y1="662.5" x2="73.1" y2="662.5" stroke="#58595B" stroke-width="0.9"/>
<text x="40.8" y="799.9">10<tspan dy="-5.8" font-size="10.5">0</tspan></text>
<line x1="69.5" y1="656.3" x2="76.5" y2="656.3" stroke="#58595B" stroke-width="1"/>
<line x1="69.5" y1="615.3" x2="73.1" y2="615.3" stroke="#58595B" stroke-width="0.9"/>
<line x1="69.5" y1="591.3" x2="73.1" y2="591.3" stroke="#58595B" stroke-width="0.9"/>
<line x1="69.5" y1="574.3" x2="73.1" y2="574.3" stroke="#58595B" stroke-width="0.9"/>
<line x1="69.5" y1="561.1" x2="73.1" y2="561.1" stroke="#58595B" stroke-width="0.9"/>
<line x1="69.5" y1="550.3" x2="73.1" y2="550.3" stroke="#58595B" stroke-width="0.9"/>
<line x1="69.5" y1="541.2" x2="73.1" y2="541.2" stroke="#58595B" stroke-width="0.9"/>
<line x1="69.5" y1="533.3" x2="73.1" y2="533.3" stroke="#58595B" stroke-width="0.9"/>
<line x1="69.5" y1="526.3" x2="73.1" y2="526.3" stroke="#58595B" stroke-width="0.9"/>
<text x="40.8" y="663.7">10<tspan dy="-5.8" font-size="10.5">1</tspan></text>
<line x1="69.5" y1="520.1" x2="76.5" y2="520.1" stroke="#A7A9AC" stroke-width="1"/>
<line x1="69.5" y1="479.1" x2="73.1" y2="479.1" stroke="#BCBEC0" stroke-width="0.9"/>
<text x="40.8" y="527.5">10<tspan dy="-5.8" font-size="10.5">2</tspan></text>
<text text-anchor="middle" transform="translate(28.4,628.5) rotate(-90)">Luminance (cd m<tspan dy="-5.4" font-size="10.5">–2</tspan><tspan dy="5.4">)</tspan></text>
<text x="515.7" y="797.2">0</text>
<line x1="505.2" y1="759.9" x2="508.8" y2="759.9" stroke="#414042" stroke-width="1"/>
<line x1="501.8" y1="727.2" x2="508.8" y2="727.2" stroke="#D1D3D4" stroke-width="1"/>
<text x="515.7" y="732">10</text>
<line x1="505.2" y1="694.6" x2="508.8" y2="694.6" stroke="#414042" stroke-width="1"/>
<line x1="501.8" y1="662" x2="508.8" y2="662" stroke="#414042" stroke-width="1"/>
<text x="515.7" y="666.7">20</text>
<line x1="505.2" y1="629.4" x2="508.8" y2="629.4" stroke="#414042" stroke-width="1"/>
<line x1="501.8" y1="596.8" x2="508.8" y2="596.8" stroke="#A7A9AC" stroke-width="1"/>
<text x="515.7" y="601.5">30</text>
<line x1="505.2" y1="564.1" x2="508.8" y2="564.1" stroke="#414042" stroke-width="1"/>
<line x1="501.8" y1="531.5" x2="508.8" y2="531.5" stroke="#E0E1E2" stroke-width="1"/>
<text x="515.7" y="536.2">40</text>
<line x1="505.2" y1="498.9" x2="508.8" y2="498.9" stroke="#414042" stroke-width="1"/>
<text x="515.7" y="470.9">50</text>
<text text-anchor="middle" transform="translate(553.6,629) rotate(-90)"><tspan font-style="italic">J</tspan> (mA cm<tspan dy="-5.4" font-size="10.5">–2</tspan><tspan dy="5.4">)</tspan></text>
<line x1="104.7" y1="792.5" x2="104.7" y2="788.9" stroke="#414042" stroke-width="1"/>
<line x1="149.6" y1="792.5" x2="149.6" y2="786.7" stroke="#D1D3D4" stroke-width="1"/>
<line x1="194.4" y1="792.5" x2="194.4" y2="788.9" stroke="#414042" stroke-width="1"/>
<line x1="239.3" y1="792.5" x2="239.3" y2="786.7" stroke="#414042" stroke-width="1"/>
<text x="239.3" y="810" text-anchor="middle">0</text>
<line x1="284.2" y1="792.5" x2="284.2" y2="788.9" stroke="#D1D3D4" stroke-width="1"/>
<line x1="329.1" y1="792.5" x2="329.1" y2="786.7" stroke="#58595B" stroke-width="1"/>
<text x="329.1" y="810" text-anchor="middle">5</text>
<line x1="373.9" y1="792.5" x2="373.9" y2="788.9" stroke="#414042" stroke-width="1"/>
<line x1="418.8" y1="792.5" x2="418.8" y2="786.7" stroke="#414042" stroke-width="1"/>
<text x="418.8" y="810" text-anchor="middle">10</text>
<line x1="463.7" y1="792.5" x2="463.7" y2="788.9" stroke="#414042" stroke-width="1"/>
<text x="507.9" y="810" text-anchor="middle">15</text>
<text x="289.4" y="828.2" text-anchor="middle">Voltage (V)</text>
<text x="97" y="492.5">NaGd<tspan font-size="10" dy="3.2">0.6</tspan><tspan dy="-3.2">F</tspan><tspan font-size="10" dy="3.2">4</tspan><tspan dy="-3.2">:Tb</tspan><tspan font-size="10" dy="3.2">0.4</tspan><tspan dy="-3.2">@ligand</tspan></text>
<text x="95" y="518">Ligand =</text>
<line x1="160.5" y1="513.7" x2="195.7" y2="513.7" stroke="#C8CF5B" stroke-width="1.3"/>
<rect x="174.3" y="510" width="7.4" height="7.4" fill="#C8CF5B"/>
<text x="202.6" y="518.3">OA</text>
<line x1="160.5" y1="535.9" x2="195.7" y2="535.9" stroke="#5AB54A" stroke-width="1.3"/>
<circle cx="178" cy="535.9" r="4.3" fill="#5AB54A"/>
<text x="202.6" y="540.5">Null</text>
<line x1="160.5" y1="560.6" x2="195.7" y2="560.6" stroke="#0F7842" stroke-width="1.3"/>
<path d="M178 555.7L183.5 565.1L172.5 565.1Z" fill="#0F7842"/>
<text x="202.6" y="565.2">CzPPOA</text>
<path d="M87.5 719.6L87.5 617.1L88.6 631.7L90 648.3L92.1 663.6L94.2 678.9L96.3 692.8L98.4 701.1L101.1 706.7L104.6 710.1L108.1 711.9L109.7 712.2L111.1 711.3L111.9 711.6L112.9 712.9L117.8 714.3L126.1 716.4L133.1 718.5L137.2 720.3L140 718.5L144.2 712.2L148.4 703.9L151.1 698.3L151.1 719.6Z" fill="url(#sp0)"/>
<path d="M87.5 617.1L88.6 631.7L90 648.3L92.1 663.6L94.2 678.9L96.3 692.8L98.4 701.1L101.1 706.7L104.6 710.1L108.1 711.9L109.7 712.2L111.1 711.3L111.9 711.6L112.9 712.9L117.8 714.3L126.1 716.4L133.1 718.5L137.2 720.3L140 718.5L144.2 712.2L148.4 703.9L151.1 698.3" fill="none" stroke="#8DC46A" stroke-width="0.6" stroke-opacity="0.75"/>
<path d="M154.3 719.6L154.3 605.3L155.7 624.7L157.1 642.8L159.2 659.4L161.3 673.3L163.3 685.8L165.4 695.6L167.2 701.1L168.9 702.5L171 705.3L174.4 706.7L176.5 705.3L177.3 701.5L178.3 694.9L179.2 702L180 706.7L182.8 710.8L185.1 709.2L187.6 712.2L191.1 712.9L195.3 717.1L199.4 719.4L205 717.8L210.6 712.9L214.7 705.3L217.5 692.8L217.5 719.6Z" fill="url(#sp1)"/>
<path d="M154.3 605.3L155.7 624.7L157.1 642.8L159.2 659.4L161.3 673.3L163.3 685.8L165.4 695.6L167.2 701.1L168.9 702.5L171 705.3L174.4 706.7L176.5 705.3L177.3 701.5L178.3 694.9L179.2 702L180 706.7L182.8 710.8L185.1 709.2L187.6 712.2L191.1 712.9L195.3 717.1L199.4 719.4L205 717.8L210.6 712.9L214.7 705.3L217.5 692.8" fill="none" stroke="#6DBB6A" stroke-width="0.6" stroke-opacity="0.75"/>
<path d="M221.3 719.6L221.3 718.6L224.6 718L228 716.8L230.5 715.6L232.7 714.6L234.2 712L235.2 703L235.8 694L236.3 691.2L236.8 694L237.5 704L238.3 713.5L239.7 716.6L242.2 717.2L243.2 716L243.8 708L244.4 676L245 628L245.3 598L245.6 595L245.9 628L246.5 672L247.1 702L247.7 711L248.4 713.5L250 714.5L251 711L251.9 704.5L252.4 703.6L252.9 705L253.7 712L254.7 715.8L256.4 716.4L257.4 713.5L258 711.2L258.7 713.5L259.7 717L262.2 718.2L263.9 717.4L266.1 717.8L268.1 717L269.7 718.2L274.7 718.8L281.4 719L284.8 719.2L284.8 719.6Z" fill="url(#sp3)"/>
<path d="M221.3 718.6L224.6 718L228 716.8L230.5 715.6L232.7 714.6L234.2 712L235.2 703L235.8 694L236.3 691.2L236.8 694L237.5 704L238.3 713.5L239.7 716.6L242.2 717.2L243.2 716L243.8 708L244.4 676L245 628L245.3 598L245.6 595L245.9 628L246.5 672L247.1 702L247.7 711L248.4 713.5L250 714.5L251 711L251.9 704.5L252.4 703.6L252.9 705L253.7 712L254.7 715.8L256.4 716.4L257.4 713.5L258 711.2L258.7 713.5L259.7 717L262.2 718.2L263.9 717.4L266.1 717.8L268.1 717L269.7 718.2L274.7 718.8L281.4 719L284.8 719.2" fill="none" stroke="#3DA85A" stroke-width="0.6" stroke-opacity="0.75"/>
<line x1="87.5" y1="727.3" x2="288.9" y2="727.3" stroke="#414042" stroke-width="1.1"/>
<line x1="87.5" y1="727.3" x2="87.5" y2="721.7" stroke="#414042" stroke-width="1"/>
<line x1="104.2" y1="727.3" x2="104.2" y2="723.1" stroke="#414042" stroke-width="1"/>
<line x1="120.9" y1="727.3" x2="120.9" y2="721.7" stroke="#414042" stroke-width="1"/>
<line x1="137.6" y1="727.3" x2="137.6" y2="723.1" stroke="#414042" stroke-width="1"/>
<line x1="154.3" y1="727.3" x2="154.3" y2="721.7" stroke="#414042" stroke-width="1"/>
<line x1="171" y1="727.3" x2="171" y2="723.1" stroke="#414042" stroke-width="1"/>
<line x1="187.7" y1="727.3" x2="187.7" y2="721.7" stroke="#414042" stroke-width="1"/>
<line x1="204.4" y1="727.3" x2="204.4" y2="723.1" stroke="#414042" stroke-width="1"/>
<line x1="221.1" y1="727.3" x2="221.1" y2="721.7" stroke="#414042" stroke-width="1"/>
<line x1="238" y1="727.3" x2="238" y2="723.1" stroke="#414042" stroke-width="1"/>
<line x1="254.7" y1="727.3" x2="254.7" y2="721.7" stroke="#414042" stroke-width="1"/>
<line x1="271.4" y1="727.3" x2="271.4" y2="723.1" stroke="#414042" stroke-width="1"/>
<line x1="288.1" y1="727.3" x2="288.1" y2="721.7" stroke="#414042" stroke-width="1"/>
<line x1="288.7" y1="727.3" x2="288.7" y2="721.7" stroke="#414042" stroke-width="1"/>
<text x="87.5" y="746" text-anchor="middle">400</text>
<text x="120.7" y="746" text-anchor="middle">600</text>
<text x="154.3" y="746" text-anchor="middle">800</text>
<text x="187.6" y="746" text-anchor="middle">600</text>
<text x="221.3" y="746" text-anchor="middle">800</text>
<text x="254.8" y="746" text-anchor="middle">600</text>
<text x="288.4" y="746" text-anchor="middle">800</text>
<text x="188" y="768" text-anchor="middle">Wavelength (nm)</text>
<text x="111.3" y="678.8">Tb<tspan dy="-5.8" font-size="10.5">3+</tspan></text>
<text x="185.5" y="665.8">Tb<tspan dy="-5.8" font-size="10.5">3+</tspan></text>
<line x1="112.6" y1="705.2" x2="116.9" y2="688.7" stroke="#000" stroke-width="1.2"/><path d="M118 684.3L118.79 691.22L116.67 689.46L113.95 689.97Z" fill="#000"/>
<line x1="188.8" y1="692.5" x2="192.7" y2="676.4" stroke="#000" stroke-width="1.2"/><path d="M193.8 672L194.69 678.91L192.54 677.18L189.83 677.72Z" fill="#000"/>
<line x1="242" y1="676.3" x2="219.3" y2="665" stroke="#000" stroke-width="1.2"/><path d="M215.2 663L222.13 663.65L219.97 665.37L219.91 668.13Z" fill="#000"/>
<line x1="111" y1="705" x2="114.2" y2="705.6" stroke="#000" stroke-width="1.1"/>
<line x1="187" y1="692" x2="190.6" y2="692.9" stroke="#000" stroke-width="1.1"/>
<ellipse cx="110" cy="712.2" rx="6.6" ry="6.2" fill="none" stroke="#000" stroke-width="1.1" stroke-dasharray="3.2 2.2"/>
<ellipse cx="182.6" cy="705.6" rx="16" ry="14.2" fill="none" stroke="#000" stroke-width="1.1" stroke-dasharray="3.6 2.4"/>
<g clip-path="url(#cclip)"><polyline points="346.7,791.4 364.5,790.8 382.6,789.7 401.1,786.5 418.7,782.3 436.3,779.3 454.4,775.4" fill="none" stroke="#C8CF5B" stroke-width="1.25"/><polyline points="352,793 364.5,775.8 382.6,761.9 401.1,756.2 418.7,754.3 436.3,753.6 454.4,753.1" fill="none" stroke="#C8CF5B" stroke-width="1.25"/><rect x="343.5" y="788.2" width="6.4" height="6.4" fill="#fff" stroke="#C8CF5B" stroke-width="1.2"/><rect x="361.3" y="787.6" width="6.4" height="6.4" fill="#fff" stroke="#C8CF5B" stroke-width="1.2"/><rect x="379.4" y="786.5" width="6.4" height="6.4" fill="#fff" stroke="#C8CF5B" stroke-width="1.2"/><rect x="397.9" y="783.3" width="6.4" height="6.4" fill="#fff" stroke="#C8CF5B" stroke-width="1.2"/><rect x="415.5" y="779.1" width="6.4" height="6.4" fill="#fff" stroke="#C8CF5B" stroke-width="1.2"/><rect x="433.1" y="776.1" width="6.4" height="6.4" fill="#fff" stroke="#C8CF5B" stroke-width="1.2"/><rect x="451.2" y="772.2" width="6.4" height="6.4" fill="#fff" stroke="#C8CF5B" stroke-width="1.2"/><rect x="360.6" y="771.9" width="7.8" height="7.8" fill="#C8CF5B"/><rect x="378.7" y="758" width="7.8" height="7.8" fill="#C8CF5B"/><rect x="397.2" y="752.3" width="7.8" height="7.8" fill="#C8CF5B"/><rect x="414.8" y="750.4" width="7.8" height="7.8" fill="#C8CF5B"/><rect x="432.4" y="749.7" width="7.8" height="7.8" fill="#C8CF5B"/><rect x="450.5" y="749.2" width="7.8" height="7.8" fill="#C8CF5B"/><polyline points="375.2,793 382.6,768.9 401.1,740 418.7,722.6 436.3,708.7 454.4,696.2 472.4,685.1 490.5,675.8 507.6,666.6" fill="none" stroke="#5AB54A" stroke-width="1.25"/><polyline points="364.5,788.6 382.6,786.7 401.1,780.9 418.7,771.2 436.3,756.9 454.4,731.2 472.4,686.7 490.5,612.9 507.6,494.8" fill="none" stroke="#5AB54A" stroke-width="1.25"/><polyline points="313.1,790.9 331,789.7 348.8,785.6 366.9,776.3 384.4,751.5" fill="none" stroke="#0F7842" stroke-width="1.25"/><polyline points="313.1,734.2 331,600.4 348.8,537.9 366.9,511.9 384.4,499.4" fill="none" stroke="#0F7842" stroke-width="1.25"/><path d="M313.1 786.4L317.9 794.8L308.3 794.8Z" fill="#fff" stroke="#0F7842" stroke-width="1.2" stroke-linejoin="miter"/><path d="M331 785.2L335.8 793.6L326.2 793.6Z" fill="#fff" stroke="#0F7842" stroke-width="1.2" stroke-linejoin="miter"/><path d="M348.8 781.1L353.6 789.5L344 789.5Z" fill="#fff" stroke="#0F7842" stroke-width="1.2" stroke-linejoin="miter"/><path d="M366.9 771.8L371.7 780.2L362.1 780.2Z" fill="#fff" stroke="#0F7842" stroke-width="1.2" stroke-linejoin="miter"/><path d="M384.4 747L389.2 755.4L379.6 755.4Z" fill="#fff" stroke="#0F7842" stroke-width="1.2" stroke-linejoin="miter"/><circle cx="382.6" cy="768.9" r="4.4" fill="#5AB54A"/><circle cx="401.1" cy="740" r="4.4" fill="#5AB54A"/><circle cx="418.7" cy="722.6" r="4.4" fill="#5AB54A"/><circle cx="436.3" cy="708.7" r="4.4" fill="#5AB54A"/><circle cx="454.4" cy="696.2" r="4.4" fill="#5AB54A"/><circle cx="472.4" cy="685.1" r="4.4" fill="#5AB54A"/><circle cx="490.5" cy="675.8" r="4.4" fill="#5AB54A"/><circle cx="507.6" cy="666.6" r="4.4" fill="#5AB54A"/><circle cx="364.5" cy="788.6" r="3.6" fill="#fff" stroke="#5AB54A" stroke-width="1.2"/><circle cx="382.6" cy="786.7" r="3.6" fill="#fff" stroke="#5AB54A" stroke-width="1.2"/><circle cx="401.1" cy="780.9" r="3.6" fill="#fff" stroke="#5AB54A" stroke-width="1.2"/><circle cx="418.7" cy="771.2" r="3.6" fill="#fff" stroke="#5AB54A" stroke-width="1.2"/><circle cx="436.3" cy="756.9" r="3.6" fill="#fff" stroke="#5AB54A" stroke-width="1.2"/><circle cx="454.4" cy="731.2" r="3.6" fill="#fff" stroke="#5AB54A" stroke-width="1.2"/><circle cx="472.4" cy="686.7" r="3.6" fill="#fff" stroke="#5AB54A" stroke-width="1.2"/><circle cx="490.5" cy="612.9" r="3.6" fill="#fff" stroke="#5AB54A" stroke-width="1.2"/><circle cx="507.6" cy="494.8" r="3.6" fill="#fff" stroke="#5AB54A" stroke-width="1.2"/><path d="M313.1 729.3L318.5 738.7L307.7 738.7Z" fill="#0F7842"/><path d="M331 595.5L336.4 604.9L325.6 604.9Z" fill="#0F7842"/><path d="M348.8 533L354.2 542.4L343.4 542.4Z" fill="#0F7842"/><path d="M366.9 507L372.3 516.4L361.5 516.4Z" fill="#0F7842"/><path d="M384.4 494.5L389.8 503.9L379 503.9Z" fill="#0F7842"/></g>
<line x1="388" y1="498.4" x2="441" y2="498.4" stroke="#231F20" stroke-width="1"/>
<line x1="436.3" y1="750" x2="436.3" y2="503" stroke="#000" stroke-width="1.3" stroke-dasharray="4.2 3.2"/>
<path d="M436.3 499L438.9 505.5L436.3 504.52L433.7 505.5Z" fill="#000"/>
<text x="408" y="632">×71</text>
<text transform="translate(580.5,465.7) scale(1.14,1)" style="font-size:14.6px;font-weight:bold;fill:#000;stroke:#000;stroke-width:0.55px;stroke-linejoin:round">d</text>
<line x1="629.8" y1="466.1" x2="629.8" y2="793" stroke="#808285" stroke-width="1.3"/>
<line x1="629.2" y1="792.4" x2="1069" y2="792.4" stroke="#6D6E71" stroke-width="1.2"/>
<line x1="629.8" y1="748.7" x2="634" y2="748.7" stroke="#58595B" stroke-width="1"/>
<line x1="629.8" y1="704.4" x2="636.8" y2="704.4" stroke="#C7C8CA" stroke-width="1"/>
<line x1="629.8" y1="660.1" x2="634" y2="660.1" stroke="#A7A9AC" stroke-width="1"/>
<line x1="629.8" y1="615.8" x2="636.8" y2="615.8" stroke="#414042" stroke-width="1"/>
<line x1="629.8" y1="571.5" x2="634" y2="571.5" stroke="#D1D3D4" stroke-width="1"/>
<line x1="629.8" y1="527.2" x2="636.8" y2="527.2" stroke="#808285" stroke-width="1"/>
<line x1="629.8" y1="482.9" x2="634" y2="482.9" stroke="#808285" stroke-width="1"/>
<text x="622.6" y="797" text-anchor="end">0</text>
<text x="622.6" y="708.8" text-anchor="end">2</text>
<text x="622.6" y="620.2" text-anchor="end">4</text>
<text x="622.6" y="531.6" text-anchor="end">6</text>
<text text-anchor="middle" transform="translate(601.5,630) rotate(-90)">EQE (%)</text>
<line x1="804.9" y1="792.4" x2="804.9" y2="788.8" stroke="#414042" stroke-width="1"/>
<text x="630.3" y="813.8" text-anchor="middle">10<tspan dy="-5.8" font-size="10.5">0</tspan></text>
<line x1="813.3" y1="792.4" x2="813.3" y2="786" stroke="#414042" stroke-width="1"/>
<line x1="868.5" y1="792.4" x2="868.5" y2="788.8" stroke="#414042" stroke-width="1"/>
<line x1="900.9" y1="792.4" x2="900.9" y2="788.8" stroke="#58595B" stroke-width="1"/>
<line x1="923.8" y1="792.4" x2="923.8" y2="788.8" stroke="#D1D3D4" stroke-width="1"/>
<line x1="941.6" y1="792.4" x2="941.6" y2="788.8" stroke="#BCBEC0" stroke-width="1"/>
<line x1="956.1" y1="792.4" x2="956.1" y2="788.8" stroke="#D1D3D4" stroke-width="1"/>
<line x1="968.4" y1="792.4" x2="968.4" y2="788.8" stroke="#C7C8CA" stroke-width="1"/>
<line x1="979" y1="792.4" x2="979" y2="788.8" stroke="#414042" stroke-width="1"/>
<line x1="988.4" y1="792.4" x2="988.4" y2="788.8" stroke="#414042" stroke-width="1"/>
<text x="813.8" y="813.8" text-anchor="middle">10<tspan dy="-5.8" font-size="10.5">1</tspan></text>
<line x1="996.8" y1="792.4" x2="996.8" y2="786" stroke="#A7A9AC" stroke-width="1"/>
<line x1="1052" y1="792.4" x2="1052" y2="788.8" stroke="#414042" stroke-width="1"/>
<text x="997.3" y="813.8" text-anchor="middle">10<tspan dy="-5.8" font-size="10.5">2</tspan></text>
<text x="849.3" y="836.8" text-anchor="middle">Luminance (cd m<tspan dy="-5.4" font-size="10.5">–2</tspan><tspan dy="5.4">)</tspan></text>
<text x="876.3" y="492.8">NaGd<tspan font-size="10" dy="3.2">0.6</tspan><tspan dy="-3.2">F</tspan><tspan font-size="10" dy="3.2">4</tspan><tspan dy="-3.2">:Tb</tspan><tspan font-size="10" dy="3.2">0.4</tspan><tspan dy="-3.2">@ligand</tspan></text>
<text x="882.8" y="518.2">Ligand =</text>
<line x1="948.8" y1="513.4" x2="984.2" y2="513.4" stroke="#C8CF5B" stroke-width="1.3"/>
<rect x="962.3" y="509.7" width="7.4" height="7.4" fill="#C8CF5B"/>
<text x="990.4" y="518.5">OA</text>
<line x1="948.8" y1="536" x2="984.2" y2="536" stroke="#5AB54A" stroke-width="1.3"/>
<circle cx="966" cy="536" r="4.3" fill="#5AB54A"/>
<text x="990.4" y="541.1">Null</text>
<line x1="948.8" y1="560.8" x2="984.2" y2="560.8" stroke="#0F7842" stroke-width="1.3"/>
<path d="M966 555.9L971.5 565.3L960.5 565.3Z" fill="#0F7842"/>
<text x="990.4" y="565.9">CzPPOA</text>
<line x1="629.8" y1="530.9" x2="706" y2="530.9" stroke="#414042" stroke-width="1.2"/>
<polyline points="708,531.4 886,545.3 971.2,597.4 1005.9,671.3 1022.6,733.3" fill="none" stroke="#0F7842" stroke-width="1.3"/>
<path d="M708 526.2L713.5 535.8L702.5 535.8Z" fill="#0F7842"/>
<path d="M886 540.1L891.5 549.7L880.5 549.7Z" fill="#0F7842"/>
<path d="M971.2 592.2L976.7 601.8L965.7 601.8Z" fill="#0F7842"/>
<path d="M1005.9 666.1L1011.4 675.7L1000.4 675.7Z" fill="#0F7842"/>
<path d="M1022.6 728.1L1028.1 737.7L1017.1 737.7Z" fill="#0F7842"/>
<line x1="629.8" y1="774.3" x2="659.4" y2="774.3" stroke="#58595B" stroke-width="1"/>
<polyline points="629.8,774.5 652.9,779.8 671.4,784.7 678.4,787.7 681.9,789.3" fill="none" stroke="#C8CF5B" stroke-width="1.3"/>
<polyline points="629.8,790.4 661.5,789.4 700.8,789.8 724.4,790.6 743.4,791.2 760.1,791.6 775.6,792 787.2,792.1 799.4,792.2" fill="none" stroke="#5AB54A" stroke-width="1.3"/>
<rect x="649.2" y="776.1" width="7.4" height="7.4" fill="#C8CF5B"/>
<rect x="667.7" y="781" width="7.4" height="7.4" fill="#C8CF5B"/>
<rect x="674.7" y="784" width="7.4" height="7.4" fill="#C8CF5B"/>
<rect x="678.2" y="785.6" width="7.4" height="7.4" fill="#C8CF5B"/>
<g clip-path="url(#dclip)"><circle cx="661.5" cy="789.4" r="4.1" fill="#5AB54A"/><circle cx="700.8" cy="789.8" r="4.1" fill="#5AB54A"/><circle cx="724.4" cy="790.6" r="4.1" fill="#5AB54A"/><circle cx="743.4" cy="791.2" r="4.1" fill="#5AB54A"/><circle cx="760.1" cy="791.6" r="4.1" fill="#5AB54A"/><circle cx="775.6" cy="792" r="4.1" fill="#5AB54A"/><circle cx="787.2" cy="792.1" r="4.1" fill="#5AB54A"/><circle cx="799.4" cy="792.2" r="4.1" fill="#5AB54A"/></g>
<line x1="646.4" y1="773.5" x2="646.4" y2="538" stroke="#000" stroke-width="1.6" stroke-dasharray="4.4 2.8"/>
<path d="M646.4 532.3L649.1 539.1L646.4 538.08L643.7 539.1Z" fill="#000"/>
<line x1="692.5" y1="790" x2="692.5" y2="538" stroke="#000" stroke-width="1.6" stroke-dasharray="4.4 2.8"/>
<path d="M692.5 532.3L695.2 539.1L692.5 538.08L689.8 539.1Z" fill="#000"/>
<text x="651.3" y="648.3">×12</text>
<text x="698" y="648.3">×76</text>
<text transform="translate(10,866.1) scale(1.14,1)" style="font-size:14.6px;font-weight:bold;fill:#000;stroke:#000;stroke-width:0.55px;stroke-linejoin:round">e</text>
<g clip-path="url(#eclip)"><rect x="69.3" y="868.3" width="437.3" height="167.20000000000005" fill="#1F2A60"/><path d="M70 874L70 923L84 919L102 911L128 901L185 890L185 879L128 880L102 879L84 876Z" fill="url(#eg1)" filter="url(#eb3)"/><path d="M71 882L71 920L79 914L86 902L79 890Z" fill="#5CD0EE" fill-opacity="0.65" filter="url(#eb15)"/><path d="M70 933L70 979L82 973L96 966L112 962L140 960L140 952L112 950.5L96 946L82 939Z" fill="url(#eg2)" filter="url(#eb3)"/><path d="M71 941L71 972L78 965L85 957L78 949Z" fill="#63D2E6" fill-opacity="0.7" filter="url(#eb15)"/><path d="M71 946L71 967L76 962L81 956.5L76 951Z" fill="#B6E07A" fill-opacity="0.9" filter="url(#eb1)"/><rect x="80" y="952.8" width="145" height="1.8" fill="url(#es1)" filter="url(#eb05)"/><rect x="80" y="958.4" width="145" height="2" fill="url(#es1)" filter="url(#eb05)"/><rect x="72" y="1007.7" width="436" height="1.8" fill="url(#el1)" filter="url(#eb05)"/><rect x="72" y="1014.3" width="436" height="1.9" fill="url(#el2)" filter="url(#eb05)"/><rect x="72" y="1003" width="148" height="1.5" fill="url(#el3)" filter="url(#eb05)"/><rect x="72" y="999.4" width="58" height="1.3" fill="url(#el4)" filter="url(#eb05)"/><rect x="70.4" y="877" width="2.6" height="47" fill="url(#ev1)" filter="url(#eb05)"/><rect x="70.4" y="929" width="2.6" height="51" fill="url(#ev2)" filter="url(#eb05)"/><rect x="70.4" y="996" width="2.6" height="38" fill="url(#ev3)" filter="url(#eb05)"/><path d="M77.6 904.5C78.9 906.8 82.6 913.5 85.8 918.2C88.9 922.9 93.1 928.6 96.7 932.8C100.4 937.1 104 940.6 107.7 943.8C111.4 947.1 114.9 949.5 119 952.3C123.2 955.1 127.8 957.9 132.7 960.5C137.7 963.2 143.6 965.8 148.6 968C153.6 970.2 157.8 972 162.7 973.8C167.7 975.5 172.4 976.9 178.2 978.7C184.1 980.5 190.8 982.6 197.7 984.5C204.6 986.4 211.1 988.1 219.7 990.1C228.4 992.1 238.1 994.5 249.8 996.5C261.4 998.4 276.5 1000.3 289.8 1001.8C303.2 1003.3 317.4 1004.4 329.9 1005.2C342.4 1006.1 355.6 1006.6 364.9 1007C374.3 1007.5 382.4 1007.6 385.9 1007.7L386.1 1003.1C382.6 1003 374.4 1002.9 365.1 1002.6C355.8 1002.2 342.6 1001.9 330.1 1001.2C317.6 1000.4 303.5 999.5 290.2 998.2C276.9 996.9 261.9 995.3 250.2 993.5C238.6 991.8 228.9 989.5 220.3 987.7C211.6 985.8 205.2 984.3 198.3 982.5C191.4 980.7 184.6 978.6 178.8 976.9C172.9 975.2 168.2 973.9 163.3 972.2C158.3 970.5 154.2 968.9 149.2 966.8C144.2 964.6 138.2 962 133.3 959.5C128.3 956.9 123.7 954.2 119.6 951.5C115.4 948.8 112 946.4 108.3 943.2C104.6 940 100.9 936.6 97.3 932.4C93.6 928.1 89.5 922.5 86.2 917.8C83 913.1 79.4 906.5 78 904.3Z" fill="#E9F1DE"/><path d="M398.6 1005.6L383.2 999.4L386.4 1005.5L383.4 1011.6Z" fill="#E9F1DE"/></g>
<text x="92.8" y="889.5" style="fill:#fff">NaGd<tspan font-size="10" dy="3.2">0.6</tspan><tspan dy="-3.2">F</tspan><tspan font-size="10" dy="3.2">4</tspan><tspan dy="-3.2">:Tb</tspan><tspan font-size="10" dy="3.2">0.4</tspan><tspan dy="-3.2">@ligand</tspan></text>
<text x="493" y="889.5" text-anchor="end" style="fill:#fff;">Ligand = OA</text>
<text x="493" y="943.8" text-anchor="end" style="fill:#fff;">Null</text>
<text x="493" y="997.5" text-anchor="end" style="fill:#fff;">CzPPOA</text>
<line x1="68.8" y1="868.3" x2="507.1" y2="868.3" stroke="#6D6E71" stroke-width="1"/>
<line x1="507.5" y1="868.3" x2="507.5" y2="1035.5" stroke="#9EA0A8" stroke-width="2.0"/>
<line x1="69.6" y1="869.3" x2="69.6" y2="1035.5" stroke="#F4F4EF" stroke-width="1.5"/>
<line x1="68.7" y1="868.3" x2="68.7" y2="1035.5" stroke="#808285" stroke-width="0.9"/>
<line x1="69" y1="881.5" x2="73.9" y2="881.5" stroke="#000" stroke-width="0.9"/>
<line x1="69" y1="892.3" x2="73.9" y2="892.3" stroke="#000" stroke-width="0.9"/>
<line x1="69" y1="916.3" x2="73.9" y2="916.3" stroke="#000" stroke-width="0.9"/>
<line x1="69" y1="924.4" x2="73.9" y2="924.4" stroke="#000" stroke-width="0.9"/>
<line x1="69" y1="935.8" x2="73.9" y2="935.8" stroke="#000" stroke-width="0.9"/>
<line x1="69" y1="947.4" x2="73.9" y2="947.4" stroke="#000" stroke-width="0.9"/>
<line x1="69" y1="970.4" x2="73.9" y2="970.4" stroke="#000" stroke-width="0.9"/>
<line x1="69" y1="980" x2="73.9" y2="980" stroke="#000" stroke-width="0.9"/>
<line x1="69" y1="991.5" x2="73.9" y2="991.5" stroke="#000" stroke-width="0.9"/>
<line x1="69" y1="1003" x2="73.9" y2="1003" stroke="#000" stroke-width="0.9"/>
<line x1="69" y1="1026.3" x2="73.9" y2="1026.3" stroke="#000" stroke-width="0.9"/>
<line x1="178.6" y1="1035.5" x2="178.6" y2="1031.3" stroke="#000" stroke-width="1"/>
<line x1="288.3" y1="1035.5" x2="288.3" y2="1031.3" stroke="#000" stroke-width="1"/>
<line x1="398.3" y1="1035.5" x2="398.3" y2="1031.3" stroke="#000" stroke-width="1"/>
<text x="61.9" y="873.6" text-anchor="end">800</text>
<text x="61.9" y="896.8" text-anchor="end">600</text>
<text x="61.9" y="920.5" text-anchor="end">400</text>
<text x="61.9" y="936.2" text-anchor="end">800</text>
<text x="61.9" y="952" text-anchor="end">600</text>
<text x="61.9" y="975.6" text-anchor="end">400</text>
<text x="61.9" y="990.8" text-anchor="end">800</text>
<text x="61.9" y="1008" text-anchor="end">600</text>
<text x="61.9" y="1031.3" text-anchor="end">400</text>
<text text-anchor="middle" transform="translate(25.2,951.3) rotate(-90)">Wavelength (nm)</text>
<g clip-path="url(#e2clip)"><polyline points="70.4,1151.7 70.4,1181.8 71.1,1148.3 71.1,1121.5 71.8,1093.3 71.8,1097.4 72.5,1070.3 72.5,1067.8 73.2,1050.2 73.2,1051.1 73.9,1053.9 73.9,1051.7 74.6,1080.3 74.6,1082.4 75.3,1106.8 75.3,1096.2 76,1105.5 76,1113.7 76.7,1121.5 76.7,1112.3 77.4,1116.9 77.4,1127.7 78.1,1128.8 78.1,1122.3 78.8,1124.8 78.8,1131.1 79.5,1136.9 79.5,1126.7 80.2,1124.8 80.2,1142.9 80.9,1136.9 80.9,1129.9 81.6,1132.4 81.6,1145.4 82.3,1140.7 82.3,1127.7 83,1129.9 83,1148.3 83.7,1151.7 83.7,1127.7 84.4,1129.9 84.4,1151.7 85.1,1155.9 85.1,1133.8 85.8,1136.9 85.8,1145.4 86.5,1161.2 86.5,1135.3 87.2,1138.7 87.2,1161.2 87.9,1161.2 87.9,1142.9 88.6,1140.7 88.6,1161.2 89.3,1168.8 89.3,1136.9 90,1138.7 90,1161.2 90.7,1161.2 90.7,1136.9 91.4,1138.7 91.4,1161.2 92.1,1181.8 92.1,1142.9 92.8,1145.4 92.8,1151.7 93.5,1168.8 93.5,1145.4 94.2,1148.3 94.2,1161.2 94.9,1181.8 94.9,1148.3 95.6,1145.4 95.6,1161.2 96.3,1168.8 96.3,1145.4 97,1151.7 97,1181.8 97.7,1181.8 97.7,1148.3 98.4,1142.9 98.4,1181.8 99.1,1181.8 99.1,1140.7 99.8,1155.9 99.8,1168.8 100.5,1181.8 100.5,1145.4 101.2,1151.7 101.2,1181.8 101.9,1181.8 101.9,1155.9 102.6,1161.2 102.6,1181.8 103.3,1181.8 103.3,1148.3 104,1155.9 104,1181.8 104.7,1181.8 104.7,1155.9 105.4,1155.9 105.4,1181.8 106.1,1181.8 106.1,1161.2 106.8,1148.3 106.8,1181.8 107.5,1181.8 107.5,1155.9 108.2,1151.7 108.2,1181.8 108.9,1181.8 108.9,1151.7 109.6,1151.7 109.6,1181.8 110.3,1181.8 110.3,1161.2 111,1155.9 111,1181.8 111.7,1181.8 111.7,1151.7 112.4,1151.7 112.4,1181.8 113.1,1181.8 113.1,1161.2 113.8,1151.7 113.8,1181.8 114.5,1181.8 114.5,1161.2 115.2,1168.8 115.2,1181.8 115.9,1181.8 115.9,1161.2 116.6,1155.9 116.6,1181.8 117.3,1181.8 117.3,1155.9 118,1161.2 118,1181.8 118.7,1181.8 118.7,1168.8 119.4,1168.8 119.4,1181.8 120.1,1181.8 120.1,1161.2 120.8,1161.2 120.8,1181.8 121.5,1181.8 121.5,1168.8 122.2,1161.2 122.2,1181.8 122.9,1181.8 122.9,1155.9 123.6,1168.8 123.6,1181.8 124.3,1181.8 124.3,1168.8 125,1181.8 125,1181.8 125.7,1181.8 125.7,1161.2 126.4,1161.2 126.4,1181.8 127.1,1181.8 127.1,1181.8 127.8,1168.8 127.8,1181.8 128.5,1181.8 128.5,1168.8 129.2,1161.2 129.2,1181.8 129.9,1181.8 129.9,1151.7 130.6,1161.2 130.6,1181.8 131.3,1181.8 131.3,1168.8 132,1168.8 132,1181.8 132.7,1181.8 132.7,1168.8 133.4,1161.2 133.4,1181.8 134.1,1181.8 134.1,1161.2 134.8,1181.8 134.8,1181.8 135.5,1181.8 135.5,1161.2 136.2,1168.8 136.2,1181.8 136.9,1181.8 136.9,1161.2 137.6,1181.8 137.6,1181.8 138.3,1181.8 138.3,1168.8 139,1181.8 139,1181.8 139.7,1181.8 139.7,1168.8 140.4,1181.8 140.4,1181.8 141.1,1181.8 141.1,1168.8 141.8,1168.8 141.8,1181.8 142.5,1181.8 142.5,1168.8 143.2,1161.2 143.2,1181.8 143.9,1181.8 143.9,1181.8 144.6,1168.8 144.6,1181.8 145.3,1181.8 145.3,1181.8 146,1181.8 146,1181.8 146.7,1181.8 146.7,1168.8 147.4,1155.9 147.4,1181.8 148.1,1181.8 148.1,1181.8 148.8,1181.8 148.8,1181.8 149.5,1181.8 149.5,1168.8 150.2,1181.8 150.2,1181.8 150.9,1181.8 150.9,1168.8 151.6,1161.2 151.6,1181.8 152.3,1181.8 152.3,1168.8 153,1181.8 153,1181.8 153.7,1181.8 153.7,1181.8 154.4,1181.8 154.4,1181.8 155.1,1181.8 155.1,1181.8 155.8,1181.8 155.8,1181.8 156.5,1181.8 156.5,1181.8 157.2,1168.8 157.2,1181.8 157.9,1181.8 157.9,1168.8 158.6,1168.8 158.6,1181.8 159.3,1181.8 159.3,1181.8 160,1181.8 160,1181.8 160.7,1181.8 160.7,1181.8 161.4,1168.8 161.4,1181.8 162.1,1181.8 162.1,1168.8 162.8,1181.8 162.8,1181.8 163.5,1181.8 163.5,1168.8 164.2,1168.8 164.2,1181.8 164.9,1181.8 164.9,1181.8 165.6,1181.8 165.6,1181.8 166.3,1181.8 166.3,1181.8 167,1181.8 167,1181.8 167.7,1181.8 167.7,1181.8 168.4,1181.8 168.4,1181.8 169.1,1181.8 169.1,1181.8 169.8,1181.8 169.8,1181.8 170.5,1181.8 170.5,1181.8 171.2,1181.8 171.2,1181.8 171.9,1181.8 171.9,1181.8 172.6,1181.8 172.6,1181.8 173.3,1181.8 173.3,1181.8 174,1181.8 174,1181.8 174.7,1181.8 174.7,1181.8 175.4,1181.8 175.4,1181.8 176.1,1181.8 176.1,1168.8 176.8,1181.8 176.8,1181.8 177.5,1181.8 177.5,1181.8 178.2,1181.8 178.2,1181.8 178.9,1181.8 178.9,1181.8 179.6,1181.8 179.6,1181.8 180.3,1181.8 180.3,1181.8 181,1181.8 181,1181.8 181.7,1181.8 181.7,1181.8 182.4,1181.8 182.4,1181.8 183.1,1181.8 183.1,1181.8 183.8,1181.8 183.8,1181.8 184.5,1181.8 184.5,1168.8 185.2,1168.8 185.2,1181.8 185.9,1181.8 185.9,1181.8 186.6,1181.8 186.6,1181.8 187.3,1181.8 187.3,1181.8 188,1181.8 188,1181.8 188.7,1181.8 188.7,1168.8 189.4,1181.8 189.4,1181.8 190.1,1181.8 190.1,1181.8 190.8,1181.8 190.8,1181.8 191.5,1181.8 191.5,1181.8 192.2,1181.8 192.2,1181.8 192.9,1181.8 192.9,1181.8 193.6,1168.8 193.6,1181.8 194.3,1181.8 194.3,1181.8 195,1181.8 195,1181.8 195.7,1181.8 195.7,1181.8 196.4,1181.8 196.4,1181.8 197.1,1181.8 197.1,1181.8 197.8,1181.8 197.8,1181.8 198.5,1181.8 198.5,1181.8 199.2,1181.8 199.2,1181.8 199.9,1181.8 199.9,1181.8 200.6,1168.8 200.6,1181.8 201.3,1181.8 201.3,1181.8 202,1181.8 202,1181.8 202.7,1181.8 202.7,1168.8 203.4,1168.8 203.4,1181.8 204.1,1181.8 204.1,1181.8 204.8,1181.8 204.8,1181.8 205.5,1181.8 205.5,1181.8 206.2,1168.8 206.2,1181.8 206.9,1181.8 206.9,1181.8 207.6,1181.8 207.6,1181.8 208.3,1181.8 208.3,1181.8 209,1168.8 209,1181.8 209.7,1181.8 209.7,1181.8 210.4,1181.8 210.4,1181.8 211.1,1181.8 211.1,1181.8 211.8,1181.8 211.8,1181.8 212.5,1181.8 212.5,1181.8 213.2,1181.8 213.2,1181.8 213.9,1181.8 213.9,1181.8 214.6,1181.8 214.6,1181.8 215.3,1181.8 215.3,1181.8 216,1181.8 216,1181.8 216.7,1181.8 216.7,1168.8 217.4,1181.8 217.4,1181.8 218.1,1181.8 218.1,1168.8 218.8,1168.8 218.8,1181.8 219.5,1181.8 219.5,1181.8 220.2,1181.8 220.2,1181.8 220.9,1181.8 220.9,1181.8 221.6,1181.8 221.6,1181.8 222.3,1181.8 222.3,1181.8 223,1181.8 223,1181.8 223.7,1181.8 223.7,1181.8 224.4,1181.8 224.4,1181.8 225.1,1181.8 225.1,1181.8 225.8,1181.8 225.8,1181.8 226.5,1181.8 226.5,1181.8 227.2,1181.8 227.2,1181.8 227.9,1181.8 227.9,1181.8 228.6,1181.8 228.6,1181.8 229.3,1181.8 229.3,1181.8 230,1181.8 230,1181.8 230.7,1181.8 230.7,1168.8 231.4,1181.8 231.4,1181.8 232.1,1181.8 232.1,1181.8 232.8,1181.8 232.8,1181.8 233.5,1181.8 233.5,1168.8 234.2,1181.8 234.2,1181.8 234.9,1181.8 234.9,1168.8 235.6,1181.8 235.6,1181.8 236.3,1181.8 236.3,1161.2 237,1168.8 237,1181.8 237.7,1181.8 237.7,1181.8 238.4,1181.8 238.4,1181.8 239.1,1181.8 239.1,1181.8 239.8,1181.8 239.8,1181.8 240.5,1181.8 240.5,1161.2 241.2,1181.8 241.2,1181.8 241.9,1181.8 241.9,1181.8 242.6,1181.8 242.6,1181.8 243.3,1181.8 243.3,1181.8 244,1181.8 244,1181.8 244.7,1181.8 244.7,1181.8 245.4,1181.8 245.4,1181.8 246.1,1181.8 246.1,1181.8 246.8,1168.8 246.8,1181.8 247.5,1181.8 247.5,1181.8 248.2,1181.8 248.2,1181.8 248.9,1181.8 248.9,1181.8 249.6,1168.8 249.6,1181.8 250.3,1181.8 250.3,1181.8 251,1181.8 251,1181.8 251.7,1181.8 251.7,1168.8 252.4,1161.2 252.4,1181.8 253.1,1181.8 253.1,1181.8 253.8,1181.8 253.8,1181.8 254.5,1181.8 254.5,1181.8 255.2,1181.8 255.2,1181.8 255.9,1181.8 255.9,1181.8 256.6,1181.8 256.6,1181.8 257.3,1181.8 257.3,1181.8 258,1181.8 258,1181.8 258.7,1181.8 258.7,1181.8 259.4,1181.8 259.4,1181.8 260.1,1181.8 260.1,1181.8 260.8,1168.8 260.8,1181.8 261.5,1181.8 261.5,1181.8 262.2,1181.8 262.2,1181.8 262.9,1181.8 262.9,1181.8 263.6,1181.8 263.6,1181.8 264.3,1181.8 264.3,1181.8 265,1168.8 265,1181.8 265.7,1181.8 265.7,1181.8 266.4,1181.8 266.4,1181.8 267.1,1181.8 267.1,1181.8 267.8,1181.8 267.8,1181.8 268.5,1181.8 268.5,1181.8 269.2,1181.8 269.2,1181.8 269.9,1181.8 269.9,1181.8 270.6,1181.8 270.6,1181.8 271.3,1181.8 271.3,1181.8 272,1181.8 272,1181.8 272.7,1181.8 272.7,1181.8 273.4,1181.8 273.4,1181.8 274.1,1181.8 274.1,1181.8 274.8,1181.8 274.8,1181.8 275.5,1181.8 275.5,1181.8 276.2,1181.8 276.2,1181.8 276.9,1181.8 276.9,1181.8 277.6,1181.8 277.6,1181.8 278.3,1181.8 278.3,1181.8 279,1181.8 279,1181.8 279.7,1181.8 279.7,1181.8 280.4,1181.8 280.4,1181.8 281.1,1181.8 281.1,1181.8 281.8,1181.8 281.8,1181.8 282.5,1181.8 282.5,1181.8 283.2,1181.8 283.2,1181.8 283.9,1181.8 283.9,1181.8 284.6,1181.8 284.6,1181.8 285.3,1181.8 285.3,1181.8 286,1181.8 286,1181.8 286.7,1181.8 286.7,1168.8 287.4,1181.8 287.4,1181.8 288.1,1181.8 288.1,1168.8 288.8,1181.8 288.8,1181.8 289.5,1181.8 289.5,1181.8 290.2,1181.8 290.2,1181.8 290.9,1181.8 290.9,1181.8 291.6,1181.8 291.6,1181.8 292.3,1181.8 292.3,1181.8 293,1181.8 293,1181.8 293.7,1181.8 293.7,1181.8 294.4,1181.8 294.4,1181.8 295.1,1181.8 295.1,1181.8 295.8,1181.8 295.8,1181.8 296.5,1181.8 296.5,1181.8 297.2,1181.8 297.2,1181.8 297.9,1181.8 297.9,1181.8 298.6,1181.8 298.6,1181.8 299.3,1181.8 299.3,1181.8 300,1181.8 300,1181.8 300.7,1181.8 300.7,1181.8 301.4,1181.8 301.4,1181.8 302.1,1181.8 302.1,1181.8 302.8,1168.8 302.8,1181.8 303.5,1181.8 303.5,1181.8 304.2,1181.8 304.2,1181.8 304.9,1181.8 304.9,1181.8 305.6,1181.8 305.6,1181.8 306.3,1181.8 306.3,1181.8 307,1181.8 307,1181.8 307.7,1181.8 307.7,1181.8 308.4,1168.8 308.4,1181.8 309.1,1181.8 309.1,1181.8 309.8,1181.8 309.8,1181.8 310.5,1181.8 310.5,1181.8 311.2,1181.8 311.2,1181.8 311.9,1181.8 311.9,1181.8 312.6,1181.8 312.6,1181.8 313.3,1181.8 313.3,1181.8 314,1155.9 314,1181.8 314.7,1181.8 314.7,1181.8 315.4,1181.8 315.4,1181.8 316.1,1181.8 316.1,1181.8 316.8,1168.8 316.8,1181.8 317.5,1181.8 317.5,1181.8 318.2,1181.8 318.2,1181.8 318.9,1181.8 318.9,1181.8 319.6,1181.8 319.6,1181.8 320.3,1181.8 320.3,1181.8 321,1181.8 321,1181.8 321.7,1181.8 321.7,1168.8 322.4,1181.8 322.4,1181.8 323.1,1181.8 323.1,1181.8 323.8,1181.8 323.8,1181.8 324.5,1181.8 324.5,1181.8 325.2,1168.8 325.2,1181.8 325.9,1181.8 325.9,1181.8 326.6,1181.8 326.6,1181.8 327.3,1181.8 327.3,1181.8 328,1181.8 328,1181.8 328.7,1181.8 328.7,1181.8 329.4,1181.8 329.4,1181.8 330.1,1181.8 330.1,1168.8 330.8,1181.8 330.8,1181.8 331.5,1181.8 331.5,1181.8 332.2,1181.8 332.2,1181.8 332.9,1181.8 332.9,1181.8 333.6,1181.8 333.6,1181.8 334.3,1181.8 334.3,1181.8 335,1181.8 335,1181.8 335.7,1181.8 335.7,1181.8 336.4,1181.8 336.4,1181.8 337.1,1181.8 337.1,1181.8 337.8,1181.8 337.8,1181.8 338.5,1181.8 338.5,1181.8 339.2,1181.8 339.2,1181.8 339.9,1181.8 339.9,1181.8 340.6,1181.8 340.6,1181.8 341.3,1181.8 341.3,1181.8 342,1181.8 342,1181.8 342.7,1181.8 342.7,1181.8 343.4,1168.8 343.4,1181.8 344.1,1181.8 344.1,1181.8 344.8,1181.8 344.8,1181.8 345.5,1181.8 345.5,1168.8 346.2,1181.8 346.2,1181.8 346.9,1181.8 346.9,1181.8 347.6,1168.8 347.6,1181.8 348.3,1181.8 348.3,1181.8 349,1181.8 349,1181.8 349.7,1181.8 349.7,1181.8 350.4,1181.8 350.4,1181.8 351.1,1181.8 351.1,1181.8 351.8,1181.8 351.8,1181.8 352.5,1181.8 352.5,1181.8 353.2,1181.8 353.2,1181.8 353.9,1181.8 353.9,1181.8 354.6,1181.8 354.6,1181.8 355.3,1181.8 355.3,1181.8 356,1181.8 356,1181.8 356.7,1181.8 356.7,1181.8 357.4,1181.8 357.4,1181.8 358.1,1181.8 358.1,1181.8 358.8,1181.8 358.8,1181.8 359.5,1181.8 359.5,1168.8 360.2,1168.8 360.2,1181.8 360.9,1181.8 360.9,1181.8 361.6,1181.8 361.6,1181.8 362.3,1181.8 362.3,1181.8 363,1181.8 363,1181.8 363.7,1181.8 363.7,1181.8 364.4,1181.8 364.4,1181.8 365.1,1181.8 365.1,1181.8 365.8,1168.8 365.8,1181.8 366.5,1181.8 366.5,1181.8 367.2,1181.8 367.2,1181.8 367.9,1181.8 367.9,1181.8 368.6,1161.2 368.6,1181.8 369.3,1181.8 369.3,1181.8 370,1181.8 370,1181.8 370.7,1181.8 370.7,1181.8 371.4,1181.8 371.4,1181.8 372.1,1181.8 372.1,1181.8 372.8,1181.8 372.8,1181.8 373.5,1181.8 373.5,1181.8 374.2,1181.8 374.2,1181.8 374.9,1181.8 374.9,1181.8 375.6,1181.8 375.6,1181.8 376.3,1181.8 376.3,1181.8 377,1181.8 377,1181.8 377.7,1181.8 377.7,1181.8 378.4,1181.8 378.4,1181.8 379.1,1181.8 379.1,1181.8 379.8,1181.8 379.8,1181.8 380.5,1181.8 380.5,1181.8 381.2,1181.8 381.2,1181.8 381.9,1181.8 381.9,1181.8 382.6,1168.8 382.6,1181.8 383.3,1181.8 383.3,1181.8 384,1181.8 384,1181.8 384.7,1181.8 384.7,1181.8 385.4,1181.8 385.4,1181.8 386.1,1181.8 386.1,1181.8 386.8,1181.8 386.8,1181.8 387.5,1181.8 387.5,1181.8 388.2,1181.8 388.2,1181.8 388.9,1181.8 388.9,1181.8 389.6,1181.8 389.6,1181.8 390.3,1181.8 390.3,1181.8 391,1181.8 391,1181.8 391.7,1181.8 391.7,1181.8 392.4,1181.8 392.4,1181.8 393.1,1181.8 393.1,1181.8 393.8,1181.8 393.8,1181.8 394.5,1181.8 394.5,1181.8 395.2,1181.8 395.2,1181.8 395.9,1181.8 395.9,1181.8 396.6,1181.8 396.6,1181.8 397.3,1181.8 397.3,1181.8 398,1181.8 398,1181.8 398.7,1181.8 398.7,1181.8 399.4,1181.8 399.4,1181.8 400.1,1181.8 400.1,1181.8 400.8,1181.8 400.8,1181.8 401.5,1181.8 401.5,1181.8 402.2,1181.8 402.2,1181.8 402.9,1181.8 402.9,1181.8 403.6,1181.8 403.6,1181.8 404.3,1181.8 404.3,1181.8 405,1181.8 405,1181.8 405.7,1181.8 405.7,1181.8 406.4,1168.8 406.4,1181.8 407.1,1181.8 407.1,1181.8 407.8,1181.8 407.8,1181.8 408.5,1181.8 408.5,1181.8 409.2,1181.8 409.2,1181.8 409.9,1181.8 409.9,1181.8 410.6,1181.8 410.6,1181.8 411.3,1181.8 411.3,1168.8 412,1168.8 412,1181.8 412.7,1181.8 412.7,1181.8 413.4,1181.8 413.4,1181.8 414.1,1181.8 414.1,1168.8 414.8,1181.8 414.8,1181.8 415.5,1181.8 415.5,1181.8 416.2,1181.8 416.2,1181.8 416.9,1181.8 416.9,1181.8 417.6,1181.8 417.6,1181.8 418.3,1181.8 418.3,1181.8 419,1181.8 419,1181.8 419.7,1181.8 419.7,1181.8 420.4,1181.8 420.4,1181.8 421.1,1181.8 421.1,1168.8 421.8,1181.8 421.8,1181.8 422.5,1181.8 422.5,1181.8 423.2,1181.8 423.2,1181.8 423.9,1181.8 423.9,1181.8 424.6,1181.8 424.6,1181.8 425.3,1181.8 425.3,1168.8 426,1181.8 426,1181.8 426.7,1181.8 426.7,1168.8 427.4,1181.8 427.4,1181.8 428.1,1181.8 428.1,1181.8 428.8,1181.8 428.8,1181.8 429.5,1181.8 429.5,1168.8 430.2,1181.8 430.2,1181.8 430.9,1181.8 430.9,1181.8 431.6,1181.8 431.6,1181.8 432.3,1181.8 432.3,1181.8 433,1181.8 433,1181.8 433.7,1181.8 433.7,1181.8 434.4,1181.8 434.4,1181.8 435.1,1181.8 435.1,1181.8 435.8,1181.8 435.8,1181.8 436.5,1181.8 436.5,1181.8 437.2,1181.8 437.2,1181.8 437.9,1181.8 437.9,1181.8 438.6,1181.8 438.6,1181.8 439.3,1181.8 439.3,1181.8 440,1181.8 440,1181.8 440.7,1181.8 440.7,1181.8 441.4,1181.8 441.4,1181.8 442.1,1181.8 442.1,1181.8 442.8,1181.8 442.8,1181.8 443.5,1181.8 443.5,1181.8 444.2,1168.8 444.2,1181.8 444.9,1181.8 444.9,1168.8 445.6,1181.8 445.6,1181.8 446.3,1181.8 446.3,1181.8 447,1181.8 447,1181.8 447.7,1181.8 447.7,1181.8 448.4,1181.8 448.4,1181.8 449.1,1181.8 449.1,1181.8 449.8,1181.8 449.8,1181.8 450.5,1181.8 450.5,1181.8 451.2,1181.8 451.2,1181.8 451.9,1181.8 451.9,1181.8 452.6,1181.8 452.6,1181.8 453.3,1181.8 453.3,1181.8 454,1181.8 454,1181.8 454.7,1181.8 454.7,1161.2 455.4,1168.8 455.4,1181.8 456.1,1181.8 456.1,1181.8 456.8,1181.8 456.8,1181.8 457.5,1181.8 457.5,1181.8 458.2,1181.8 458.2,1181.8 458.9,1181.8 458.9,1168.8 459.6,1181.8 459.6,1181.8 460.3,1181.8 460.3,1181.8 461,1181.8 461,1181.8 461.7,1181.8 461.7,1181.8 462.4,1181.8 462.4,1181.8 463.1,1181.8 463.1,1181.8 463.8,1181.8 463.8,1181.8 464.5,1181.8 464.5,1181.8 465.2,1181.8 465.2,1181.8 465.9,1181.8 465.9,1181.8 466.6,1181.8 466.6,1181.8 467.3,1181.8 467.3,1181.8 468,1181.8 468,1181.8 468.7,1181.8 468.7,1181.8 469.4,1181.8 469.4,1181.8 470.1,1181.8 470.1,1181.8 470.8,1181.8 470.8,1181.8 471.5,1181.8 471.5,1181.8 472.2,1181.8 472.2,1181.8 472.9,1181.8 472.9,1181.8 473.6,1181.8 473.6,1181.8 474.3,1181.8 474.3,1181.8 475,1181.8 475,1181.8 475.7,1181.8 475.7,1181.8 476.4,1168.8 476.4,1181.8 477.1,1181.8 477.1,1181.8 477.8,1181.8 477.8,1181.8 478.5,1181.8 478.5,1181.8 479.2,1181.8 479.2,1181.8 479.9,1181.8 479.9,1181.8 480.6,1181.8 480.6,1181.8 481.3,1181.8 481.3,1181.8 482,1181.8 482,1181.8 482.7,1181.8 482.7,1181.8 483.4,1181.8 483.4,1181.8 484.1,1181.8 484.1,1181.8 484.8,1181.8 484.8,1181.8 485.5,1181.8 485.5,1181.8 486.2,1181.8 486.2,1181.8 486.9,1181.8 486.9,1181.8 487.6,1181.8 487.6,1181.8 488.3,1181.8 488.3,1181.8 489,1181.8 489,1181.8 489.7,1181.8 489.7,1181.8 490.4,1181.8 490.4,1181.8 491.1,1181.8 491.1,1181.8 491.8,1181.8 491.8,1181.8 492.5,1181.8 492.5,1181.8 493.2,1168.8 493.2,1181.8 493.9,1181.8 493.9,1181.8 494.6,1181.8 494.6,1181.8 495.3,1181.8 495.3,1181.8 496,1181.8 496,1181.8 496.7,1181.8 496.7,1181.8 497.4,1181.8 497.4,1181.8 498.1,1181.8 498.1,1181.8 498.8,1181.8 498.8,1181.8 499.5,1181.8 499.5,1181.8 500.2,1181.8 500.2,1181.8 500.9,1181.8 500.9,1181.8 501.6,1168.8 501.6,1181.8 502.3,1181.8 502.3,1181.8 503,1181.8 503,1181.8 503.7,1181.8 503.7,1181.8 504.4,1181.8 504.4,1181.8 505.1,1181.8 505.1,1181.8 505.8,1181.8 505.8,1181.8 506.5,1181.8 506.5,1181.8 507.2,1181.8 507.2,1181.8 507.9,1181.8 507.9,1181.8" stroke="#D2D85C" stroke-width="0.95" fill="none" stroke-linejoin="round"/><path d="M84 1116.2L88 1120.2L92 1123.7L96 1126.7L100 1129.6L104 1131.7L108 1133.8L112 1135.9L116 1137.9L120 1139.6L124 1141.3L128 1143L132 1144.4L136 1145.7L140 1146.9L144 1148.1L148 1149.3L152 1150.2L156 1150.8L160 1151.4L164 1152.1L168 1152.7L172 1153.3L176 1153.9L180 1154.5L184 1154.9L188 1155.2L192 1155.6L196 1155.9L200 1156.3L204 1156.6L208 1157L212 1157.3L216 1157.7L220 1158L224 1158.2L228 1158.4L232 1158.6L236 1158.8L240 1159L244 1159.2L248 1159.4L252 1159.5L256 1159.7L260 1159.9L264 1160.1L268 1160.3L272 1160.5L276 1160.7L280 1160.9L284 1161L288 1161L292 1161.1L296 1161.2L300 1161.3L304 1161.4L308 1161.5L312 1161.6L316 1161.7L320 1161.8L324 1161.9L328 1162L332 1162.1L336 1162.2L340 1162.3L344 1162.3L348 1162.4L352 1162.5L356 1162.5L360 1162.5L364 1162.6L368 1162.6L372 1162.6L376 1162.6L380 1162.7L384 1162.7L388 1162.7L392 1162.7L396 1162.7L400 1162.8L404 1162.8L408 1162.8L412 1162.8L416 1162.9L420 1162.9L424 1162.9L428 1162.9L432 1162.9L436 1163L440 1163L444 1163L448 1163L452 1163.1L456 1163.1L460 1163.1L464 1163.1L468 1163.1L472 1163.2L476 1163.2L480 1163.2L484 1163.2L488 1163.3L492 1163.3L496 1163.3L500 1163.3L504 1163.3L508 1163.4L508 1182.8L504 1182.8L500 1182.8L496 1182.8L492 1182.8L488 1182.8L484 1182.8L480 1182.8L476 1182.8L472 1182.8L468 1182.8L464 1182.8L460 1182.8L456 1182.8L452 1182.8L448 1182.8L444 1182.8L440 1182.8L436 1182.8L432 1182.8L428 1182.8L424 1182.8L420 1182.8L416 1182.8L412 1182.8L408 1182.8L404 1182.8L400 1182.8L396 1182.8L392 1182.8L388 1182.8L384 1182.8L380 1182.8L376 1182.8L372 1182.8L368 1182.8L364 1182.8L360 1182.8L356 1182.8L352 1182.8L348 1182.8L344 1182.8L340 1182.8L336 1182.8L332 1182.8L328 1182.8L324 1182.8L320 1182.8L316 1182.8L312 1182.8L308 1182.8L304 1182.8L300 1182.8L296 1182.8L292 1182.8L288 1182.8L284 1182.8L280 1182.8L276 1182.8L272 1182.8L268 1182.8L264 1182.8L260 1182.8L256 1182.8L252 1182.8L248 1182.8L244 1182.8L240 1182.8L236 1182.8L232 1182.8L228 1182.8L224 1182.8L220 1182.8L216 1182.8L212 1182.8L208 1182.8L204 1182.8L200 1182.8L196 1182.8L192 1182.8L188 1182.8L184 1182.8L180 1182.8L176 1182.8L172 1182.8L168 1182.8L164 1182.8L160 1182.8L156 1182.8L152 1182.8L148 1182.8L144 1182.8L140 1160.2L136 1158.5L132 1156.7L128 1154.7L124 1152.4L120 1150.1L116 1147.9L112 1145.3L108 1142.6L104 1140L100 1137.4L96 1133.8L92 1130.2L88 1126.1L84 1121.4Z" fill="#52AD4C"/><polyline points="70.4,1148.3 70.4,1181.8 71.1,1138.7 71.1,1123.9 71.8,1099.8 71.8,1104.5 72.5,1076.5 72.5,1073.3 73.2,1056.1 73.2,1057.4 73.9,1038 73.9,1037.4 74.6,1057.4 74.6,1060.1 75.3,1087 75.3,1082.4 76,1094.3 76,1100.5 76.7,1106.5 76.7,1101.2 77.4,1102.5 77.4,1110.5 78.1,1110.5 78.1,1101 78.8,1106.5 78.8,1114.2 79.5,1118.1 79.5,1107.1 80.2,1108.6 80.2,1118.1 80.9,1116.4 80.9,1109.7 81.6,1108.6 81.6,1116.9 82.3,1124.8 82.3,1113.2 83,1110.1 83,1127.7 83.7,1120.1 83.7,1112.8 84.4,1114.7 84.4,1123.9 85.1,1126.7 85.1,1113.7 85.8,1114.2 85.8,1132.4 86.5,1128.8 86.5,1116.4 87.2,1115.3 87.2,1127.7 87.9,1127.7 87.9,1116.4 88.6,1114.7 88.6,1133.8 89.3,1133.8 89.3,1121.5 90,1120.8 90,1135.3 90.7,1128.8 90.7,1118.1 91.4,1118.1 91.4,1131.1 92.1,1131.1 92.1,1121.5 92.8,1121.5 92.8,1131.1 93.5,1145.4 93.5,1127.7 94.2,1122.3 94.2,1133.8 94.9,1138.7 94.9,1128.8 95.6,1120.8 95.6,1136.9 96.3,1136.9 96.3,1123.9 97,1124.8 97,1138.7 97.7,1140.7 97.7,1125.7 98.4,1123.1 98.4,1155.9 99.1,1142.9 99.1,1126.7 99.8,1128.8 99.8,1140.7 100.5,1140.7 100.5,1123.1 101.2,1126.7 101.2,1140.7 101.9,1140.7 101.9,1129.9 102.6,1129.9 102.6,1145.4 103.3,1145.4 103.3,1131.1 104,1131.1 104,1145.4 104.7,1145.4 104.7,1129.9 105.4,1126.7 105.4,1136.9 106.1,1148.3 106.1,1129.9 106.8,1133.8 106.8,1155.9 107.5,1148.3 107.5,1131.1 108.2,1133.8 108.2,1148.3 108.9,1145.4 108.9,1124.8 109.6,1132.4 109.6,1148.3 110.3,1145.4 110.3,1133.8 111,1128.8 111,1155.9 111.7,1161.2 111.7,1133.8 112.4,1135.3 112.4,1148.3 113.1,1145.4 113.1,1131.1 113.8,1138.7 113.8,1161.2 114.5,1151.7 114.5,1133.8 115.2,1133.8 115.2,1155.9 115.9,1145.4 115.9,1123.1 116.6,1135.3 116.6,1145.4 117.3,1155.9 117.3,1131.1 118,1138.7 118,1155.9 118.7,1161.2 118.7,1136.9 119.4,1131.1 119.4,1161.2 120.1,1161.2 120.1,1133.8 120.8,1135.3 120.8,1151.7 121.5,1155.9 121.5,1136.9 122.2,1136.9 122.2,1168.8 122.9,1155.9 122.9,1135.3 123.6,1140.7 123.6,1155.9 124.3,1161.2 124.3,1132.4 125,1135.3 125,1151.7 125.7,1155.9 125.7,1133.8 126.4,1142.9 126.4,1155.9 127.1,1181.8 127.1,1135.3 127.8,1132.4 127.8,1181.8 128.5,1181.8 128.5,1140.7 129.2,1145.4 129.2,1161.2 129.9,1161.2 129.9,1140.7 130.6,1136.9 130.6,1181.8 131.3,1161.2 131.3,1136.9 132,1138.7 132,1161.2 132.7,1168.8 132.7,1140.7 133.4,1140.7 133.4,1168.8 134.1,1155.9 134.1,1136.9 134.8,1140.7 134.8,1155.9 135.5,1161.2 135.5,1145.4 136.2,1136.9 136.2,1168.8 136.9,1161.2 136.9,1138.7 137.6,1145.4 137.6,1168.8 138.3,1161.2 138.3,1142.9 139,1142.9 139,1168.8 139.7,1181.8 139.7,1140.7 140.4,1142.9 140.4,1181.8 141.1,1181.8 141.1,1142.9 141.8,1145.4 141.8,1168.8 142.5,1161.2 142.5,1142.9 143.2,1142.9 143.2,1181.8 143.9,1168.8 143.9,1140.7 144.6,1142.9 144.6,1168.8 145.3,1168.8 145.3,1142.9 146,1148.3 146,1181.8 146.7,1168.8 146.7,1148.3 147.4,1142.9 147.4,1168.8 148.1,1168.8 148.1,1145.4 148.8,1151.7 148.8,1181.8 149.5,1168.8 149.5,1148.3 150.2,1151.7 150.2,1161.2 150.9,1181.8 150.9,1148.3 151.6,1140.7 151.6,1181.8 152.3,1168.8 152.3,1148.3 153,1145.4 153,1181.8 153.7,1181.8 153.7,1145.4 154.4,1151.7 154.4,1181.8 155.1,1181.8 155.1,1151.7 155.8,1142.9 155.8,1181.8 156.5,1181.8 156.5,1145.4 157.2,1155.9 157.2,1181.8 157.9,1181.8 157.9,1151.7 158.6,1142.9 158.6,1181.8 159.3,1181.8 159.3,1145.4 160,1151.7 160,1168.8 160.7,1168.8 160.7,1145.4 161.4,1151.7 161.4,1168.8 162.1,1181.8 162.1,1155.9 162.8,1151.7 162.8,1181.8 163.5,1181.8 163.5,1151.7 164.2,1140.7 164.2,1181.8 164.9,1181.8 164.9,1148.3 165.6,1151.7 165.6,1168.8 166.3,1181.8 166.3,1148.3 167,1148.3 167,1181.8 167.7,1168.8 167.7,1145.4 168.4,1145.4 168.4,1181.8 169.1,1181.8 169.1,1151.7 169.8,1148.3 169.8,1181.8 170.5,1181.8 170.5,1148.3 171.2,1155.9 171.2,1181.8 171.9,1181.8 171.9,1155.9 172.6,1151.7 172.6,1181.8 173.3,1168.8 173.3,1151.7 174,1151.7 174,1181.8 174.7,1181.8 174.7,1151.7 175.4,1145.4 175.4,1181.8 176.1,1181.8 176.1,1148.3 176.8,1148.3 176.8,1181.8 177.5,1181.8 177.5,1145.4 178.2,1155.9 178.2,1181.8 178.9,1181.8 178.9,1151.7 179.6,1151.7 179.6,1168.8 180.3,1168.8 180.3,1145.4 181,1151.7 181,1181.8 181.7,1181.8 181.7,1151.7 182.4,1151.7 182.4,1181.8 183.1,1181.8 183.1,1155.9 183.8,1148.3 183.8,1181.8 184.5,1181.8 184.5,1140.7 185.2,1151.7 185.2,1181.8 185.9,1181.8 185.9,1151.7 186.6,1148.3 186.6,1181.8 187.3,1181.8 187.3,1151.7 188,1155.9 188,1168.8 188.7,1161.2 188.7,1151.7 189.4,1142.9 189.4,1181.8 190.1,1181.8 190.1,1151.7 190.8,1148.3 190.8,1168.8 191.5,1181.8 191.5,1145.4 192.2,1148.3 192.2,1181.8 192.9,1181.8 192.9,1151.7 193.6,1148.3 193.6,1181.8 194.3,1181.8 194.3,1155.9 195,1151.7 195,1181.8 195.7,1181.8 195.7,1151.7 196.4,1151.7 196.4,1181.8 197.1,1181.8 197.1,1148.3 197.8,1145.4 197.8,1181.8 198.5,1168.8 198.5,1148.3 199.2,1151.7 199.2,1181.8 199.9,1181.8 199.9,1168.8 200.6,1151.7 200.6,1181.8 201.3,1181.8 201.3,1148.3 202,1148.3 202,1181.8 202.7,1181.8 202.7,1148.3 203.4,1151.7 203.4,1181.8 204.1,1168.8 204.1,1148.3 204.8,1151.7 204.8,1181.8 205.5,1181.8 205.5,1145.4 206.2,1142.9 206.2,1181.8 206.9,1181.8 206.9,1148.3 207.6,1155.9 207.6,1181.8 208.3,1181.8 208.3,1148.3 209,1148.3 209,1181.8 209.7,1181.8 209.7,1151.7 210.4,1142.9 210.4,1181.8 211.1,1181.8 211.1,1151.7 211.8,1155.9 211.8,1181.8 212.5,1168.8 212.5,1148.3 213.2,1151.7 213.2,1181.8 213.9,1181.8 213.9,1151.7 214.6,1155.9 214.6,1181.8 215.3,1181.8 215.3,1151.7 216,1148.3 216,1181.8 216.7,1181.8 216.7,1151.7 217.4,1161.2 217.4,1181.8 218.1,1181.8 218.1,1161.2 218.8,1148.3 218.8,1181.8 219.5,1181.8 219.5,1155.9 220.2,1155.9 220.2,1181.8 220.9,1181.8 220.9,1155.9 221.6,1168.8 221.6,1181.8 222.3,1181.8 222.3,1155.9 223,1155.9 223,1181.8 223.7,1181.8 223.7,1161.2 224.4,1161.2 224.4,1181.8 225.1,1181.8 225.1,1148.3 225.8,1145.4 225.8,1181.8 226.5,1181.8 226.5,1148.3 227.2,1155.9 227.2,1181.8 227.9,1181.8 227.9,1161.2 228.6,1151.7 228.6,1181.8 229.3,1168.8 229.3,1142.9 230,1145.4 230,1181.8 230.7,1181.8 230.7,1151.7 231.4,1148.3 231.4,1181.8 232.1,1181.8 232.1,1161.2 232.8,1161.2 232.8,1181.8 233.5,1181.8 233.5,1161.2 234.2,1151.7 234.2,1181.8 234.9,1181.8 234.9,1151.7 235.6,1151.7 235.6,1181.8 236.3,1181.8 236.3,1151.7 237,1161.2 237,1181.8 237.7,1181.8 237.7,1151.7 238.4,1148.3 238.4,1181.8 239.1,1181.8 239.1,1168.8 239.8,1155.9 239.8,1181.8 240.5,1181.8 240.5,1168.8 241.2,1148.3 241.2,1181.8 241.9,1181.8 241.9,1148.3 242.6,1151.7 242.6,1181.8 243.3,1181.8 243.3,1155.9 244,1155.9 244,1181.8 244.7,1181.8 244.7,1145.4 245.4,1148.3 245.4,1181.8 246.1,1181.8 246.1,1148.3 246.8,1148.3 246.8,1181.8 247.5,1181.8 247.5,1151.7 248.2,1161.2 248.2,1181.8 248.9,1181.8 248.9,1161.2 249.6,1155.9 249.6,1181.8 250.3,1181.8 250.3,1151.7 251,1151.7 251,1181.8 251.7,1181.8 251.7,1151.7 252.4,1155.9 252.4,1181.8 253.1,1181.8 253.1,1161.2 253.8,1148.3 253.8,1181.8 254.5,1181.8 254.5,1155.9 255.2,1155.9 255.2,1181.8 255.9,1181.8 255.9,1168.8 256.6,1151.7 256.6,1181.8 257.3,1181.8 257.3,1161.2 258,1155.9 258,1181.8 258.7,1181.8 258.7,1161.2 259.4,1151.7 259.4,1181.8 260.1,1181.8 260.1,1148.3 260.8,1161.2 260.8,1181.8 261.5,1181.8 261.5,1151.7 262.2,1161.2 262.2,1181.8 262.9,1181.8 262.9,1168.8 263.6,1151.7 263.6,1181.8 264.3,1181.8 264.3,1151.7 265,1155.9 265,1181.8 265.7,1181.8 265.7,1155.9 266.4,1148.3 266.4,1181.8 267.1,1181.8 267.1,1155.9 267.8,1155.9 267.8,1181.8 268.5,1181.8 268.5,1155.9 269.2,1155.9 269.2,1181.8 269.9,1181.8 269.9,1155.9 270.6,1155.9 270.6,1181.8 271.3,1181.8 271.3,1151.7 272,1155.9 272,1181.8 272.7,1181.8 272.7,1151.7 273.4,1148.3 273.4,1181.8 274.1,1181.8 274.1,1161.2 274.8,1161.2 274.8,1181.8 275.5,1181.8 275.5,1148.3 276.2,1155.9 276.2,1181.8 276.9,1181.8 276.9,1155.9 277.6,1161.2 277.6,1181.8 278.3,1181.8 278.3,1155.9 279,1168.8 279,1181.8 279.7,1181.8 279.7,1155.9 280.4,1155.9 280.4,1181.8 281.1,1181.8 281.1,1148.3 281.8,1151.7 281.8,1181.8 282.5,1181.8 282.5,1161.2 283.2,1151.7 283.2,1181.8 283.9,1181.8 283.9,1155.9 284.6,1155.9 284.6,1181.8 285.3,1181.8 285.3,1155.9 286,1161.2 286,1181.8 286.7,1181.8 286.7,1151.7 287.4,1155.9 287.4,1181.8 288.1,1181.8 288.1,1148.3 288.8,1151.7 288.8,1181.8 289.5,1181.8 289.5,1168.8 290.2,1168.8 290.2,1181.8 290.9,1181.8 290.9,1155.9 291.6,1161.2 291.6,1181.8 292.3,1181.8 292.3,1155.9 293,1148.3 293,1181.8 293.7,1181.8 293.7,1161.2 294.4,1151.7 294.4,1181.8 295.1,1181.8 295.1,1161.2 295.8,1155.9 295.8,1181.8 296.5,1181.8 296.5,1151.7 297.2,1151.7 297.2,1181.8 297.9,1181.8 297.9,1155.9 298.6,1148.3 298.6,1181.8 299.3,1181.8 299.3,1161.2 300,1155.9 300,1181.8 300.7,1181.8 300.7,1148.3 301.4,1161.2 301.4,1181.8 302.1,1181.8 302.1,1161.2 302.8,1155.9 302.8,1181.8 303.5,1181.8 303.5,1161.2 304.2,1151.7 304.2,1181.8 304.9,1181.8 304.9,1161.2 305.6,1151.7 305.6,1181.8 306.3,1181.8 306.3,1155.9 307,1155.9 307,1181.8 307.7,1181.8 307.7,1148.3 308.4,1151.7 308.4,1181.8 309.1,1181.8 309.1,1161.2 309.8,1161.2 309.8,1181.8 310.5,1181.8 310.5,1161.2 311.2,1155.9 311.2,1181.8 311.9,1181.8 311.9,1168.8 312.6,1155.9 312.6,1181.8 313.3,1181.8 313.3,1155.9 314,1155.9 314,1181.8 314.7,1181.8 314.7,1151.7 315.4,1161.2 315.4,1181.8 316.1,1181.8 316.1,1151.7 316.8,1145.4 316.8,1181.8 317.5,1181.8 317.5,1161.2 318.2,1151.7 318.2,1181.8 318.9,1181.8 318.9,1151.7 319.6,1161.2 319.6,1181.8 320.3,1181.8 320.3,1155.9 321,1151.7 321,1181.8 321.7,1181.8 321.7,1155.9 322.4,1148.3 322.4,1181.8 323.1,1181.8 323.1,1151.7 323.8,1151.7 323.8,1181.8 324.5,1181.8 324.5,1155.9 325.2,1161.2 325.2,1181.8 325.9,1181.8 325.9,1161.2 326.6,1155.9 326.6,1181.8 327.3,1181.8 327.3,1155.9 328,1151.7 328,1181.8 328.7,1181.8 328.7,1155.9 329.4,1161.2 329.4,1181.8 330.1,1181.8 330.1,1155.9 330.8,1155.9 330.8,1181.8 331.5,1181.8 331.5,1161.2 332.2,1148.3 332.2,1181.8 332.9,1181.8 332.9,1155.9 333.6,1161.2 333.6,1181.8 334.3,1181.8 334.3,1155.9 335,1155.9 335,1181.8 335.7,1181.8 335.7,1155.9 336.4,1161.2 336.4,1181.8 337.1,1181.8 337.1,1168.8 337.8,1155.9 337.8,1181.8 338.5,1181.8 338.5,1155.9 339.2,1155.9 339.2,1181.8 339.9,1181.8 339.9,1155.9 340.6,1161.2 340.6,1181.8 341.3,1181.8 341.3,1151.7 342,1161.2 342,1181.8 342.7,1181.8 342.7,1155.9 343.4,1151.7 343.4,1181.8 344.1,1181.8 344.1,1155.9 344.8,1155.9 344.8,1181.8 345.5,1181.8 345.5,1155.9 346.2,1155.9 346.2,1181.8 346.9,1181.8 346.9,1145.4 347.6,1151.7 347.6,1181.8 348.3,1181.8 348.3,1168.8 349,1155.9 349,1181.8 349.7,1181.8 349.7,1151.7 350.4,1155.9 350.4,1181.8 351.1,1181.8 351.1,1155.9 351.8,1155.9 351.8,1181.8 352.5,1181.8 352.5,1155.9 353.2,1151.7 353.2,1181.8 353.9,1181.8 353.9,1161.2 354.6,1155.9 354.6,1181.8 355.3,1181.8 355.3,1168.8 356,1155.9 356,1181.8 356.7,1181.8 356.7,1155.9 357.4,1151.7 357.4,1181.8 358.1,1181.8 358.1,1161.2 358.8,1161.2 358.8,1181.8 359.5,1181.8 359.5,1168.8 360.2,1161.2 360.2,1181.8 360.9,1181.8 360.9,1168.8 361.6,1155.9 361.6,1181.8 362.3,1181.8 362.3,1161.2 363,1155.9 363,1181.8 363.7,1181.8 363.7,1151.7 364.4,1161.2 364.4,1181.8 365.1,1181.8 365.1,1151.7 365.8,1151.7 365.8,1181.8 366.5,1181.8 366.5,1148.3 367.2,1155.9 367.2,1181.8 367.9,1181.8 367.9,1155.9 368.6,1168.8 368.6,1181.8 369.3,1181.8 369.3,1161.2 370,1161.2 370,1181.8 370.7,1181.8 370.7,1155.9 371.4,1155.9 371.4,1181.8 372.1,1181.8 372.1,1155.9 372.8,1155.9 372.8,1181.8 373.5,1181.8 373.5,1168.8 374.2,1161.2 374.2,1181.8 374.9,1181.8 374.9,1161.2 375.6,1161.2 375.6,1181.8 376.3,1181.8 376.3,1155.9 377,1151.7 377,1181.8 377.7,1181.8 377.7,1161.2 378.4,1151.7 378.4,1181.8 379.1,1181.8 379.1,1151.7 379.8,1151.7 379.8,1181.8 380.5,1181.8 380.5,1155.9 381.2,1155.9 381.2,1181.8 381.9,1181.8 381.9,1161.2 382.6,1161.2 382.6,1181.8 383.3,1181.8 383.3,1161.2 384,1161.2 384,1181.8 384.7,1181.8 384.7,1161.2 385.4,1155.9 385.4,1181.8 386.1,1181.8 386.1,1161.2 386.8,1155.9 386.8,1168.8 387.5,1181.8 387.5,1155.9 388.2,1168.8 388.2,1181.8 388.9,1181.8 388.9,1168.8 389.6,1151.7 389.6,1181.8 390.3,1181.8 390.3,1161.2 391,1161.2 391,1181.8 391.7,1181.8 391.7,1161.2 392.4,1161.2 392.4,1181.8 393.1,1181.8 393.1,1161.2 393.8,1151.7 393.8,1181.8 394.5,1181.8 394.5,1155.9 395.2,1155.9 395.2,1181.8 395.9,1181.8 395.9,1161.2 396.6,1161.2 396.6,1181.8 397.3,1181.8 397.3,1155.9 398,1155.9 398,1181.8 398.7,1181.8 398.7,1161.2 399.4,1168.8 399.4,1181.8 400.1,1181.8 400.1,1155.9 400.8,1151.7 400.8,1181.8 401.5,1181.8 401.5,1151.7 402.2,1155.9 402.2,1181.8 402.9,1181.8 402.9,1151.7 403.6,1155.9 403.6,1181.8 404.3,1181.8 404.3,1161.2 405,1161.2 405,1181.8 405.7,1181.8 405.7,1148.3 406.4,1161.2 406.4,1181.8 407.1,1181.8 407.1,1161.2 407.8,1155.9 407.8,1181.8 408.5,1181.8 408.5,1148.3 409.2,1161.2 409.2,1181.8 409.9,1181.8 409.9,1161.2 410.6,1161.2 410.6,1181.8 411.3,1181.8 411.3,1161.2 412,1161.2 412,1181.8 412.7,1181.8 412.7,1155.9 413.4,1161.2 413.4,1181.8 414.1,1181.8 414.1,1151.7 414.8,1155.9 414.8,1181.8 415.5,1181.8 415.5,1161.2 416.2,1155.9 416.2,1181.8 416.9,1181.8 416.9,1151.7 417.6,1161.2 417.6,1181.8 418.3,1181.8 418.3,1155.9 419,1161.2 419,1181.8 419.7,1181.8 419.7,1155.9 420.4,1161.2 420.4,1181.8 421.1,1181.8 421.1,1155.9 421.8,1168.8 421.8,1181.8 422.5,1181.8 422.5,1155.9 423.2,1151.7 423.2,1181.8 423.9,1181.8 423.9,1155.9 424.6,1161.2 424.6,1181.8 425.3,1181.8 425.3,1155.9 426,1155.9 426,1181.8 426.7,1181.8 426.7,1161.2 427.4,1161.2 427.4,1181.8 428.1,1181.8 428.1,1161.2 428.8,1161.2 428.8,1181.8 429.5,1181.8 429.5,1151.7 430.2,1155.9 430.2,1181.8 430.9,1181.8 430.9,1161.2 431.6,1161.2 431.6,1181.8 432.3,1181.8 432.3,1145.4 433,1151.7 433,1181.8 433.7,1168.8 433.7,1151.7 434.4,1155.9 434.4,1181.8 435.1,1181.8 435.1,1161.2 435.8,1161.2 435.8,1181.8 436.5,1181.8 436.5,1145.4 437.2,1155.9 437.2,1181.8 437.9,1181.8 437.9,1145.4 438.6,1168.8 438.6,1181.8 439.3,1181.8 439.3,1161.2 440,1161.2 440,1181.8 440.7,1181.8 440.7,1155.9 441.4,1161.2 441.4,1181.8 442.1,1181.8 442.1,1148.3 442.8,1145.4 442.8,1181.8 443.5,1181.8 443.5,1155.9 444.2,1161.2 444.2,1181.8 444.9,1181.8 444.9,1155.9 445.6,1161.2 445.6,1181.8 446.3,1181.8 446.3,1161.2 447,1161.2 447,1181.8 447.7,1181.8 447.7,1155.9 448.4,1155.9 448.4,1181.8 449.1,1181.8 449.1,1148.3 449.8,1161.2 449.8,1181.8 450.5,1181.8 450.5,1151.7 451.2,1155.9 451.2,1181.8 451.9,1181.8 451.9,1168.8 452.6,1155.9 452.6,1181.8 453.3,1181.8 453.3,1155.9 454,1155.9 454,1181.8 454.7,1181.8 454.7,1151.7 455.4,1151.7 455.4,1181.8 456.1,1181.8 456.1,1155.9 456.8,1161.2 456.8,1181.8 457.5,1181.8 457.5,1161.2 458.2,1155.9 458.2,1181.8 458.9,1181.8 458.9,1161.2 459.6,1161.2 459.6,1181.8 460.3,1181.8 460.3,1155.9 461,1168.8 461,1181.8 461.7,1181.8 461.7,1168.8 462.4,1151.7 462.4,1181.8 463.1,1181.8 463.1,1151.7 463.8,1155.9 463.8,1181.8 464.5,1181.8 464.5,1155.9 465.2,1155.9 465.2,1181.8 465.9,1181.8 465.9,1155.9 466.6,1151.7 466.6,1181.8 467.3,1181.8 467.3,1168.8 468,1168.8 468,1181.8 468.7,1181.8 468.7,1161.2 469.4,1161.2 469.4,1181.8 470.1,1181.8 470.1,1145.4 470.8,1168.8 470.8,1181.8 471.5,1181.8 471.5,1151.7 472.2,1155.9 472.2,1181.8 472.9,1181.8 472.9,1151.7 473.6,1155.9 473.6,1181.8 474.3,1181.8 474.3,1161.2 475,1161.2 475,1181.8 475.7,1181.8 475.7,1155.9 476.4,1155.9 476.4,1181.8 477.1,1181.8 477.1,1155.9 477.8,1161.2 477.8,1181.8 478.5,1181.8 478.5,1151.7 479.2,1161.2 479.2,1181.8 479.9,1181.8 479.9,1151.7 480.6,1161.2 480.6,1181.8 481.3,1181.8 481.3,1155.9 482,1161.2 482,1181.8 482.7,1181.8 482.7,1168.8 483.4,1151.7 483.4,1181.8 484.1,1181.8 484.1,1161.2 484.8,1155.9 484.8,1181.8 485.5,1181.8 485.5,1161.2 486.2,1148.3 486.2,1181.8 486.9,1181.8 486.9,1151.7 487.6,1168.8 487.6,1181.8 488.3,1181.8 488.3,1155.9 489,1161.2 489,1181.8 489.7,1181.8 489.7,1161.2 490.4,1161.2 490.4,1181.8 491.1,1181.8 491.1,1168.8 491.8,1161.2 491.8,1181.8 492.5,1181.8 492.5,1155.9 493.2,1161.2 493.2,1181.8 493.9,1181.8 493.9,1155.9 494.6,1161.2 494.6,1181.8 495.3,1181.8 495.3,1155.9 496,1155.9 496,1181.8 496.7,1181.8 496.7,1155.9 497.4,1155.9 497.4,1181.8 498.1,1181.8 498.1,1148.3 498.8,1155.9 498.8,1181.8 499.5,1181.8 499.5,1151.7 500.2,1168.8 500.2,1181.8 500.9,1181.8 500.9,1155.9 501.6,1161.2 501.6,1181.8 502.3,1181.8 502.3,1151.7 503,1168.8 503,1181.8 503.7,1181.8 503.7,1155.9 504.4,1155.9 504.4,1181.8 505.1,1181.8 505.1,1155.9 505.8,1161.2 505.8,1181.8 506.5,1181.8 506.5,1155.9 507.2,1155.9 507.2,1181.8 507.9,1181.8 507.9,1148.3" stroke="#52AD4C" stroke-width="1.0" fill="none" stroke-linejoin="round"/><path d="M112 1071.3L116 1073.4L120 1075.5L124 1077.6L128 1079.7L132 1081.6L136 1083.3L140 1085L144 1086.6L148 1088.3L152 1090L156 1091.5L160 1092.6L164 1093.7L168 1094.8L172 1095.9L176 1097L180 1098.1L184 1099.2L188 1100.1L192 1100.9L196 1101.7L200 1102.5L204 1103.4L208 1104.2L212 1105L216 1105.9L220 1107.1L224 1108.2L228 1109.3L232 1110.4L236 1111.5L240 1112.7L244 1113.8L248 1114.9L252 1116.1L256 1117.2L260 1118.3L264 1119.5L268 1120.6L272 1121.4L276 1122L280 1122.6L284 1123.1L288 1123.7L292 1124.2L296 1124.8L300 1125.3L304 1125.9L308 1126.4L312 1126.9L316 1127.4L320 1127.9L324 1128.3L328 1128.8L332 1129.2L336 1129.7L340 1130.2L344 1130.6L348 1131.1L352 1131.7L356 1132.3L360 1132.9L364 1133.6L368 1134.2L372 1134.9L376 1135.5L380 1136.2L384 1136.8L388 1137.4L392 1138.1L396 1138.7L400 1139.3L404 1139.9L408 1140.5L412 1141.1L416 1141.7L420 1142.3L424 1142.8L428 1143.4L432 1144L436 1144.6L440 1145.2L444 1145.7L448 1146.3L452 1146.8L456 1147.3L460 1147.8L464 1148.3L468 1148.7L472 1149.2L476 1149.7L480 1150.2L484 1150.6L488 1151.1L492 1151.6L496 1152.1L500 1152.5L504 1153L508 1153.5L508 1182.8L504 1182.8L500 1182.8L496 1182.8L492 1182.8L488 1182.8L484 1182.8L480 1182.8L476 1182.8L472 1182.8L468 1182.8L464 1182.8L460 1182.8L456 1160.8L452 1160.1L448 1159.4L444 1158.6L440 1157.7L436 1156.9L432 1156.1L428 1155.3L424 1154.5L420 1153.7L416 1152.9L412 1152.1L408 1151.3L404 1150.6L400 1149.8L396 1148.9L392 1148.1L388 1147.3L384 1146.4L380 1145.6L376 1144.8L372 1144L368 1143.2L364 1142.3L360 1141.5L356 1140.7L352 1139.9L348 1139.2L344 1138.6L340 1138.1L336 1137.5L332 1136.9L328 1136.3L324 1135.8L320 1135.2L316 1134.6L312 1134.1L308 1133.5L304 1132.8L300 1132.1L296 1131.5L292 1130.8L288 1130.2L284 1129.5L280 1128.8L276 1128.2L272 1127.5L268 1126.5L264 1125.2L260 1123.9L256 1122.6L252 1121.3L248 1120L244 1118.7L240 1117.4L236 1116.1L232 1114.9L228 1113.6L224 1112.3L220 1111.1L216 1109.8L212 1108.8L208 1107.9L204 1107L200 1106.1L196 1105.2L192 1104.3L188 1103.4L184 1102.4L180 1101.2L176 1100L172 1098.8L168 1097.7L164 1096.5L160 1095.3L156 1094.1L152 1092.5L148 1090.7L144 1088.9L140 1087.1L136 1085.4L132 1083.6L128 1081.6L124 1079.4L120 1077.2L116 1075L112 1072.8Z" fill="#0B6B3A"/><polyline points="70.4,1148.3 70.4,1181.8 71.1,1148.3 71.1,1128.8 71.8,1099.3 71.8,1106.1 72.5,1076.3 72.5,1073.1 73.2,1058.6 73.2,1060.7 73.9,1045 73.9,1043.5 74.6,1035.5 74.6,1036.6 75.3,1037.8 75.3,1036.5 76,1038.3 76,1039.5 76.7,1040.3 76.7,1038.6 77.4,1040.4 77.4,1041.6 78.1,1043.2 78.1,1041.4 78.8,1042.1 78.8,1043.6 79.5,1045.4 79.5,1043.4 80.2,1044.7 80.2,1046.4 80.9,1046.6 80.9,1045.4 81.6,1046 81.6,1047.8 82.3,1048.7 82.3,1046.5 83,1047.3 83,1049.3 83.7,1050.2 83.7,1048.6 84.4,1049.1 84.4,1051.1 85.1,1051.9 85.1,1049.8 85.8,1050.5 85.8,1053.2 86.5,1054.1 86.5,1051.8 87.2,1052.5 87.2,1054.9 87.9,1055.3 87.9,1053.4 88.6,1054.3 88.6,1056.1 89.3,1057.5 89.3,1055.6 90,1055.6 90,1057.7 90.7,1058.6 90.7,1056.6 91.4,1056.7 91.4,1058.9 92.1,1059.6 92.1,1057.3 92.8,1058.5 92.8,1060.6 93.5,1061.6 93.5,1058.8 94.2,1058.5 94.2,1062.7 94.9,1061.8 94.9,1059.5 95.6,1059.8 95.6,1061.9 96.3,1062.2 96.3,1060.3 97,1061.2 97,1063.2 97.7,1063.4 97.7,1061.3 98.4,1062.6 98.4,1064.2 99.1,1065.3 99.1,1062.4 99.8,1063 99.8,1064.2 100.5,1067 100.5,1063.3 101.2,1063.6 101.2,1065.5 101.9,1066.8 101.9,1064.1 102.6,1064.1 102.6,1067.1 103.3,1068.5 103.3,1065 104,1065.4 104,1068.6 104.7,1069.6 104.7,1066.5 105.4,1066.4 105.4,1068.8 106.1,1068.6 106.1,1067.2 106.8,1068.2 106.8,1070.3 107.5,1070.8 107.5,1068.2 108.2,1067.1 108.2,1070.5 108.9,1071.6 108.9,1068.5 109.6,1069.3 109.6,1072.5 110.3,1069.9" stroke="#2C4F3C" stroke-width="1.05" fill="none" stroke-linejoin="round"/><polyline points="110.3,1072.9 110.3,1069.9 111,1069.6 111,1073.1 111.7,1074 111.7,1070.8 112.4,1071.1 112.4,1073.9 113.1,1074.8 113.1,1071.6 113.8,1071.8 113.8,1074.5 114.5,1075.2 114.5,1072.4 115.2,1071.4 115.2,1075 115.9,1076.6 115.9,1073.6 116.6,1074.1 116.6,1076 117.3,1076.8 117.3,1072.4 118,1072.9 118,1076.3 118.7,1076.7 118.7,1074 119.4,1075 119.4,1077.1 120.1,1078.1 120.1,1074.8 120.8,1074.6 120.8,1078.7 121.5,1078.8 121.5,1075.9 122.2,1076.3 122.2,1079 122.9,1079.8 122.9,1075.8 123.6,1077 123.6,1079.8 124.3,1081.8 124.3,1076.7 125,1077.3 125,1080.5 125.7,1081.4 125.7,1078 126.4,1078.5 126.4,1080.9 127.1,1081.5 127.1,1077.4 127.8,1078.4 127.8,1082.8 128.5,1082.4 128.5,1079.2 129.2,1078.7 129.2,1083.2 129.9,1083.3 129.9,1078.4 130.6,1080.8 130.6,1083.7 131.3,1084 131.3,1079.4 132,1080.8 132,1085.1 132.7,1084.7 132.7,1079.8 133.4,1082.2 133.4,1086.2 134.1,1086.1 134.1,1080.8 134.8,1081.4 134.8,1088 135.5,1086.3 135.5,1081.7 136.2,1082.3 136.2,1087.4 136.9,1087.3 136.9,1082.1 137.6,1082.9 137.6,1088.8 138.3,1087 138.3,1083.3 139,1084.1 139,1086.8 139.7,1089.2 139.7,1083 140.4,1085.6 140.4,1088.1 141.1,1088.8 141.1,1083.9 141.8,1084.5 141.8,1090.4 142.5,1089.7 142.5,1086.1 143.2,1085.1 143.2,1090.7 143.9,1089.3 143.9,1086.2 144.6,1084.8 144.6,1090.7 145.3,1089.7 145.3,1086 146,1085.7 146,1090.5 146.7,1089.8 146.7,1086.6 147.4,1086 147.4,1090.1 148.1,1092.5 148.1,1086.6 148.8,1087.3 148.8,1092.3 149.5,1092.2 149.5,1087.8 150.2,1087.9 150.2,1093.6 150.9,1091 150.9,1088.1 151.6,1088.3 151.6,1093.6 152.3,1094.2 152.3,1089 153,1090.3 153,1096.2 153.7,1093.6 153.7,1089.7 154.4,1091.3 154.4,1096.4 155.1,1096 155.1,1089.3 155.8,1091.4 155.8,1094.7 156.5,1094.5 156.5,1091.9 157.2,1091 157.2,1096.2 157.9,1094.5 157.9,1092 158.6,1091.4 158.6,1096.8 159.3,1096.4 159.3,1091.1 160,1090.1 160,1097.2 160.7,1098 160.7,1091.6 161.4,1092.3 161.4,1098.2 162.1,1096.8 162.1,1092 162.8,1091.4 162.8,1098.9 163.5,1098.9 163.5,1093.3 164.2,1093.5 164.2,1098.6 164.9,1099.3 164.9,1092.3 165.6,1094.3 165.6,1097.4 166.3,1098 166.3,1093.8 167,1092.5 167,1099.5 167.7,1100.3 167.7,1094 168.4,1092.5 168.4,1099.1 169.1,1098.4 169.1,1094.5 169.8,1096 169.8,1101.2 170.5,1099.8 170.5,1095.2 171.2,1094.9 171.2,1102.3 171.9,1102.3 171.9,1094.9 172.6,1093.1 172.6,1105.5 173.3,1102 173.3,1095 174,1095 174,1102 174.7,1101.7 174.7,1096.6 175.4,1094.7 175.4,1102.3 176.1,1098 176.1,1094.7 176.8,1094.5 176.8,1101.7 177.5,1100 177.5,1093.8 178.2,1098.2 178.2,1101.5 178.9,1102.8 178.9,1096 179.6,1097.6 179.6,1102 180.3,1104.2 180.3,1096 181,1096.6 181,1103.1 181.7,1102.5 181.7,1097.4 182.4,1097.8 182.4,1102.5 183.1,1102 183.1,1098.4 183.8,1098.2 183.8,1105.2 184.5,1106.5 184.5,1098.6 185.2,1097.6 185.2,1104.9 185.9,1106.8 185.9,1096.2 186.6,1098 186.6,1105.8 187.3,1108.2 187.3,1099.5 188,1098.2 188,1107.1 188.7,1105.2 188.7,1097 189.4,1100.3 189.4,1106.5 190.1,1104.9 190.1,1098.6 190.8,1098.6 190.8,1105.5 191.5,1109 191.5,1099.3 192.2,1100.3 192.2,1106.8 192.9,1109 192.9,1096.4 193.6,1100.7 193.6,1106.1 194.3,1105.2 194.3,1098.6 195,1100.3 195,1105.2 195.7,1111 195.7,1102.3 196.4,1100.3 196.4,1107.5 197.1,1109.3 197.1,1101.5 197.8,1099.3 197.8,1105.8 198.5,1107.8 198.5,1100.7 199.2,1102.5 199.2,1110.1 199.9,1106.8 199.9,1100.3 200.6,1101.5 200.6,1109.3 201.3,1109.7 201.3,1101.2 202,1102.3 202,1108.6 202.7,1107.5 202.7,1101.5 203.4,1100.3 203.4,1108.2 204.1,1108.6 204.1,1099.3 204.8,1101.7 204.8,1107.8 205.5,1106.1 205.5,1102.8 206.2,1102.5 206.2,1109.7 206.9,1108.2 206.9,1104.2 207.6,1102.3 207.6,1106.8 208.3,1112.3 208.3,1104.2 209,1101.5 209,1111 209.7,1112.8 209.7,1102.5 210.4,1103.1 210.4,1116.4 211.1,1111.4 211.1,1103.7 211.8,1103.1 211.8,1110.1 212.5,1113.2 212.5,1104 213.2,1104.9 213.2,1113.2 213.9,1109.7 213.9,1105.2 214.6,1102.8 214.6,1109.3 215.3,1109.7 215.3,1105.2 216,1105.2 216,1115.3 216.7,1114.7 216.7,1102.8 217.4,1105.2 217.4,1114.7 218.1,1112.3 218.1,1105.2 218.8,1105.5 218.8,1111.8 219.5,1112.8 219.5,1106.1 220.2,1106.1 220.2,1113.7 220.9,1111 220.9,1103.4 221.6,1105.8 221.6,1115.3 222.3,1114.2 222.3,1106.1 223,1106.1 223,1114.7 223.7,1112.8 223.7,1106.5 224.4,1107.8 224.4,1115.3 225.1,1112.3 225.1,1105.5 225.8,1107.1 225.8,1115.3 226.5,1116.9 226.5,1109.3 227.2,1108.6 227.2,1115.8 227.9,1118.8 227.9,1108.2 228.6,1109.3 228.6,1118.8 229.3,1118.1 229.3,1109.7 230,1110.1 230,1115.8 230.7,1119.4 230.7,1109 231.4,1107.8 231.4,1117.5 232.1,1115.8 232.1,1111.4 232.8,1109.3 232.8,1117.5 233.5,1118.1 233.5,1109 234.2,1108.2 234.2,1123.1 234.9,1119.4 234.9,1107.8 235.6,1104 235.6,1121.5 236.3,1119.4 236.3,1107.8 237,1108.6 237,1115.8 237.7,1120.8 237.7,1109.3 238.4,1108.6 238.4,1123.1 239.1,1117.5 239.1,1112.8 239.8,1109.3 239.8,1118.1 240.5,1120.8 240.5,1110.5 241.2,1109.3 241.2,1117.5 241.9,1123.9 241.9,1111.4 242.6,1110.1 242.6,1118.8 243.3,1117.5 243.3,1111 244,1108.6 244,1125.7 244.7,1123.1 244.7,1113.7 245.4,1110.5 245.4,1119.4 246.1,1123.1 246.1,1112.3 246.8,1113.2 246.8,1120.1 247.5,1120.1 247.5,1114.2 248.2,1110.5 248.2,1128.8 248.9,1125.7 248.9,1114.7 249.6,1114.2 249.6,1122.3 250.3,1123.1 250.3,1113.2 251,1113.7 251,1120.8 251.7,1125.7 251.7,1115.3 252.4,1112.8 252.4,1123.9 253.1,1121.5 253.1,1111.4 253.8,1114.2 253.8,1126.7 254.5,1122.3 254.5,1115.3 255.2,1112.8 255.2,1123.9 255.9,1125.7 255.9,1116.9 256.6,1112.3 256.6,1124.8 257.3,1123.1 257.3,1116.4 258,1113.7 258,1127.7 258.7,1128.8 258.7,1115.8 259.4,1115.3 259.4,1129.9 260.1,1129.9 260.1,1111 260.8,1112.3 260.8,1124.8 261.5,1122.3 261.5,1116.4 262.2,1118.8 262.2,1132.4 262.9,1129.9 262.9,1118.1 263.6,1120.1 263.6,1133.8 264.3,1129.9 264.3,1116.4 265,1116.9 265,1127.7 265.7,1133.8 265.7,1115.8 266.4,1117.5 266.4,1133.8 267.1,1131.1 267.1,1120.8 267.8,1117.5 267.8,1131.1 268.5,1131.1 268.5,1122.3 269.2,1117.5 269.2,1128.8 269.9,1128.8 269.9,1120.1 270.6,1119.4 270.6,1132.4 271.3,1131.1 271.3,1118.1 272,1120.8 272,1138.7 272.7,1129.9 272.7,1118.8 273.4,1118.8 273.4,1133.8 274.1,1129.9 274.1,1119.4 274.8,1119.4 274.8,1131.1 275.5,1133.8 275.5,1116.4 276.2,1125.7 276.2,1135.3 276.9,1136.9 276.9,1120.8 277.6,1120.8 277.6,1132.4 278.3,1131.1 278.3,1120.1 279,1120.1 279,1128.8 279.7,1135.3 279.7,1120.8 280.4,1120.1 280.4,1131.1 281.1,1132.4 281.1,1123.1 281.8,1119.4 281.8,1129.9 282.5,1129.9 282.5,1117.5 283.2,1116.4 283.2,1136.9 283.9,1132.4 283.9,1118.1 284.6,1120.1 284.6,1133.8 285.3,1132.4 285.3,1120.8 286,1118.8 286,1136.9 286.7,1140.7 286.7,1123.9 287.4,1122.3 287.4,1135.3 288.1,1136.9 288.1,1123.9 288.8,1123.1 288.8,1136.9 289.5,1133.8 289.5,1118.8 290.2,1121.5 290.2,1136.9 290.9,1145.4 290.9,1120.1 291.6,1120.1 291.6,1132.4 292.3,1131.1 292.3,1121.5 293,1123.9 293,1140.7 293.7,1140.7 293.7,1123.1 294.4,1122.3 294.4,1138.7 295.1,1135.3 295.1,1121.5 295.8,1118.8 295.8,1133.8 296.5,1136.9 296.5,1118.8 297.2,1120.8 297.2,1140.7 297.9,1135.3 297.9,1123.9 298.6,1122.3 298.6,1129.9 299.3,1138.7 299.3,1125.7 300,1122.3 300,1135.3 300.7,1135.3 300.7,1120.8 301.4,1125.7 301.4,1136.9 302.1,1136.9 302.1,1120.8 302.8,1120.8 302.8,1148.3 303.5,1148.3 303.5,1123.9 304.2,1120.1 304.2,1140.7 304.9,1136.9 304.9,1123.9 305.6,1123.9 305.6,1133.8 306.3,1138.7 306.3,1123.1 307,1123.9 307,1135.3 307.7,1136.9 307.7,1120.8 308.4,1118.8 308.4,1136.9 309.1,1138.7 309.1,1123.9 309.8,1123.1 309.8,1140.7 310.5,1136.9 310.5,1122.3 311.2,1123.9 311.2,1140.7 311.9,1140.7 311.9,1123.1 312.6,1123.1 312.6,1136.9 313.3,1135.3 313.3,1125.7 314,1124.8 314,1136.9 314.7,1133.8 314.7,1121.5 315.4,1123.1 315.4,1142.9 316.1,1140.7 316.1,1127.7 316.8,1123.1 316.8,1155.9 317.5,1145.4 317.5,1124.8 318.2,1124.8 318.2,1140.7 318.9,1140.7 318.9,1126.7 319.6,1124.8 319.6,1142.9 320.3,1151.7 320.3,1126.7 321,1123.1 321,1136.9 321.7,1140.7 321.7,1126.7 322.4,1125.7 322.4,1145.4 323.1,1133.8 323.1,1123.9 323.8,1123.9 323.8,1140.7 324.5,1138.7 324.5,1123.9 325.2,1125.7 325.2,1145.4 325.9,1148.3 325.9,1126.7 326.6,1123.9 326.6,1142.9 327.3,1135.3 327.3,1128.8 328,1126.7 328,1145.4 328.7,1140.7 328.7,1126.7 329.4,1126.7 329.4,1142.9 330.1,1142.9 330.1,1128.8 330.8,1125.7 330.8,1138.7 331.5,1145.4 331.5,1128.8 332.2,1127.7 332.2,1142.9 332.9,1142.9 332.9,1127.7 333.6,1126.7 333.6,1142.9 334.3,1140.7 334.3,1125.7 335,1128.8 335,1140.7 335.7,1148.3 335.7,1124.8 336.4,1127.7 336.4,1145.4 337.1,1142.9 337.1,1126.7 337.8,1128.8 337.8,1145.4 338.5,1136.9 338.5,1124.8 339.2,1127.7 339.2,1142.9 339.9,1148.3 339.9,1126.7 340.6,1128.8 340.6,1142.9 341.3,1142.9 341.3,1128.8 342,1125.7 342,1138.7 342.7,1138.7 342.7,1123.9 343.4,1122.3 343.4,1142.9 344.1,1148.3 344.1,1129.9 344.8,1127.7 344.8,1145.4 345.5,1145.4 345.5,1126.7 346.2,1123.9 346.2,1140.7 346.9,1142.9 346.9,1127.7 347.6,1125.7 347.6,1145.4 348.3,1145.4 348.3,1127.7 349,1125.7 349,1142.9 349.7,1148.3 349.7,1129.9 350.4,1124.8 350.4,1145.4 351.1,1148.3 351.1,1128.8 351.8,1129.9 351.8,1155.9 352.5,1151.7 352.5,1129.9 353.2,1128.8 353.2,1140.7 353.9,1155.9 353.9,1126.7 354.6,1128.8 354.6,1145.4 355.3,1145.4 355.3,1131.1 356,1131.1 356,1151.7 356.7,1151.7 356.7,1131.1 357.4,1122.3 357.4,1145.4 358.1,1148.3 358.1,1129.9 358.8,1127.7 358.8,1148.3 359.5,1145.4 359.5,1131.1 360.2,1126.7 360.2,1151.7 360.9,1148.3 360.9,1129.9 361.6,1129.9 361.6,1145.4 362.3,1148.3 362.3,1127.7 363,1132.4 363,1148.3 363.7,1168.8 363.7,1127.7 364.4,1128.8 364.4,1161.2 365.1,1161.2 365.1,1129.9 365.8,1132.4 365.8,1145.4 366.5,1148.3 366.5,1131.1 367.2,1128.8 367.2,1145.4 367.9,1148.3 367.9,1127.7 368.6,1127.7 368.6,1148.3 369.3,1155.9 369.3,1133.8 370,1133.8 370,1155.9 370.7,1142.9 370.7,1123.9 371.4,1127.7 371.4,1155.9 372.1,1148.3 372.1,1125.7 372.8,1132.4 372.8,1155.9 373.5,1148.3 373.5,1127.7 374.2,1131.1 374.2,1145.4 374.9,1151.7 374.9,1129.9 375.6,1124.8 375.6,1151.7 376.3,1148.3 376.3,1132.4 377,1127.7 377,1151.7 377.7,1151.7 377.7,1131.1 378.4,1131.1 378.4,1151.7 379.1,1151.7 379.1,1131.1 379.8,1133.8 379.8,1161.2 380.5,1148.3 380.5,1128.8 381.2,1135.3 381.2,1148.3 381.9,1151.7 381.9,1131.1 382.6,1131.1 382.6,1148.3 383.3,1145.4 383.3,1129.9 384,1132.4 384,1155.9 384.7,1148.3 384.7,1140.7 385.4,1133.8 385.4,1151.7 386.1,1148.3 386.1,1135.3 386.8,1133.8 386.8,1155.9 387.5,1151.7 387.5,1128.8 388.2,1135.3 388.2,1145.4 388.9,1161.2 388.9,1140.7 389.6,1131.1 389.6,1151.7 390.3,1151.7 390.3,1131.1 391,1133.8 391,1151.7 391.7,1155.9 391.7,1138.7 392.4,1138.7 392.4,1148.3 393.1,1151.7 393.1,1135.3 393.8,1132.4 393.8,1151.7 394.5,1168.8 394.5,1136.9 395.2,1132.4 395.2,1151.7 395.9,1168.8 395.9,1136.9 396.6,1136.9 396.6,1161.2 397.3,1155.9 397.3,1133.8 398,1138.7 398,1181.8 398.7,1148.3 398.7,1132.4 399.4,1138.7 399.4,1168.8 400.1,1155.9 400.1,1135.3 400.8,1135.3 400.8,1155.9 401.5,1181.8 401.5,1135.3 402.2,1132.4 402.2,1181.8 402.9,1151.7 402.9,1135.3 403.6,1135.3 403.6,1151.7 404.3,1168.8 404.3,1140.7 405,1136.9 405,1155.9 405.7,1155.9 405.7,1138.7 406.4,1138.7 406.4,1168.8 407.1,1161.2 407.1,1133.8 407.8,1135.3 407.8,1181.8 408.5,1161.2 408.5,1136.9 409.2,1133.8 409.2,1161.2 409.9,1155.9 409.9,1142.9 410.6,1138.7 410.6,1151.7 411.3,1168.8 411.3,1133.8 412,1136.9 412,1168.8 412.7,1161.2 412.7,1135.3 413.4,1135.3 413.4,1168.8 414.1,1161.2 414.1,1138.7 414.8,1138.7 414.8,1155.9 415.5,1151.7 415.5,1133.8 416.2,1140.7 416.2,1168.8 416.9,1161.2 416.9,1142.9 417.6,1135.3 417.6,1181.8 418.3,1181.8 418.3,1140.7 419,1135.3 419,1155.9 419.7,1181.8 419.7,1135.3 420.4,1140.7 420.4,1168.8 421.1,1151.7 421.1,1136.9 421.8,1138.7 421.8,1168.8 422.5,1161.2 422.5,1138.7 423.2,1142.9 423.2,1181.8 423.9,1161.2 423.9,1142.9 424.6,1138.7 424.6,1161.2 425.3,1161.2 425.3,1140.7 426,1145.4 426,1168.8 426.7,1181.8 426.7,1140.7 427.4,1136.9 427.4,1161.2 428.1,1168.8 428.1,1140.7 428.8,1140.7 428.8,1151.7 429.5,1168.8 429.5,1140.7 430.2,1136.9 430.2,1161.2 430.9,1161.2 430.9,1135.3 431.6,1132.4 431.6,1168.8 432.3,1161.2 432.3,1138.7 433,1140.7 433,1168.8 433.7,1168.8 433.7,1138.7 434.4,1142.9 434.4,1168.8 435.1,1181.8 435.1,1138.7 435.8,1145.4 435.8,1161.2 436.5,1168.8 436.5,1140.7 437.2,1133.8 437.2,1155.9 437.9,1181.8 437.9,1138.7 438.6,1133.8 438.6,1181.8 439.3,1168.8 439.3,1145.4 440,1136.9 440,1155.9 440.7,1168.8 440.7,1140.7 441.4,1138.7 441.4,1181.8 442.1,1181.8 442.1,1140.7 442.8,1140.7 442.8,1181.8 443.5,1161.2 443.5,1140.7 444.2,1142.9 444.2,1181.8 444.9,1168.8 444.9,1145.4 445.6,1138.7 445.6,1168.8 446.3,1161.2 446.3,1145.4 447,1136.9 447,1161.2 447.7,1168.8 447.7,1142.9 448.4,1140.7 448.4,1161.2 449.1,1161.2 449.1,1142.9 449.8,1142.9 449.8,1161.2 450.5,1168.8 450.5,1138.7 451.2,1138.7 451.2,1181.8 451.9,1161.2 451.9,1140.7 452.6,1140.7 452.6,1155.9 453.3,1181.8 453.3,1138.7 454,1140.7 454,1181.8 454.7,1168.8 454.7,1145.4 455.4,1142.9 455.4,1168.8 456.1,1168.8 456.1,1148.3 456.8,1138.7 456.8,1168.8 457.5,1168.8 457.5,1145.4 458.2,1142.9 458.2,1181.8 458.9,1161.2 458.9,1142.9 459.6,1145.4 459.6,1168.8 460.3,1181.8 460.3,1145.4 461,1145.4 461,1181.8 461.7,1161.2 461.7,1140.7 462.4,1140.7 462.4,1155.9 463.1,1168.8 463.1,1136.9 463.8,1135.3 463.8,1168.8 464.5,1161.2 464.5,1142.9 465.2,1148.3 465.2,1168.8 465.9,1168.8 465.9,1140.7 466.6,1151.7 466.6,1168.8 467.3,1168.8 467.3,1140.7 468,1145.4 468,1181.8 468.7,1181.8 468.7,1145.4 469.4,1145.4 469.4,1181.8 470.1,1181.8 470.1,1140.7 470.8,1145.4 470.8,1181.8 471.5,1168.8 471.5,1142.9 472.2,1142.9 472.2,1181.8 472.9,1181.8 472.9,1148.3 473.6,1142.9 473.6,1168.8 474.3,1181.8 474.3,1151.7 475,1142.9 475,1168.8 475.7,1168.8 475.7,1151.7 476.4,1148.3 476.4,1168.8 477.1,1181.8 477.1,1140.7 477.8,1148.3 477.8,1168.8 478.5,1181.8 478.5,1142.9 479.2,1140.7 479.2,1181.8 479.9,1168.8 479.9,1148.3 480.6,1151.7 480.6,1181.8 481.3,1181.8 481.3,1140.7 482,1145.4 482,1181.8 482.7,1181.8 482.7,1145.4 483.4,1145.4 483.4,1181.8 484.1,1181.8 484.1,1140.7 484.8,1151.7 484.8,1181.8 485.5,1168.8 485.5,1142.9 486.2,1151.7 486.2,1181.8 486.9,1181.8 486.9,1148.3 487.6,1142.9 487.6,1181.8 488.3,1181.8 488.3,1151.7 489,1145.4 489,1181.8 489.7,1181.8 489.7,1151.7 490.4,1140.7 490.4,1181.8 491.1,1181.8 491.1,1148.3 491.8,1155.9 491.8,1181.8 492.5,1181.8 492.5,1148.3 493.2,1142.9 493.2,1181.8 493.9,1181.8 493.9,1148.3 494.6,1138.7 494.6,1181.8 495.3,1181.8 495.3,1148.3 496,1148.3 496,1181.8 496.7,1181.8 496.7,1140.7 497.4,1145.4 497.4,1181.8 498.1,1168.8 498.1,1148.3 498.8,1142.9 498.8,1181.8 499.5,1181.8 499.5,1145.4 500.2,1145.4 500.2,1181.8 500.9,1181.8 500.9,1148.3 501.6,1151.7 501.6,1181.8 502.3,1181.8 502.3,1155.9 503,1151.7 503,1181.8 503.7,1181.8 503.7,1151.7 504.4,1151.7 504.4,1181.8 505.1,1181.8 505.1,1148.3 505.8,1151.7 505.8,1181.8 506.5,1181.8 506.5,1145.4 507.2,1145.4 507.2,1181.8 507.9,1181.8 507.9,1151.7" stroke="#0B6B3A" stroke-width="1.05" fill="none" stroke-linejoin="round"/></g>
<line x1="69.3" y1="1035.5" x2="69.3" y2="1182.3" stroke="#6D6E71" stroke-width="1.2"/>
<line x1="68.7" y1="1181.8" x2="508.9" y2="1181.8" stroke="#6D6E71" stroke-width="1.3"/>
<line x1="508.3" y1="1035.5" x2="508.3" y2="1181.8" stroke="#A7A9AC" stroke-width="1.3"/>
<line x1="69.3" y1="1168.8" x2="72.1" y2="1168.8" stroke="#808285" stroke-width="0.8"/>
<line x1="69.3" y1="1161.2" x2="72.1" y2="1161.2" stroke="#808285" stroke-width="0.8"/>
<line x1="69.3" y1="1155.9" x2="72.1" y2="1155.9" stroke="#808285" stroke-width="0.8"/>
<line x1="69.3" y1="1151.7" x2="72.1" y2="1151.7" stroke="#808285" stroke-width="0.8"/>
<line x1="69.3" y1="1148.3" x2="72.1" y2="1148.3" stroke="#808285" stroke-width="0.8"/>
<line x1="69.3" y1="1145.4" x2="72.1" y2="1145.4" stroke="#808285" stroke-width="0.8"/>
<line x1="69.3" y1="1142.9" x2="72.1" y2="1142.9" stroke="#808285" stroke-width="0.8"/>
<line x1="69.3" y1="1140.7" x2="72.1" y2="1140.7" stroke="#808285" stroke-width="0.8"/>
<text x="40.8" y="1187.6">10<tspan dy="-5.8" font-size="10.5">0</tspan></text>
<line x1="69.3" y1="1138.7" x2="74.3" y2="1138.7" stroke="#414042" stroke-width="1"/>
<line x1="69.3" y1="1125.7" x2="72.1" y2="1125.7" stroke="#808285" stroke-width="0.8"/>
<line x1="69.3" y1="1118.1" x2="72.1" y2="1118.1" stroke="#808285" stroke-width="0.8"/>
<line x1="69.3" y1="1112.8" x2="72.1" y2="1112.8" stroke="#808285" stroke-width="0.8"/>
<line x1="69.3" y1="1108.6" x2="72.1" y2="1108.6" stroke="#808285" stroke-width="0.8"/>
<line x1="69.3" y1="1105.2" x2="72.1" y2="1105.2" stroke="#808285" stroke-width="0.8"/>
<line x1="69.3" y1="1102.3" x2="72.1" y2="1102.3" stroke="#808285" stroke-width="0.8"/>
<line x1="69.3" y1="1099.8" x2="72.1" y2="1099.8" stroke="#808285" stroke-width="0.8"/>
<line x1="69.3" y1="1097.6" x2="72.1" y2="1097.6" stroke="#808285" stroke-width="0.8"/>
<text x="40.8" y="1144.5">10<tspan dy="-5.8" font-size="10.5">1</tspan></text>
<line x1="69.3" y1="1095.6" x2="74.3" y2="1095.6" stroke="#414042" stroke-width="1"/>
<line x1="69.3" y1="1082.6" x2="72.1" y2="1082.6" stroke="#808285" stroke-width="0.8"/>
<line x1="69.3" y1="1075" x2="72.1" y2="1075" stroke="#808285" stroke-width="0.8"/>
<line x1="69.3" y1="1069.7" x2="72.1" y2="1069.7" stroke="#808285" stroke-width="0.8"/>
<line x1="69.3" y1="1065.5" x2="72.1" y2="1065.5" stroke="#808285" stroke-width="0.8"/>
<line x1="69.3" y1="1062.1" x2="72.1" y2="1062.1" stroke="#808285" stroke-width="0.8"/>
<line x1="69.3" y1="1059.2" x2="72.1" y2="1059.2" stroke="#808285" stroke-width="0.8"/>
<line x1="69.3" y1="1056.7" x2="72.1" y2="1056.7" stroke="#808285" stroke-width="0.8"/>
<line x1="69.3" y1="1054.5" x2="72.1" y2="1054.5" stroke="#808285" stroke-width="0.8"/>
<text x="40.8" y="1101.4">10<tspan dy="-5.8" font-size="10.5">2</tspan></text>
<line x1="69.3" y1="1052.5" x2="74.3" y2="1052.5" stroke="#414042" stroke-width="1"/>
<line x1="69.3" y1="1039.5" x2="72.1" y2="1039.5" stroke="#808285" stroke-width="0.8"/>
<text x="40.8" y="1058.3">10<tspan dy="-5.8" font-size="10.5">3</tspan></text>
<text x="72.5" y="1198" text-anchor="middle">0</text>
<text x="180" y="1198" text-anchor="middle">1</text>
<text x="289.3" y="1198" text-anchor="middle">2</text>
<text x="397.5" y="1198" text-anchor="middle">3</text>
<text x="506.3" y="1198" text-anchor="middle">4</text>
<line x1="178.6" y1="1181.8" x2="178.6" y2="1177.8" stroke="#231F20" stroke-width="1"/>
<line x1="288.3" y1="1181.8" x2="288.3" y2="1177.8" stroke="#231F20" stroke-width="1"/>
<line x1="398.3" y1="1181.8" x2="398.3" y2="1177.8" stroke="#231F20" stroke-width="1"/>
<text x="289" y="1220" text-anchor="middle">Time (ms)</text>
<text text-anchor="middle" transform="translate(25.2,1107.5) rotate(-90)">EL intensity (counts)</text>
<text x="97.5" y="1057.5">NaGd<tspan font-size="10" dy="3.2">0.6</tspan><tspan dy="-3.2">F</tspan><tspan font-size="10" dy="3.2">4</tspan><tspan dy="-3.2">:Tb</tspan><tspan font-size="10" dy="3.2">0.4</tspan><tspan dy="-3.2">@ligand</tspan></text>
<text x="327.5" y="1057.5">Ligand =</text>
<line x1="390.5" y1="1053.3" x2="426.3" y2="1053.3" stroke="#D2D85C" stroke-width="1.6"/>
<text x="432" y="1057.7">OA</text>
<line x1="390.5" y1="1071.8" x2="426.3" y2="1071.8" stroke="#52AD4C" stroke-width="1.6"/>
<text x="432" y="1076.2">Null</text>
<line x1="390.5" y1="1091.3" x2="426.3" y2="1091.3" stroke="#0B6B3A" stroke-width="1.6"/>
<text x="432" y="1095.7">CzPPOA</text>
<path d="M78.9 1170.1L145.8 1105.7L146.9 1110.6L153 1095.5L138 1101.7L142.8 1102.7L78.7 1169.9Z" fill="#000"/>
<text transform="translate(581,865.6) scale(1.14,1)" style="font-size:14.6px;font-weight:bold;fill:#000;stroke:#000;stroke-width:0.55px;stroke-linejoin:round">f</text>
<rect x="628.6" y="900.5" width="440.4" height="5.9" fill="url(#fcb)"/>
<line x1="699.7" y1="900.5" x2="699.7" y2="906.4" stroke="#1a1a1a" stroke-width="0.9"/>
<line x1="769.1" y1="900.5" x2="769.1" y2="906.4" stroke="#1a1a1a" stroke-width="0.9"/>
<line x1="838.5" y1="900.5" x2="838.5" y2="906.4" stroke="#1a1a1a" stroke-width="0.9"/>
<line x1="907.9" y1="900.5" x2="907.9" y2="906.4" stroke="#1a1a1a" stroke-width="0.9"/>
<line x1="977.3" y1="900.5" x2="977.3" y2="906.4" stroke="#1a1a1a" stroke-width="0.9"/>
<line x1="1046.7" y1="900.5" x2="1046.7" y2="906.4" stroke="#1a1a1a" stroke-width="0.9"/>
<text x="630.4" y="894" text-anchor="middle">0</text>
<text x="699.8" y="894" text-anchor="middle">0.5</text>
<text x="769.2" y="894" text-anchor="middle">1.0</text>
<text x="838.6" y="894" text-anchor="middle">1.5</text>
<text x="908" y="894" text-anchor="middle">2.0</text>
<text x="977.4" y="894" text-anchor="middle">2.5</text>
<text x="1046.8" y="894" text-anchor="middle">3.0</text>
<text x="848.8" y="874.2" text-anchor="middle">Log count (10<tspan dy="-5.4" font-size="10">0</tspan><tspan dy="5.4">)</tspan></text>
<g clip-path="url(#fclip)"><rect x="628.6" y="916" width="440.4" height="263.5999999999999" fill="#1F2A60"/><g filter="url(#fvb)"><rect x="645" y="957.7" width="342" height="1.05" fill="url(#r0)"/><rect x="645" y="958.4" width="342" height="1.05" fill="url(#r1)"/><rect x="645" y="959.1" width="342" height="1.05" fill="url(#r2)"/><rect x="645" y="959.8" width="342" height="1.05" fill="url(#r3)"/><rect x="645" y="960.5" width="342" height="6.25" fill="url(#r4)"/><rect x="645" y="966.4" width="342" height="6.25" fill="url(#r5)"/><rect x="645" y="972.3" width="342" height="6.25" fill="url(#r6)"/><rect x="645" y="978.2" width="342" height="6.25" fill="url(#r7)"/><rect x="645" y="984.1" width="342" height="6.25" fill="url(#r8)"/><rect x="645" y="990" width="342" height="1.35" fill="url(#r9)"/><rect x="645" y="991" width="342" height="1.35" fill="url(#r10)"/><rect x="645" y="992" width="342" height="1.35" fill="url(#r11)"/><rect x="645" y="993" width="342" height="1.35" fill="url(#r12)"/><rect x="645" y="994" width="342" height="1.35" fill="url(#r13)"/><rect x="645" y="995" width="342" height="1.35" fill="url(#r14)"/><rect x="645" y="996" width="342" height="1.35" fill="url(#r15)"/><rect x="645" y="997" width="342" height="1.35" fill="url(#r16)"/><rect x="645" y="998" width="342" height="1.35" fill="url(#r17)"/><rect x="645" y="999" width="342" height="1.35" fill="url(#r18)"/><rect x="645" y="1000" width="342" height="1.35" fill="url(#r19)"/><rect x="645" y="1001" width="342" height="1.35" fill="url(#r20)"/><rect x="645" y="1002" width="342" height="1.35" fill="url(#r21)"/></g><g filter="url(#fvb)"><rect x="644" y="1046" width="343" height="1.05" fill="url(#r22)"/><rect x="644" y="1046.7" width="343" height="1.05" fill="url(#r23)"/><rect x="644" y="1047.4" width="343" height="1.05" fill="url(#r24)"/><rect x="644" y="1048.1" width="343" height="1.05" fill="url(#r25)"/><rect x="644" y="1048.8" width="343" height="5.91" fill="url(#r26)"/><rect x="644" y="1054.36" width="343" height="5.91" fill="url(#r27)"/><rect x="644" y="1059.92" width="343" height="5.91" fill="url(#r28)"/><rect x="644" y="1065.48" width="343" height="5.91" fill="url(#r29)"/><rect x="644" y="1071.04" width="343" height="5.91" fill="url(#r30)"/><rect x="644" y="1076.6" width="343" height="1.35" fill="url(#r31)"/><rect x="644" y="1077.6" width="343" height="1.35" fill="url(#r32)"/><rect x="644" y="1078.6" width="343" height="1.35" fill="url(#r33)"/><rect x="644" y="1079.6" width="343" height="1.35" fill="url(#r34)"/><rect x="644" y="1080.6" width="343" height="1.35" fill="url(#r35)"/><rect x="644" y="1081.6" width="343" height="1.35" fill="url(#r36)"/><rect x="644" y="1082.6" width="343" height="1.35" fill="url(#r37)"/><rect x="644" y="1083.6" width="343" height="1.35" fill="url(#r38)"/><rect x="644" y="1084.6" width="343" height="1.35" fill="url(#r39)"/><rect x="644" y="1085.6" width="343" height="1.35" fill="url(#r40)"/><rect x="644" y="1086.6" width="343" height="1.35" fill="url(#r41)"/><rect x="644" y="1087.6" width="343" height="1.35" fill="url(#r42)"/><rect x="644" y="1088.6" width="343" height="1.35" fill="url(#r43)"/></g><ellipse cx="766" cy="1126" rx="78" ry="22" fill="#1C44A2" fill-opacity="0.8" filter="url(#fb4)"/><g filter="url(#fvb)"><rect x="644" y="1101.5" width="343" height="1.85" fill="url(#r44)"/><rect x="644" y="1103" width="343" height="1.85" fill="url(#r45)"/><rect x="644" y="1104.5" width="343" height="1.85" fill="url(#r46)"/><rect x="644" y="1106" width="343" height="1.85" fill="url(#r47)"/><rect x="644" y="1107.5" width="343" height="1.85" fill="url(#r48)"/><rect x="644" y="1109" width="343" height="1.85" fill="url(#r49)"/><rect x="644" y="1110.5" width="343" height="1.85" fill="url(#r50)"/><rect x="644" y="1112" width="343" height="1.85" fill="url(#r51)"/><rect x="644" y="1113.5" width="343" height="1.85" fill="url(#r52)"/><rect x="644" y="1115" width="343" height="1.85" fill="url(#r53)"/><rect x="644" y="1116.5" width="343" height="1.85" fill="url(#r54)"/><rect x="644" y="1118" width="343" height="1.85" fill="url(#r55)"/><rect x="644" y="1119.5" width="343" height="1.85" fill="url(#r56)"/><rect x="644" y="1121" width="343" height="1.85" fill="url(#r57)"/><rect x="644" y="1122.5" width="343" height="1.85" fill="url(#r58)"/><rect x="644" y="1124" width="343" height="1.85" fill="url(#r59)"/><rect x="644" y="1125.5" width="343" height="1.85" fill="url(#r60)"/><rect x="644" y="1127" width="343" height="1.85" fill="url(#r61)"/><rect x="644" y="1128.5" width="343" height="1.85" fill="url(#r62)"/><rect x="644" y="1130" width="343" height="1.85" fill="url(#r63)"/><rect x="644" y="1131.5" width="343" height="1.85" fill="url(#r64)"/><rect x="644" y="1133" width="343" height="1.85" fill="url(#r65)"/><rect x="644" y="1133.3" width="343" height="1.05" fill="url(#r66)"/><rect x="644" y="1134" width="343" height="1.05" fill="url(#r67)"/><rect x="644" y="1134.7" width="343" height="1.05" fill="url(#r68)"/><rect x="644" y="1135.4" width="343" height="1.05" fill="url(#r69)"/><rect x="644" y="1136.1" width="343" height="6.53" fill="url(#r70)"/><rect x="644" y="1142.28" width="343" height="6.53" fill="url(#r71)"/><rect x="644" y="1148.46" width="343" height="6.53" fill="url(#r72)"/><rect x="644" y="1154.64" width="343" height="6.53" fill="url(#r73)"/><rect x="644" y="1160.82" width="343" height="6.53" fill="url(#r74)"/><rect x="644" y="1167" width="343" height="1.35" fill="url(#r75)"/><rect x="644" y="1168" width="343" height="1.35" fill="url(#r76)"/><rect x="644" y="1169" width="343" height="1.35" fill="url(#r77)"/><rect x="644" y="1170" width="343" height="1.35" fill="url(#r78)"/><rect x="644" y="1171" width="343" height="1.35" fill="url(#r79)"/><rect x="644" y="1172" width="343" height="1.35" fill="url(#r80)"/><rect x="644" y="1173" width="343" height="1.35" fill="url(#r81)"/><rect x="644" y="1174" width="343" height="1.35" fill="url(#r82)"/><rect x="644" y="1175" width="343" height="1.35" fill="url(#r83)"/><rect x="644" y="1176" width="343" height="1.35" fill="url(#r84)"/><rect x="644" y="1177" width="343" height="1.35" fill="url(#r85)"/><rect x="644" y="1178" width="343" height="1.35" fill="url(#r86)"/><rect x="644" y="1179" width="343" height="1.35" fill="url(#r87)"/></g></g>
<line x1="674.3" y1="974.4" x2="725.6" y2="974.4" stroke="#fff" stroke-width="2.2"/><path d="M729.6 974.4L720.8 978L722.74 974.4L720.8 970.8Z" fill="#fff"/>
<line x1="729.6" y1="974.4" x2="794" y2="974.4" stroke="#fff" stroke-width="2.2"/><path d="M798 974.4L789.2 978L791.14 974.4L789.2 970.8Z" fill="#fff"/>
<path d="M754.4 966.4L772 982.4M754.4 982.4L772 966.4" stroke="#fff" stroke-width="2.2" fill="none"/>
<line x1="674.3" y1="1059.4" x2="725.6" y2="1059.4" stroke="#fff" stroke-width="2.2"/><path d="M729.6 1059.4L720.8 1063L722.74 1059.4L720.8 1055.8Z" fill="#fff"/>
<line x1="729.6" y1="1059.4" x2="794" y2="1059.4" stroke="#fff" stroke-width="2.2"/><path d="M798 1059.4L789.2 1063L791.14 1059.4L789.2 1055.8Z" fill="#fff"/>
<path d="M754.4 1051.4L772 1067.4M754.4 1067.4L772 1051.4" stroke="#fff" stroke-width="2.2" fill="none"/>
<line x1="674.5" y1="1147.2" x2="720.4" y2="1147.2" stroke="#fff" stroke-width="2.2"/><path d="M724.4 1147.2L715.6 1150.8L717.54 1147.2L715.6 1143.6Z" fill="#fff"/>
<line x1="724.4" y1="1147.2" x2="794.3" y2="1147.2" stroke="#fff" stroke-width="2.2"/><path d="M798.3 1147.2L789.5 1150.8L791.44 1147.2L789.5 1143.6Z" fill="#fff"/>
<path d="M798 1147.2L808 1147.2C818 1147.2 823.5 1142 826 1131.5" stroke="#fff" stroke-width="2.2" fill="none"/>
<path d="M827.6 1125.2L828.96 1134.61L825.94 1131.86L821.98 1132.87Z" fill="#fff"/>
<line x1="682.2" y1="1111.2" x2="694.8" y2="1111.2" stroke="#fff" stroke-width="1.1"/><path d="M697.8 1111.2L691.8 1113.5L693.3 1111.2L691.8 1108.9Z" fill="#fff"/>
<line x1="752.4" y1="1111.2" x2="785.2" y2="1111.2" stroke="#fff" stroke-width="1.1"/><path d="M788.2 1111.2L782.2 1113.5L783.7 1111.2L782.2 1108.9Z" fill="#fff"/>
<text x="645.2" y="1116" style="fill:#fff;">Host</text>
<text x="703.6" y="1116" style="fill:#fff;">ligand</text>
<text x="793.3" y="1116" style="fill:#fff">NaGd<tspan font-size="10" dy="3.2">1-</tspan><tspan font-size="10" font-style="italic">x</tspan><tspan dy="-3.2">F</tspan><tspan font-size="10" dy="3.2">4</tspan><tspan dy="-3.2">:Tb</tspan><tspan font-size="10" font-style="italic" dy="3.2">x</tspan></text>
<text x="653.6" y="943.8" style="fill:#fff">NaGd<tspan font-size="10" dy="3.2">0.6</tspan><tspan dy="-3.2">F</tspan><tspan font-size="10" dy="3.2">4</tspan><tspan dy="-3.2">:Tb</tspan><tspan font-size="10" dy="3.2">0.4</tspan><tspan dy="-3.2">@ligand</tspan></text>
<text x="1053.6" y="943.8" text-anchor="end" style="fill:#fff;">Ligand = OA</text>
<text x="1053.6" y="1030.6" text-anchor="end" style="fill:#fff;">Null</text>
<text x="1053.6" y="1117.6" text-anchor="end" style="fill:#fff;">CzPPOA</text>
<line x1="628.1" y1="1179.6" x2="1069.5" y2="1179.6" stroke="#1a1a1a" stroke-width="1.5"/>
<line x1="702.7" y1="1179.6" x2="702.7" y2="1174.2" stroke="#1a1a1a" stroke-width="1"/>
<line x1="793.5" y1="1179.6" x2="793.5" y2="1174.2" stroke="#1a1a1a" stroke-width="1"/>
<line x1="884.4" y1="1179.6" x2="884.4" y2="1174.2" stroke="#1a1a1a" stroke-width="1"/>
<line x1="975.3" y1="1179.6" x2="975.3" y2="1174.2" stroke="#1a1a1a" stroke-width="1"/>
<line x1="1066.1" y1="1179.6" x2="1066.1" y2="1174.2" stroke="#1a1a1a" stroke-width="1"/>
<text x="702.4" y="1196.8" text-anchor="middle">400</text>
<text x="793.4" y="1196.8" text-anchor="middle">500</text>
<text x="884.4" y="1196.8" text-anchor="middle">600</text>
<text x="975.4" y="1196.8" text-anchor="middle">700</text>
<text x="1065.4" y="1196.8" text-anchor="middle">800</text>
<text x="848.7" y="1218.3" text-anchor="middle">Wavelength (nm)</text>
<line x1="628.6" y1="961.3" x2="634" y2="961.3" stroke="#10183C" stroke-width="1"/>
<line x1="628.6" y1="1004.4" x2="634" y2="1004.4" stroke="#10183C" stroke-width="1"/>
<line x1="628.6" y1="1048" x2="634" y2="1048" stroke="#10183C" stroke-width="1"/>
<line x1="628.6" y1="1091" x2="634" y2="1091" stroke="#10183C" stroke-width="1"/>
<line x1="628.6" y1="1134.7" x2="634" y2="1134.7" stroke="#10183C" stroke-width="1"/>
<text x="621.6" y="922.8" text-anchor="end">40</text>
<text x="621.6" y="966.8" text-anchor="end">20</text>
<text x="621.6" y="1002.3" text-anchor="end">0</text>
<text x="621.6" y="1019.4" text-anchor="end">40</text>
<text x="621.6" y="1053" text-anchor="end">20</text>
<text x="621.6" y="1088" text-anchor="end">0</text>
<text x="621.6" y="1105.6" text-anchor="end">40</text>
<text x="621.6" y="1139.6" text-anchor="end">20</text>
<text x="621.6" y="1183.4" text-anchor="end">0</text>
<text text-anchor="middle" transform="translate(592.4,1048) rotate(-90)">Time (µs)</text>
</svg>
</body></html>
